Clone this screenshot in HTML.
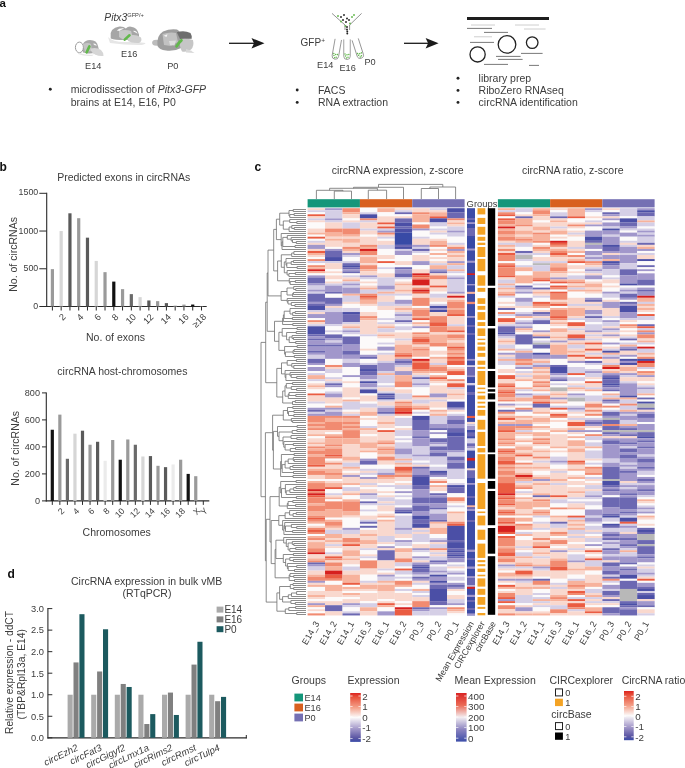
<!DOCTYPE html>
<html><head><meta charset="utf-8"><style>
html,body{margin:0;padding:0;background:#fff;}
svg{display:block;font-family:"Liberation Sans", sans-serif;will-change:transform;}
</style></head><body>
<svg width="685" height="768" viewBox="0 0 685 768">
<rect x="0" y="0" width="685" height="768" fill="#fff"/>
<text x="-0.5" y="6.5" font-size="11.5" text-anchor="start" fill="#111" style="font-weight:bold;">a</text>
<text x="-0.6" y="171.4" font-size="12" text-anchor="start" fill="#111" style="font-weight:bold;">b</text>
<text x="254.6" y="171.2" font-size="12" text-anchor="start" fill="#111" style="font-weight:bold;">c</text>
<text x="7.5" y="577.8" font-size="12" text-anchor="start" fill="#111" style="font-weight:bold;">d</text>
<text x="104.3" y="20.8" font-size="10.3" fill="#3c3c3c"><tspan style="font-style:italic">Pitx3</tspan><tspan font-size="5.7" dy="-3.7">GFP/+</tspan></text>
<defs><filter id="bl" x="-10%" y="-10%" width="120%" height="120%"><feGaussianBlur stdDeviation="0.35"/></filter></defs>
<g filter="url(#bl)">
<path d="M83 52.5 Q80 40.5 90 40 Q97 40 98 46 L99 50 Q95 54 88 53.5 Z" fill="#a9a9a9"/>
<ellipse cx="79.4" cy="47.4" rx="4.0" ry="5.3" fill="#fff" stroke="#9a9a9a" stroke-width="1"/>
<path d="M83 44 Q88 42 91 44 L92 51 L85 52 Z" fill="#c4c4c4"/>
<path d="M93.3 43.5 Q96 43 96.8 45.8 L94 45 Z" fill="#f4f4f4"/>
<path d="M90.5 48.5 Q97 47 101 50 Q104 53 103.5 56 Q99 56.5 95 54.5 Q91 52.5 90.5 48.5 Z" fill="#d6d6d6"/>
<path d="M78 52.5 Q86 55.5 94 54.5 L92 56 Q84 56.5 78 54 Z" fill="#e6e6e6"/>
<path d="M89.4 46.4 L86.6 52.4" stroke="#62b84c" stroke-width="2.6" stroke-linecap="round"/>
</g>
<g filter="url(#bl)">
<path d="M108 37 Q112 42 125 42 Q138 41.5 145.6 43 Q144 45.5 138 45 Q124 45 110 43 Z" fill="#e6e6e6"/>
<path d="M110.7 36.5 Q109.5 28 119.4 26.4 Q124 26.2 125.8 28.5 Q128 26.2 131 26.7 Q137.5 27.5 139 34.5 L139 38 Q130 40.5 124 40 Q115 40 110.7 38.5 Z" fill="#a6a6a6"/>
<path d="M116.8 30.6 Q119 28 124.1 28.4 Q121 29.6 119.5 30.9 Z" fill="#fbfbfb"/>
<path d="M133.5 30.7 Q136.5 30.5 137.6 33.7 Q135.5 32.5 133.5 31.5 Z" fill="#fbfbfb"/>
<path d="M119 31 Q125 29 131 31 L133 38 L124 40 L119 37 Z" fill="#c8c8c8"/>
<path d="M128 36 Q135 33.5 141 37.5 Q142.5 41 139 43 Q132 43.5 128 41 Z" fill="#cfcfcf"/>
<path d="M129.5 35.3 L124.7 39.6" stroke="#62b84c" stroke-width="2.6" stroke-linecap="round"/>
</g>
<g filter="url(#bl)">
<ellipse cx="156.3" cy="42.8" rx="4.2" ry="3.0" fill="#bcbcbc"/>
<path d="M157.5 46 Q156 36 163 31.5 Q170 28.6 177 29.6 Q181 31.5 181 38 L181 48 Q175 51.5 166 50.6 Q159 49.5 157.5 46 Z" fill="#9e9e9e"/>
<path d="M162.5 34 Q170 31.5 176 33 L178 42 L171 46 L164 45 Z" fill="#c2c2c2"/>
<path d="M163.8 35.8 L167.5 34.2 L166.5 37 Z" fill="#f6f6f6"/>
<path d="M169 41 L176 40.5 L174.5 45.5 L170 45 Z" fill="#dedede"/>
<path d="M176.8 32.3 Q184 30 190.5 33 Q192.3 36 191.7 38.8 L180 39 Z" fill="#6e6e6e"/>
<path d="M180 39 Q187 38 193 40 Q194.5 46 191 49.5 Q186.5 52.5 182 51.5 Q179 46 180 39 Z" fill="#c6c6c6"/>
<path d="M186 49 Q191 50 194.5 53 L186 52.4 Z" fill="#d8d8d8"/>
<path d="M181.4 40.3 Q178.6 42.6 176.6 46.4" stroke="#62b84c" stroke-width="2.8" fill="none" stroke-linecap="round"/>
</g>
<text x="85" y="69" font-size="9.2" text-anchor="start" fill="#3c3c3c" style="">E14</text>
<text x="121" y="56.6" font-size="9.2" text-anchor="start" fill="#3c3c3c" style="">E16</text>
<text x="167.2" y="69" font-size="9.2" text-anchor="start" fill="#3c3c3c" style="">P0</text>
<circle cx="50.3" cy="89.3" r="1.45" fill="#222"/>
<text x="70.7" y="93.2" font-size="10.5" fill="#3c3c3c">microdissection of <tspan style="font-style:italic">Pitx3-GFP</tspan></text>
<text x="70.7" y="105.8" font-size="10.5" text-anchor="start" fill="#3c3c3c" style="">brains at E14, E16, P0</text>
<line x1="229" y1="43.3" x2="258.5" y2="43.3" stroke="#1a1a1a" stroke-width="1.3"/>
<path d="M251.5 38.099999999999994 L264.5 43.3 L251.5 48.5 L254.0 43.3 Z" fill="#1a1a1a"/>
<line x1="404" y1="43.3" x2="432.6" y2="43.3" stroke="#1a1a1a" stroke-width="1.3"/>
<path d="M425.6 38.099999999999994 L438.6 43.3 L425.6 48.5 L428.1 43.3 Z" fill="#1a1a1a"/>
<text x="300.6" y="46.4" font-size="10" fill="#3c3c3c">GFP<tspan font-size="6.5" dy="-3.8">+</tspan></text>
<path d="M332 13.4 L345 25 L345 30 M361.6 13.4 L349.6 25 L349.6 30" stroke="#777" stroke-width="0.8" fill="none"/>
<circle cx="341" cy="17" r="0.95" fill="#222"/>
<circle cx="344" cy="15" r="0.95" fill="#222"/>
<circle cx="347" cy="18.5" r="0.95" fill="#222"/>
<circle cx="343" cy="20" r="0.95" fill="#222"/>
<circle cx="346" cy="22" r="0.95" fill="#222"/>
<circle cx="349" cy="20" r="0.95" fill="#222"/>
<circle cx="338" cy="16" r="0.95" fill="#62b84c"/>
<circle cx="352" cy="17" r="0.95" fill="#62b84c"/>
<circle cx="354" cy="15" r="0.95" fill="#62b84c"/>
<circle cx="341" cy="21.5" r="0.95" fill="#62b84c"/>
<circle cx="350" cy="23.5" r="0.95" fill="#62b84c"/>
<circle cx="345.5" cy="26" r="0.95" fill="#62b84c"/>
<circle cx="347" cy="27" r="0.95" fill="#222"/>
<circle cx="347" cy="29.5" r="0.95" fill="#222"/>
<circle cx="347.3" cy="31.5" r="0.95" fill="#222"/>
<circle cx="347.3" cy="33.5" r="0.95" fill="#222"/>
<g transform="translate(338.3 39.4) rotate(10.02)">
<path d="M-3.25 0 L-3.25 16.856963967740136 A3.25 3.25 0 0 0 3.25 16.856963967740136 L3.25 0" stroke="#888" stroke-width="0.8" fill="none"/>
<circle cx="-1.5" cy="16.606963967740136" r="0.75" fill="#62b84c"/>
<circle cx="1" cy="17.906963967740136" r="0.75" fill="#62b84c"/>
<circle cx="0" cy="15.306963967740135" r="0.75" fill="#62b84c"/>
<circle cx="1.8" cy="15.106963967740136" r="0.75" fill="#62b84c"/>
<circle cx="-0.5" cy="18.606963967740136" r="0.75" fill="#62b84c"/>
<circle cx="-2" cy="14.606963967740136" r="0.75" fill="#62b84c"/>
</g>
<g transform="translate(347 39.4) rotate(0.00)">
<path d="M-3.25 0 L-3.25 16.85 A3.25 3.25 0 0 0 3.25 16.85 L3.25 0" stroke="#888" stroke-width="0.8" fill="none"/>
<circle cx="-1.5" cy="16.6" r="0.75" fill="#62b84c"/>
<circle cx="1" cy="17.900000000000002" r="0.75" fill="#62b84c"/>
<circle cx="0" cy="15.3" r="0.75" fill="#62b84c"/>
<circle cx="1.8" cy="15.100000000000001" r="0.75" fill="#62b84c"/>
<circle cx="-0.5" cy="18.6" r="0.75" fill="#62b84c"/>
<circle cx="-2" cy="14.600000000000001" r="0.75" fill="#62b84c"/>
</g>
<g transform="translate(355.2 39.4) rotate(-17.70)">
<path d="M-3.25 0 L-3.25 16.48423421367042 A3.25 3.25 0 0 0 3.25 16.48423421367042 L3.25 0" stroke="#888" stroke-width="0.8" fill="none"/>
<circle cx="-1.5" cy="16.23423421367042" r="0.75" fill="#62b84c"/>
<circle cx="1" cy="17.53423421367042" r="0.75" fill="#62b84c"/>
<circle cx="0" cy="14.934234213670418" r="0.75" fill="#62b84c"/>
<circle cx="1.8" cy="14.734234213670419" r="0.75" fill="#62b84c"/>
<circle cx="-0.5" cy="18.23423421367042" r="0.75" fill="#62b84c"/>
<circle cx="-2" cy="14.234234213670419" r="0.75" fill="#62b84c"/>
</g>
<text x="317" y="67.6" font-size="9.2" text-anchor="start" fill="#3c3c3c" style="">E14</text>
<text x="339.4" y="70.6" font-size="9.2" text-anchor="start" fill="#3c3c3c" style="">E16</text>
<text x="364.4" y="65" font-size="9.2" text-anchor="start" fill="#3c3c3c" style="">P0</text>
<circle cx="297.2" cy="90" r="1.45" fill="#222"/>
<circle cx="297.2" cy="102.4" r="1.45" fill="#222"/>
<text x="318" y="93.6" font-size="10.5" text-anchor="start" fill="#3c3c3c" style="">FACS</text>
<text x="318" y="106" font-size="10.5" text-anchor="start" fill="#3c3c3c" style="">RNA extraction</text>
<rect x="467.00" y="17.00" width="82.00" height="3.00" fill="#1e1e1e"/>
<line x1="471" y1="25" x2="495" y2="25" stroke="#c8c8c8" stroke-width="0.9"/>
<line x1="467" y1="28.4" x2="492" y2="28.4" stroke="#6a6a6a" stroke-width="0.9"/>
<line x1="515" y1="25" x2="539" y2="25" stroke="#c8c8c8" stroke-width="0.9"/>
<line x1="524" y1="29" x2="545.6" y2="29" stroke="#c8c8c8" stroke-width="0.9"/>
<line x1="484" y1="32.4" x2="508" y2="32.4" stroke="#6a6a6a" stroke-width="0.9"/>
<line x1="474" y1="36.8" x2="492" y2="36.8" stroke="#c8c8c8" stroke-width="0.9"/>
<line x1="470" y1="42.4" x2="494" y2="42.4" stroke="#6a6a6a" stroke-width="0.9"/>
<line x1="521" y1="53.4" x2="542.6" y2="53.4" stroke="#6a6a6a" stroke-width="0.9"/>
<line x1="496" y1="56.4" x2="520.6" y2="56.4" stroke="#6a6a6a" stroke-width="0.9"/>
<line x1="498" y1="59.4" x2="522.6" y2="59.4" stroke="#6a6a6a" stroke-width="0.9"/>
<line x1="484" y1="64.4" x2="508" y2="64.4" stroke="#6a6a6a" stroke-width="0.9"/>
<line x1="529" y1="65.4" x2="539" y2="65.4" stroke="#6a6a6a" stroke-width="0.9"/>
<circle cx="477.6" cy="54.4" r="7.6" fill="none" stroke="#222" stroke-width="1.3"/>
<circle cx="507" cy="44.4" r="8.8" fill="none" stroke="#222" stroke-width="1.3"/>
<circle cx="532.2" cy="42.6" r="5.8" fill="none" stroke="#222" stroke-width="1.3"/>
<circle cx="458" cy="78.2" r="1.45" fill="#222"/>
<circle cx="458" cy="90.4" r="1.45" fill="#222"/>
<circle cx="458" cy="102.4" r="1.45" fill="#222"/>
<text x="478.6" y="81.5" font-size="10.5" text-anchor="start" fill="#3c3c3c" style="">library prep</text>
<text x="478.6" y="93.6" font-size="10.5" text-anchor="start" fill="#3c3c3c" style="">RiboZero RNAseq</text>
<text x="478.6" y="105.6" font-size="10.5" text-anchor="start" fill="#3c3c3c" style="">circRNA identification</text>
<text x="57.2" y="180.8" font-size="10.5" text-anchor="start" fill="#3c3c3c" style="">Predicted exons in circRNAs</text>
<line x1="46.7" y1="192.8" x2="46.7" y2="307.1" stroke="#2a2a2a" stroke-width="1.1"/>
<line x1="46.2" y1="306.5" x2="206.7" y2="306.5" stroke="#2a2a2a" stroke-width="1.1"/>
<line x1="39.3" y1="193.3" x2="46.7" y2="193.3" stroke="#2a2a2a" stroke-width="1.0"/>
<text x="38.2" y="194.5" font-size="8.8" text-anchor="end" fill="#3c3c3c" style="">1500</text>
<line x1="39.3" y1="231.03333333333336" x2="46.7" y2="231.03333333333336" stroke="#2a2a2a" stroke-width="1.0"/>
<text x="38.2" y="233.73333333333335" font-size="8.8" text-anchor="end" fill="#3c3c3c" style="">1000</text>
<line x1="39.3" y1="268.76666666666665" x2="46.7" y2="268.76666666666665" stroke="#2a2a2a" stroke-width="1.0"/>
<text x="38.2" y="271.46666666666664" font-size="8.8" text-anchor="end" fill="#3c3c3c" style="">500</text>
<line x1="39.3" y1="306.5" x2="46.7" y2="306.5" stroke="#2a2a2a" stroke-width="1.0"/>
<text x="38.2" y="309.2" font-size="8.8" text-anchor="end" fill="#3c3c3c" style="">0</text>
<rect x="50.80" y="269.14" width="3.20" height="37.36" fill="#9a9a9a"/>
<line x1="52.4" y1="306.5" x2="52.4" y2="310.5" stroke="#2a2a2a" stroke-width="1.0"/>
<rect x="59.57" y="231.03" width="3.20" height="75.47" fill="#d6d6d6"/>
<line x1="61.17" y1="306.5" x2="61.17" y2="310.5" stroke="#2a2a2a" stroke-width="1.0"/>
<text x="66.47" y="317.5" font-size="9.2" text-anchor="end" fill="#3c3c3c" style="" transform="rotate(-45 66.47 317.5)">2</text>
<rect x="68.34" y="213.30" width="3.20" height="93.20" fill="#5a5a5a"/>
<line x1="69.94" y1="306.5" x2="69.94" y2="310.5" stroke="#2a2a2a" stroke-width="1.0"/>
<rect x="77.11" y="218.20" width="3.20" height="88.30" fill="#9a9a9a"/>
<line x1="78.71" y1="306.5" x2="78.71" y2="310.5" stroke="#2a2a2a" stroke-width="1.0"/>
<text x="84.00999999999999" y="317.5" font-size="9.2" text-anchor="end" fill="#3c3c3c" style="" transform="rotate(-45 84.00999999999999 317.5)">4</text>
<rect x="85.88" y="237.67" width="3.20" height="68.83" fill="#5a5a5a"/>
<line x1="87.47999999999999" y1="306.5" x2="87.47999999999999" y2="310.5" stroke="#2a2a2a" stroke-width="1.0"/>
<rect x="94.65" y="260.92" width="3.20" height="45.58" fill="#d6d6d6"/>
<line x1="96.25" y1="306.5" x2="96.25" y2="310.5" stroke="#2a2a2a" stroke-width="1.0"/>
<text x="101.55" y="317.5" font-size="9.2" text-anchor="end" fill="#3c3c3c" style="" transform="rotate(-45 101.55 317.5)">6</text>
<rect x="103.42" y="272.16" width="3.20" height="34.34" fill="#9a9a9a"/>
<line x1="105.02" y1="306.5" x2="105.02" y2="310.5" stroke="#2a2a2a" stroke-width="1.0"/>
<rect x="112.19" y="281.60" width="3.20" height="24.90" fill="#111111"/>
<line x1="113.78999999999999" y1="306.5" x2="113.78999999999999" y2="310.5" stroke="#2a2a2a" stroke-width="1.0"/>
<text x="119.08999999999999" y="317.5" font-size="9.2" text-anchor="end" fill="#3c3c3c" style="" transform="rotate(-45 119.08999999999999 317.5)">8</text>
<rect x="120.96" y="289.14" width="3.20" height="17.36" fill="#9a9a9a"/>
<line x1="122.56" y1="306.5" x2="122.56" y2="310.5" stroke="#2a2a2a" stroke-width="1.0"/>
<rect x="129.73" y="294.12" width="3.20" height="12.38" fill="#6a6a6a"/>
<line x1="131.32999999999998" y1="306.5" x2="131.32999999999998" y2="310.5" stroke="#2a2a2a" stroke-width="1.0"/>
<text x="136.63" y="317.5" font-size="9.2" text-anchor="end" fill="#3c3c3c" style="" transform="rotate(-45 136.63 317.5)">10</text>
<rect x="138.50" y="297.14" width="3.20" height="9.36" fill="#d6d6d6"/>
<line x1="140.1" y1="306.5" x2="140.1" y2="310.5" stroke="#2a2a2a" stroke-width="1.0"/>
<rect x="147.27" y="300.46" width="3.20" height="6.04" fill="#5a5a5a"/>
<line x1="148.87" y1="306.5" x2="148.87" y2="310.5" stroke="#2a2a2a" stroke-width="1.0"/>
<text x="154.17000000000002" y="317.5" font-size="9.2" text-anchor="end" fill="#3c3c3c" style="" transform="rotate(-45 154.17000000000002 317.5)">12</text>
<rect x="156.04" y="301.14" width="3.20" height="5.36" fill="#9a9a9a"/>
<line x1="157.64" y1="306.5" x2="157.64" y2="310.5" stroke="#2a2a2a" stroke-width="1.0"/>
<rect x="164.81" y="303.10" width="3.20" height="3.40" fill="#5a5a5a"/>
<line x1="166.41" y1="306.5" x2="166.41" y2="310.5" stroke="#2a2a2a" stroke-width="1.0"/>
<text x="171.71" y="317.5" font-size="9.2" text-anchor="end" fill="#3c3c3c" style="" transform="rotate(-45 171.71 317.5)">14</text>
<rect x="173.58" y="305.14" width="3.20" height="1.36" fill="#d6d6d6"/>
<line x1="175.18" y1="306.5" x2="175.18" y2="310.5" stroke="#2a2a2a" stroke-width="1.0"/>
<rect x="182.35" y="304.61" width="3.20" height="1.89" fill="#9a9a9a"/>
<line x1="183.95" y1="306.5" x2="183.95" y2="310.5" stroke="#2a2a2a" stroke-width="1.0"/>
<text x="189.25" y="317.5" font-size="9.2" text-anchor="end" fill="#3c3c3c" style="" transform="rotate(-45 189.25 317.5)">16</text>
<rect x="191.12" y="304.54" width="3.20" height="1.96" fill="#111111"/>
<line x1="192.72" y1="306.5" x2="192.72" y2="310.5" stroke="#2a2a2a" stroke-width="1.0"/>
<rect x="199.89" y="306.05" width="3.20" height="0.45" fill="#9a9a9a"/>
<line x1="201.49" y1="306.5" x2="201.49" y2="310.5" stroke="#2a2a2a" stroke-width="1.0"/>
<text x="206.79000000000002" y="317.5" font-size="9.2" text-anchor="end" fill="#3c3c3c" style="" transform="rotate(-45 206.79000000000002 317.5)">&#8805;18</text>
<text x="115.5" y="341" font-size="10.5" text-anchor="middle" fill="#3c3c3c" style="">No. of exons</text>
<text x="16.6" y="254.4" font-size="10.5" text-anchor="middle" fill="#3c3c3c" style="" transform="rotate(-90 16.6 254.4)">No. of circRNAs</text>
<text x="57.3" y="375" font-size="10.5" text-anchor="start" fill="#3c3c3c" style="">circRNA host-chromosomes</text>
<line x1="46.3" y1="392.4" x2="46.3" y2="501.5" stroke="#2a2a2a" stroke-width="1.1"/>
<line x1="45.8" y1="500.9" x2="209.3" y2="500.9" stroke="#2a2a2a" stroke-width="1.1"/>
<line x1="42.0" y1="392.9" x2="46.3" y2="392.9" stroke="#2a2a2a" stroke-width="1.0"/>
<text x="40.0" y="395.7" font-size="9.1" text-anchor="end" fill="#3c3c3c" style="">800</text>
<line x1="42.0" y1="419.9" x2="46.3" y2="419.9" stroke="#2a2a2a" stroke-width="1.0"/>
<text x="40.0" y="422.7" font-size="9.1" text-anchor="end" fill="#3c3c3c" style="">600</text>
<line x1="42.0" y1="446.9" x2="46.3" y2="446.9" stroke="#2a2a2a" stroke-width="1.0"/>
<text x="40.0" y="449.7" font-size="9.1" text-anchor="end" fill="#3c3c3c" style="">400</text>
<line x1="42.0" y1="473.9" x2="46.3" y2="473.9" stroke="#2a2a2a" stroke-width="1.0"/>
<text x="40.0" y="476.7" font-size="9.1" text-anchor="end" fill="#3c3c3c" style="">200</text>
<line x1="42.0" y1="500.9" x2="46.3" y2="500.9" stroke="#2a2a2a" stroke-width="1.0"/>
<text x="40.0" y="503.7" font-size="9.1" text-anchor="end" fill="#3c3c3c" style="">0</text>
<rect x="50.70" y="429.75" width="3.20" height="71.15" fill="#111111"/>
<line x1="52.3" y1="500.9" x2="52.3" y2="504.9" stroke="#2a2a2a" stroke-width="1.0"/>
<rect x="58.25" y="414.63" width="3.20" height="86.27" fill="#9a9a9a"/>
<line x1="59.849999999999994" y1="500.9" x2="59.849999999999994" y2="504.9" stroke="#2a2a2a" stroke-width="1.0"/>
<text x="64.85" y="511.5" font-size="8.7" text-anchor="end" fill="#3c3c3c" style="" transform="rotate(-45 64.85 511.5)">2</text>
<rect x="65.80" y="458.78" width="3.20" height="42.12" fill="#6a6a6a"/>
<line x1="67.39999999999999" y1="500.9" x2="67.39999999999999" y2="504.9" stroke="#2a2a2a" stroke-width="1.0"/>
<rect x="73.35" y="433.67" width="3.20" height="67.23" fill="#d6d6d6"/>
<line x1="74.94999999999999" y1="500.9" x2="74.94999999999999" y2="504.9" stroke="#2a2a2a" stroke-width="1.0"/>
<text x="79.94999999999999" y="511.5" font-size="8.7" text-anchor="end" fill="#3c3c3c" style="" transform="rotate(-45 79.94999999999999 511.5)">4</text>
<rect x="80.90" y="430.70" width="3.20" height="70.20" fill="#5a5a5a"/>
<line x1="82.5" y1="500.9" x2="82.5" y2="504.9" stroke="#2a2a2a" stroke-width="1.0"/>
<rect x="88.45" y="444.74" width="3.20" height="56.16" fill="#9a9a9a"/>
<line x1="90.05" y1="500.9" x2="90.05" y2="504.9" stroke="#2a2a2a" stroke-width="1.0"/>
<text x="95.05" y="511.5" font-size="8.7" text-anchor="end" fill="#3c3c3c" style="" transform="rotate(-45 95.05 511.5)">6</text>
<rect x="96.00" y="441.77" width="3.20" height="59.13" fill="#5a5a5a"/>
<line x1="97.6" y1="500.9" x2="97.6" y2="504.9" stroke="#2a2a2a" stroke-width="1.0"/>
<rect x="103.55" y="460.80" width="3.20" height="40.10" fill="#ebebeb"/>
<line x1="105.15" y1="500.9" x2="105.15" y2="504.9" stroke="#2a2a2a" stroke-width="1.0"/>
<text x="110.15" y="511.5" font-size="8.7" text-anchor="end" fill="#3c3c3c" style="" transform="rotate(-45 110.15 511.5)">8</text>
<rect x="111.10" y="440.01" width="3.20" height="60.89" fill="#9a9a9a"/>
<line x1="112.69999999999999" y1="500.9" x2="112.69999999999999" y2="504.9" stroke="#2a2a2a" stroke-width="1.0"/>
<rect x="118.65" y="459.72" width="3.20" height="41.18" fill="#111111"/>
<line x1="120.25" y1="500.9" x2="120.25" y2="504.9" stroke="#2a2a2a" stroke-width="1.0"/>
<text x="125.25" y="511.5" font-size="8.7" text-anchor="end" fill="#3c3c3c" style="" transform="rotate(-45 125.25 511.5)">10</text>
<rect x="126.20" y="439.47" width="3.20" height="61.43" fill="#9a9a9a"/>
<line x1="127.8" y1="500.9" x2="127.8" y2="504.9" stroke="#2a2a2a" stroke-width="1.0"/>
<rect x="133.75" y="444.74" width="3.20" height="56.16" fill="#6a6a6a"/>
<line x1="135.35" y1="500.9" x2="135.35" y2="504.9" stroke="#2a2a2a" stroke-width="1.0"/>
<text x="140.35" y="511.5" font-size="8.7" text-anchor="end" fill="#3c3c3c" style="" transform="rotate(-45 140.35 511.5)">12</text>
<rect x="141.30" y="456.48" width="3.20" height="44.42" fill="#d6d6d6"/>
<line x1="142.89999999999998" y1="500.9" x2="142.89999999999998" y2="504.9" stroke="#2a2a2a" stroke-width="1.0"/>
<rect x="148.85" y="456.08" width="3.20" height="44.82" fill="#5a5a5a"/>
<line x1="150.45" y1="500.9" x2="150.45" y2="504.9" stroke="#2a2a2a" stroke-width="1.0"/>
<text x="155.45" y="511.5" font-size="8.7" text-anchor="end" fill="#3c3c3c" style="" transform="rotate(-45 155.45 511.5)">14</text>
<rect x="156.40" y="465.80" width="3.20" height="35.10" fill="#9a9a9a"/>
<line x1="158.0" y1="500.9" x2="158.0" y2="504.9" stroke="#2a2a2a" stroke-width="1.0"/>
<rect x="163.95" y="467.15" width="3.20" height="33.75" fill="#5a5a5a"/>
<line x1="165.55" y1="500.9" x2="165.55" y2="504.9" stroke="#2a2a2a" stroke-width="1.0"/>
<text x="170.55" y="511.5" font-size="8.7" text-anchor="end" fill="#3c3c3c" style="" transform="rotate(-45 170.55 511.5)">16</text>
<rect x="171.50" y="464.45" width="3.20" height="36.45" fill="#ebebeb"/>
<line x1="173.1" y1="500.9" x2="173.1" y2="504.9" stroke="#2a2a2a" stroke-width="1.0"/>
<rect x="179.05" y="459.72" width="3.20" height="41.18" fill="#9a9a9a"/>
<line x1="180.64999999999998" y1="500.9" x2="180.64999999999998" y2="504.9" stroke="#2a2a2a" stroke-width="1.0"/>
<text x="185.64999999999998" y="511.5" font-size="8.7" text-anchor="end" fill="#3c3c3c" style="" transform="rotate(-45 185.64999999999998 511.5)">18</text>
<rect x="186.60" y="473.90" width="3.20" height="27.00" fill="#111111"/>
<line x1="188.2" y1="500.9" x2="188.2" y2="504.9" stroke="#2a2a2a" stroke-width="1.0"/>
<rect x="194.15" y="476.19" width="3.20" height="24.71" fill="#9a9a9a"/>
<line x1="195.75" y1="500.9" x2="195.75" y2="504.9" stroke="#2a2a2a" stroke-width="1.0"/>
<text x="200.75" y="511.5" font-size="8.7" text-anchor="end" fill="#3c3c3c" style="" transform="rotate(-45 200.75 511.5)">X</text>
<rect x="201.70" y="500.36" width="3.20" height="0.54" fill="#5a5a5a"/>
<line x1="203.3" y1="500.9" x2="203.3" y2="504.9" stroke="#2a2a2a" stroke-width="1.0"/>
<text x="208.3" y="511.5" font-size="8.7" text-anchor="end" fill="#3c3c3c" style="" transform="rotate(-45 208.3 511.5)">Y</text>
<text x="116.7" y="535.6" font-size="10.5" text-anchor="middle" fill="#3c3c3c" style="">Chromosomes</text>
<text x="18.9" y="448.3" font-size="10.5" text-anchor="middle" fill="#3c3c3c" style="" transform="rotate(-90 18.9 448.3)">No. of circRNAs</text>
<text x="146.6" y="585" font-size="10.5" text-anchor="middle" fill="#3c3c3c" style="">CircRNA expression in bulk vMB</text>
<text x="147" y="596.7" font-size="10.5" text-anchor="middle" fill="#3c3c3c" style="">(RTqPCR)</text>
<line x1="47.9" y1="608.1" x2="47.9" y2="738.4" stroke="#2a2a2a" stroke-width="1.1"/>
<line x1="47.4" y1="737.8" x2="246.8" y2="737.8" stroke="#2a2a2a" stroke-width="1.2"/>
<line x1="246.3" y1="738.3" x2="246.3" y2="735.0" stroke="#2a2a2a" stroke-width="1.0"/>
<line x1="47.9" y1="608.6" x2="52.3" y2="608.6" stroke="#2a2a2a" stroke-width="1.0"/>
<text x="44.0" y="611.9" font-size="9.3" text-anchor="end" fill="#3c3c3c" style="">3.0</text>
<line x1="47.9" y1="630.1333333333333" x2="52.3" y2="630.1333333333333" stroke="#2a2a2a" stroke-width="1.0"/>
<text x="44.0" y="633.4333333333333" font-size="9.3" text-anchor="end" fill="#3c3c3c" style="">2.5</text>
<line x1="47.9" y1="651.6666666666666" x2="52.3" y2="651.6666666666666" stroke="#2a2a2a" stroke-width="1.0"/>
<text x="44.0" y="654.9666666666666" font-size="9.3" text-anchor="end" fill="#3c3c3c" style="">2.0</text>
<line x1="47.9" y1="673.2" x2="52.3" y2="673.2" stroke="#2a2a2a" stroke-width="1.0"/>
<text x="44.0" y="676.5" font-size="9.3" text-anchor="end" fill="#3c3c3c" style="">1.5</text>
<line x1="47.9" y1="694.7333333333333" x2="52.3" y2="694.7333333333333" stroke="#2a2a2a" stroke-width="1.0"/>
<text x="44.0" y="698.0333333333333" font-size="9.3" text-anchor="end" fill="#3c3c3c" style="">1.0</text>
<line x1="47.9" y1="716.2666666666667" x2="52.3" y2="716.2666666666667" stroke="#2a2a2a" stroke-width="1.0"/>
<text x="44.0" y="719.5666666666666" font-size="9.3" text-anchor="end" fill="#3c3c3c" style="">0.5</text>
<line x1="47.9" y1="737.8" x2="52.3" y2="737.8" stroke="#2a2a2a" stroke-width="1.0"/>
<text x="44.0" y="741.0999999999999" font-size="9.3" text-anchor="end" fill="#3c3c3c" style="">0.0</text>
<rect x="67.60" y="694.73" width="5.10" height="43.07" fill="#aaaaaa"/>
<rect x="73.50" y="662.43" width="5.10" height="75.37" fill="#808080"/>
<rect x="79.40" y="614.20" width="5.10" height="123.60" fill="#1c5a5f"/>
<text x="78.9" y="749.8" font-size="9.6" text-anchor="end" fill="#3c3c3c" style="font-style:italic" transform="rotate(-26 78.9 749.8)">circEzh2</text>
<rect x="91.20" y="694.73" width="5.10" height="43.07" fill="#aaaaaa"/>
<rect x="97.10" y="671.48" width="5.10" height="66.32" fill="#808080"/>
<rect x="103.00" y="629.27" width="5.10" height="108.53" fill="#1c5a5f"/>
<text x="102.5" y="749.8" font-size="9.6" text-anchor="end" fill="#3c3c3c" style="font-style:italic" transform="rotate(-26 102.5 749.8)">circFat3</text>
<rect x="114.80" y="694.73" width="5.10" height="43.07" fill="#aaaaaa"/>
<rect x="120.70" y="683.97" width="5.10" height="53.83" fill="#808080"/>
<rect x="126.60" y="686.98" width="5.10" height="50.82" fill="#1c5a5f"/>
<text x="126.1" y="749.8" font-size="9.6" text-anchor="end" fill="#3c3c3c" style="font-style:italic" transform="rotate(-26 126.1 749.8)">circGigyf2</text>
<rect x="138.40" y="694.73" width="5.10" height="43.07" fill="#aaaaaa"/>
<rect x="144.30" y="724.02" width="5.10" height="13.78" fill="#808080"/>
<rect x="150.20" y="714.11" width="5.10" height="23.69" fill="#1c5a5f"/>
<text x="149.7" y="749.8" font-size="9.6" text-anchor="end" fill="#3c3c3c" style="font-style:italic" transform="rotate(-26 149.7 749.8)">circLmx1a</text>
<rect x="162.00" y="694.73" width="5.10" height="43.07" fill="#aaaaaa"/>
<rect x="167.90" y="692.58" width="5.10" height="45.22" fill="#808080"/>
<rect x="173.80" y="714.97" width="5.10" height="22.83" fill="#1c5a5f"/>
<text x="173.3" y="749.8" font-size="9.6" text-anchor="end" fill="#3c3c3c" style="font-style:italic" transform="rotate(-26 173.3 749.8)">circRims2</text>
<rect x="185.60" y="694.73" width="5.10" height="43.07" fill="#aaaaaa"/>
<rect x="191.50" y="664.59" width="5.10" height="73.21" fill="#808080"/>
<rect x="197.40" y="641.76" width="5.10" height="96.04" fill="#1c5a5f"/>
<text x="196.9" y="749.8" font-size="9.6" text-anchor="end" fill="#3c3c3c" style="font-style:italic" transform="rotate(-26 196.9 749.8)">circRmst</text>
<rect x="209.20" y="694.73" width="5.10" height="43.07" fill="#aaaaaa"/>
<rect x="215.10" y="701.19" width="5.10" height="36.61" fill="#808080"/>
<rect x="221.00" y="696.89" width="5.10" height="40.91" fill="#1c5a5f"/>
<text x="220.5" y="749.8" font-size="9.6" text-anchor="end" fill="#3c3c3c" style="font-style:italic" transform="rotate(-26 220.5 749.8)">circTulp4</text>
<rect x="216.60" y="606.60" width="6.80" height="6.00" fill="#aaaaaa"/>
<text x="224.4" y="613.2" font-size="10" text-anchor="start" fill="#3c3c3c" style="">E14</text>
<rect x="216.60" y="616.40" width="6.80" height="6.00" fill="#808080"/>
<text x="224.4" y="623.0" font-size="10" text-anchor="start" fill="#3c3c3c" style="">E16</text>
<rect x="216.60" y="626.20" width="6.80" height="6.00" fill="#1c5a5f"/>
<text x="224.4" y="632.8000000000001" font-size="10" text-anchor="start" fill="#3c3c3c" style="">P0</text>
<text x="12.9" y="672.5" font-size="10.2" text-anchor="middle" fill="#3c3c3c" style="" transform="rotate(-90 12.9 672.5)">Relative expression - ddCT</text>
<text x="25.0" y="674.2" font-size="10.3" text-anchor="middle" fill="#3c3c3c" style="" transform="rotate(-90 25.0 674.2)">(TBP&amp;Rpl13a, E14)</text>
<rect x="307.60" y="199.20" width="52.33" height="8.20" fill="#14967a"/>
<rect x="359.93" y="199.20" width="52.33" height="8.20" fill="#d8601f"/>
<rect x="412.27" y="199.20" width="52.33" height="8.20" fill="#7570b3"/>
<rect x="497.90" y="199.20" width="52.23" height="8.20" fill="#14967a"/>
<rect x="550.13" y="199.20" width="52.23" height="8.20" fill="#d8601f"/>
<rect x="602.37" y="199.20" width="52.23" height="8.20" fill="#7570b3"/>
<text x="466.6" y="207.0" font-size="9.4" text-anchor="start" fill="#3c3c3c" style="">Groups</text>
<rect x="307.60" y="208.20" width="17.49" height="2.09" fill="#f9d8ce"/>
<rect x="307.60" y="210.24" width="17.49" height="2.09" fill="#d5cfe6"/>
<rect x="307.60" y="212.27" width="17.49" height="2.09" fill="#fcfafa"/>
<rect x="307.60" y="214.31" width="17.49" height="2.09" fill="#ea5c42"/>
<rect x="307.60" y="216.34" width="17.49" height="2.09" fill="#f9d8ce"/>
<rect x="307.60" y="218.38" width="17.49" height="2.09" fill="#d5cfe6"/>
<rect x="307.60" y="220.42" width="17.49" height="2.09" fill="#f9d8ce"/>
<rect x="307.60" y="222.45" width="17.49" height="6.16" fill="#fcfafa"/>
<rect x="307.60" y="228.56" width="17.49" height="4.12" fill="#f9d8ce"/>
<rect x="307.60" y="232.63" width="17.49" height="2.09" fill="#f7b29c"/>
<rect x="307.60" y="234.67" width="17.49" height="2.09" fill="#fcfafa"/>
<rect x="307.60" y="236.70" width="17.49" height="2.09" fill="#ea5c42"/>
<rect x="307.60" y="238.74" width="17.49" height="2.09" fill="#fcfafa"/>
<rect x="307.60" y="240.78" width="17.49" height="2.09" fill="#d5cfe6"/>
<rect x="307.60" y="242.81" width="17.49" height="2.09" fill="#f9d8ce"/>
<rect x="307.60" y="244.85" width="17.49" height="4.12" fill="#a197cb"/>
<rect x="307.60" y="248.92" width="17.49" height="2.09" fill="#f9d8ce"/>
<rect x="307.60" y="250.96" width="17.49" height="2.09" fill="#ea5c42"/>
<rect x="307.60" y="252.99" width="17.49" height="2.09" fill="#f7b29c"/>
<rect x="307.60" y="255.03" width="17.49" height="2.09" fill="#f9d8ce"/>
<rect x="307.60" y="257.06" width="17.49" height="2.09" fill="#fcfafa"/>
<rect x="307.60" y="259.10" width="17.49" height="2.09" fill="#f18b71"/>
<rect x="307.60" y="261.14" width="17.49" height="2.09" fill="#d5cfe6"/>
<rect x="307.60" y="263.17" width="17.49" height="2.09" fill="#fcfafa"/>
<rect x="307.60" y="265.21" width="17.49" height="2.09" fill="#f18b71"/>
<rect x="307.60" y="267.24" width="17.49" height="2.09" fill="#f7b29c"/>
<rect x="307.60" y="269.28" width="17.49" height="2.09" fill="#d6201e"/>
<rect x="307.60" y="271.32" width="17.49" height="2.09" fill="#f7b29c"/>
<rect x="307.60" y="273.35" width="17.49" height="2.09" fill="#fcfafa"/>
<rect x="307.60" y="275.39" width="17.49" height="2.09" fill="#a197cb"/>
<rect x="307.60" y="277.42" width="17.49" height="6.16" fill="#6c68b2"/>
<rect x="307.60" y="283.53" width="17.49" height="2.09" fill="#a197cb"/>
<rect x="307.60" y="285.57" width="17.49" height="4.12" fill="#d5cfe6"/>
<rect x="307.60" y="289.64" width="17.49" height="2.09" fill="#a197cb"/>
<rect x="307.60" y="291.68" width="17.49" height="2.09" fill="#d5cfe6"/>
<rect x="307.60" y="293.71" width="17.49" height="8.19" fill="#6c68b2"/>
<rect x="307.60" y="301.86" width="17.49" height="2.09" fill="#a197cb"/>
<rect x="307.60" y="303.89" width="17.49" height="2.09" fill="#6c68b2"/>
<rect x="307.60" y="305.93" width="17.49" height="4.12" fill="#4b4fa6"/>
<rect x="307.60" y="310.00" width="17.49" height="2.09" fill="#d5cfe6"/>
<rect x="307.60" y="312.04" width="17.49" height="2.09" fill="#f9d8ce"/>
<rect x="307.60" y="314.07" width="17.49" height="4.12" fill="#a197cb"/>
<rect x="307.60" y="318.14" width="17.49" height="2.09" fill="#fcfafa"/>
<rect x="307.60" y="320.18" width="17.49" height="2.09" fill="#f18b71"/>
<rect x="307.60" y="322.22" width="17.49" height="2.09" fill="#f9d8ce"/>
<rect x="307.60" y="324.25" width="17.49" height="2.09" fill="#d5cfe6"/>
<rect x="307.60" y="326.29" width="17.49" height="8.19" fill="#4b4fa6"/>
<rect x="307.60" y="334.43" width="17.49" height="2.09" fill="#6c68b2"/>
<rect x="307.60" y="336.47" width="17.49" height="2.09" fill="#a197cb"/>
<rect x="307.60" y="338.50" width="17.49" height="2.09" fill="#6c68b2"/>
<rect x="307.60" y="340.54" width="17.49" height="4.12" fill="#a197cb"/>
<rect x="307.60" y="344.61" width="17.49" height="2.09" fill="#6c68b2"/>
<rect x="307.60" y="346.65" width="17.49" height="4.12" fill="#a197cb"/>
<rect x="307.60" y="350.72" width="17.49" height="2.09" fill="#6c68b2"/>
<rect x="307.60" y="352.76" width="17.49" height="2.09" fill="#a197cb"/>
<rect x="307.60" y="354.79" width="17.49" height="4.12" fill="#d5cfe6"/>
<rect x="307.60" y="358.86" width="17.49" height="4.12" fill="#6c68b2"/>
<rect x="307.60" y="362.94" width="17.49" height="2.09" fill="#a197cb"/>
<rect x="307.60" y="364.97" width="17.49" height="2.09" fill="#fcfafa"/>
<rect x="307.60" y="367.01" width="17.49" height="4.12" fill="#a197cb"/>
<rect x="307.60" y="371.08" width="17.49" height="2.09" fill="#fcfafa"/>
<rect x="307.60" y="373.12" width="17.49" height="2.09" fill="#d5cfe6"/>
<rect x="307.60" y="375.15" width="17.49" height="4.12" fill="#f7b29c"/>
<rect x="307.60" y="379.22" width="17.49" height="2.09" fill="#d5cfe6"/>
<rect x="307.60" y="381.26" width="17.49" height="2.09" fill="#fcfafa"/>
<rect x="307.60" y="383.30" width="17.49" height="2.09" fill="#f9d8ce"/>
<rect x="307.60" y="385.33" width="17.49" height="2.09" fill="#f7b29c"/>
<rect x="307.60" y="387.37" width="17.49" height="2.09" fill="#f9d8ce"/>
<rect x="307.60" y="389.40" width="17.49" height="4.12" fill="#fcfafa"/>
<rect x="307.60" y="393.48" width="17.49" height="2.09" fill="#ea5c42"/>
<rect x="307.60" y="395.51" width="17.49" height="6.16" fill="#f9d8ce"/>
<rect x="307.60" y="401.62" width="17.49" height="2.09" fill="#d5cfe6"/>
<rect x="307.60" y="403.66" width="17.49" height="4.12" fill="#fcfafa"/>
<rect x="307.60" y="407.73" width="17.49" height="2.09" fill="#a197cb"/>
<rect x="307.60" y="409.76" width="17.49" height="2.09" fill="#6c68b2"/>
<rect x="307.60" y="411.80" width="17.49" height="2.09" fill="#d5cfe6"/>
<rect x="307.60" y="413.84" width="17.49" height="2.09" fill="#a197cb"/>
<rect x="307.60" y="415.87" width="17.49" height="6.16" fill="#f18b71"/>
<rect x="307.60" y="421.98" width="17.49" height="2.09" fill="#f7b29c"/>
<rect x="307.60" y="424.02" width="17.49" height="2.09" fill="#f18b71"/>
<rect x="307.60" y="426.05" width="17.49" height="2.09" fill="#f7b29c"/>
<rect x="307.60" y="428.09" width="17.49" height="2.09" fill="#f18b71"/>
<rect x="307.60" y="430.12" width="17.49" height="4.12" fill="#f9d8ce"/>
<rect x="307.60" y="434.20" width="17.49" height="2.09" fill="#f7b29c"/>
<rect x="307.60" y="436.23" width="17.49" height="2.09" fill="#fcfafa"/>
<rect x="307.60" y="438.27" width="17.49" height="4.12" fill="#f9d8ce"/>
<rect x="307.60" y="442.34" width="17.49" height="2.09" fill="#f7b29c"/>
<rect x="307.60" y="444.38" width="17.49" height="2.09" fill="#f9d8ce"/>
<rect x="307.60" y="446.41" width="17.49" height="2.09" fill="#f18b71"/>
<rect x="307.60" y="448.45" width="17.49" height="2.09" fill="#f7b29c"/>
<rect x="307.60" y="450.48" width="17.49" height="4.12" fill="#f18b71"/>
<rect x="307.60" y="454.56" width="17.49" height="2.09" fill="#f7b29c"/>
<rect x="307.60" y="456.59" width="17.49" height="8.19" fill="#f18b71"/>
<rect x="307.60" y="464.74" width="17.49" height="2.09" fill="#ea5c42"/>
<rect x="307.60" y="466.77" width="17.49" height="2.09" fill="#f9d8ce"/>
<rect x="307.60" y="468.81" width="17.49" height="2.09" fill="#f7b29c"/>
<rect x="307.60" y="470.84" width="17.49" height="4.12" fill="#f18b71"/>
<rect x="307.60" y="474.92" width="17.49" height="4.12" fill="#f9d8ce"/>
<rect x="307.60" y="478.99" width="17.49" height="2.09" fill="#fcfafa"/>
<rect x="307.60" y="481.02" width="17.49" height="2.09" fill="#f7b29c"/>
<rect x="307.60" y="483.06" width="17.49" height="6.16" fill="#f18b71"/>
<rect x="307.60" y="489.17" width="17.49" height="2.09" fill="#d6201e"/>
<rect x="307.60" y="491.20" width="17.49" height="2.09" fill="#f18b71"/>
<rect x="307.60" y="493.24" width="17.49" height="2.09" fill="#d6201e"/>
<rect x="307.60" y="495.28" width="17.49" height="2.09" fill="#ea5c42"/>
<rect x="307.60" y="497.31" width="17.49" height="6.16" fill="#f18b71"/>
<rect x="307.60" y="503.42" width="17.49" height="2.09" fill="#f7b29c"/>
<rect x="307.60" y="505.46" width="17.49" height="6.16" fill="#f18b71"/>
<rect x="307.60" y="511.56" width="17.49" height="4.12" fill="#f7b29c"/>
<rect x="307.60" y="515.64" width="17.49" height="2.09" fill="#f18b71"/>
<rect x="307.60" y="517.67" width="17.49" height="2.09" fill="#ea5c42"/>
<rect x="307.60" y="519.71" width="17.49" height="2.09" fill="#f18b71"/>
<rect x="307.60" y="521.74" width="17.49" height="2.09" fill="#f7b29c"/>
<rect x="307.60" y="523.78" width="17.49" height="2.09" fill="#fcfafa"/>
<rect x="307.60" y="525.82" width="17.49" height="2.09" fill="#f9d8ce"/>
<rect x="307.60" y="527.85" width="17.49" height="2.09" fill="#f18b71"/>
<rect x="307.60" y="529.89" width="17.49" height="2.09" fill="#ea5c42"/>
<rect x="307.60" y="531.92" width="17.49" height="2.09" fill="#f18b71"/>
<rect x="307.60" y="533.96" width="17.49" height="2.09" fill="#fcfafa"/>
<rect x="307.60" y="536.00" width="17.49" height="2.09" fill="#f7b29c"/>
<rect x="307.60" y="538.03" width="17.49" height="2.09" fill="#f18b71"/>
<rect x="307.60" y="540.07" width="17.49" height="2.09" fill="#f9d8ce"/>
<rect x="307.60" y="542.10" width="17.49" height="6.16" fill="#f7b29c"/>
<rect x="307.60" y="548.21" width="17.49" height="4.12" fill="#f18b71"/>
<rect x="307.60" y="552.28" width="17.49" height="2.09" fill="#d6201e"/>
<rect x="307.60" y="554.32" width="17.49" height="4.12" fill="#f9d8ce"/>
<rect x="307.60" y="558.39" width="17.49" height="2.09" fill="#f7b29c"/>
<rect x="307.60" y="560.43" width="17.49" height="2.09" fill="#f18b71"/>
<rect x="307.60" y="562.46" width="17.49" height="2.09" fill="#6c68b2"/>
<rect x="307.60" y="564.50" width="17.49" height="2.09" fill="#a197cb"/>
<rect x="307.60" y="566.54" width="17.49" height="4.12" fill="#d5cfe6"/>
<rect x="307.60" y="570.61" width="17.49" height="4.12" fill="#f9d8ce"/>
<rect x="307.60" y="574.68" width="17.49" height="2.09" fill="#f7b29c"/>
<rect x="307.60" y="576.72" width="17.49" height="4.12" fill="#f18b71"/>
<rect x="307.60" y="580.79" width="17.49" height="2.09" fill="#a197cb"/>
<rect x="307.60" y="582.82" width="17.49" height="2.09" fill="#f9d8ce"/>
<rect x="307.60" y="584.86" width="17.49" height="2.09" fill="#f7b29c"/>
<rect x="307.60" y="586.90" width="17.49" height="4.12" fill="#fcfafa"/>
<rect x="307.60" y="590.97" width="17.49" height="4.12" fill="#f9d8ce"/>
<rect x="307.60" y="595.04" width="17.49" height="2.09" fill="#f7b29c"/>
<rect x="307.60" y="597.08" width="17.49" height="2.09" fill="#f9d8ce"/>
<rect x="307.60" y="599.11" width="17.49" height="2.09" fill="#fcfafa"/>
<rect x="307.60" y="601.15" width="17.49" height="2.09" fill="#f9d8ce"/>
<rect x="307.60" y="603.18" width="17.49" height="2.09" fill="#a197cb"/>
<rect x="307.60" y="605.22" width="17.49" height="2.09" fill="#f7b29c"/>
<rect x="307.60" y="607.26" width="17.49" height="2.09" fill="#fcfafa"/>
<rect x="307.60" y="609.29" width="17.49" height="2.09" fill="#f9d8ce"/>
<rect x="307.60" y="611.33" width="17.49" height="2.09" fill="#fcfafa"/>
<rect x="307.60" y="613.36" width="17.49" height="2.09" fill="#f18b71"/>
<rect x="325.04" y="208.20" width="17.49" height="2.09" fill="#a197cb"/>
<rect x="325.04" y="210.24" width="17.49" height="8.19" fill="#d5cfe6"/>
<rect x="325.04" y="218.38" width="17.49" height="2.09" fill="#a197cb"/>
<rect x="325.04" y="220.42" width="17.49" height="2.09" fill="#d5cfe6"/>
<rect x="325.04" y="222.45" width="17.49" height="6.16" fill="#f9d8ce"/>
<rect x="325.04" y="228.56" width="17.49" height="4.12" fill="#f18b71"/>
<rect x="325.04" y="232.63" width="17.49" height="4.12" fill="#f7b29c"/>
<rect x="325.04" y="236.70" width="17.49" height="2.09" fill="#f9d8ce"/>
<rect x="325.04" y="238.74" width="17.49" height="2.09" fill="#f7b29c"/>
<rect x="325.04" y="240.78" width="17.49" height="6.16" fill="#f9d8ce"/>
<rect x="325.04" y="246.88" width="17.49" height="2.09" fill="#fcfafa"/>
<rect x="325.04" y="248.92" width="17.49" height="2.09" fill="#a197cb"/>
<rect x="325.04" y="250.96" width="17.49" height="6.16" fill="#6c68b2"/>
<rect x="325.04" y="257.06" width="17.49" height="4.12" fill="#4b4fa6"/>
<rect x="325.04" y="261.14" width="17.49" height="2.09" fill="#d5cfe6"/>
<rect x="325.04" y="263.17" width="17.49" height="6.16" fill="#f9d8ce"/>
<rect x="325.04" y="269.28" width="17.49" height="2.09" fill="#fcfafa"/>
<rect x="325.04" y="271.32" width="17.49" height="2.09" fill="#f9d8ce"/>
<rect x="325.04" y="273.35" width="17.49" height="2.09" fill="#fcfafa"/>
<rect x="325.04" y="275.39" width="17.49" height="4.12" fill="#f9d8ce"/>
<rect x="325.04" y="279.46" width="17.49" height="2.09" fill="#fcfafa"/>
<rect x="325.04" y="281.50" width="17.49" height="2.09" fill="#f9d8ce"/>
<rect x="325.04" y="283.53" width="17.49" height="2.09" fill="#d5cfe6"/>
<rect x="325.04" y="285.57" width="17.49" height="6.16" fill="#a197cb"/>
<rect x="325.04" y="291.68" width="17.49" height="2.09" fill="#6c68b2"/>
<rect x="325.04" y="293.71" width="17.49" height="4.12" fill="#fcfafa"/>
<rect x="325.04" y="297.78" width="17.49" height="6.16" fill="#6c68b2"/>
<rect x="325.04" y="303.89" width="17.49" height="2.09" fill="#a197cb"/>
<rect x="325.04" y="305.93" width="17.49" height="2.09" fill="#f9d8ce"/>
<rect x="325.04" y="307.96" width="17.49" height="4.12" fill="#d5cfe6"/>
<rect x="325.04" y="312.04" width="17.49" height="12.27" fill="#a197cb"/>
<rect x="325.04" y="324.25" width="17.49" height="2.09" fill="#d5cfe6"/>
<rect x="325.04" y="326.29" width="17.49" height="4.12" fill="#fcfafa"/>
<rect x="325.04" y="330.36" width="17.49" height="2.09" fill="#d5cfe6"/>
<rect x="325.04" y="332.40" width="17.49" height="2.09" fill="#fcfafa"/>
<rect x="325.04" y="334.43" width="17.49" height="4.12" fill="#6c68b2"/>
<rect x="325.04" y="338.50" width="17.49" height="2.09" fill="#a197cb"/>
<rect x="325.04" y="340.54" width="17.49" height="2.09" fill="#d5cfe6"/>
<rect x="325.04" y="342.58" width="17.49" height="2.09" fill="#a197cb"/>
<rect x="325.04" y="344.61" width="17.49" height="2.09" fill="#6c68b2"/>
<rect x="325.04" y="346.65" width="17.49" height="12.27" fill="#a197cb"/>
<rect x="325.04" y="358.86" width="17.49" height="6.16" fill="#fcfafa"/>
<rect x="325.04" y="364.97" width="17.49" height="2.09" fill="#f18b71"/>
<rect x="325.04" y="367.01" width="17.49" height="2.09" fill="#f9d8ce"/>
<rect x="325.04" y="369.04" width="17.49" height="4.12" fill="#d5cfe6"/>
<rect x="325.04" y="373.12" width="17.49" height="4.12" fill="#fcfafa"/>
<rect x="325.04" y="377.19" width="17.49" height="2.09" fill="#d5cfe6"/>
<rect x="325.04" y="379.22" width="17.49" height="2.09" fill="#f9d8ce"/>
<rect x="325.04" y="381.26" width="17.49" height="2.09" fill="#d5cfe6"/>
<rect x="325.04" y="383.30" width="17.49" height="2.09" fill="#6c68b2"/>
<rect x="325.04" y="385.33" width="17.49" height="2.09" fill="#a197cb"/>
<rect x="325.04" y="387.37" width="17.49" height="4.12" fill="#fcfafa"/>
<rect x="325.04" y="391.44" width="17.49" height="2.09" fill="#d5cfe6"/>
<rect x="325.04" y="393.48" width="17.49" height="4.12" fill="#a197cb"/>
<rect x="325.04" y="397.55" width="17.49" height="6.16" fill="#f9d8ce"/>
<rect x="325.04" y="403.66" width="17.49" height="2.09" fill="#fcfafa"/>
<rect x="325.04" y="405.69" width="17.49" height="2.09" fill="#f7b29c"/>
<rect x="325.04" y="407.73" width="17.49" height="2.09" fill="#a197cb"/>
<rect x="325.04" y="409.76" width="17.49" height="2.09" fill="#d5cfe6"/>
<rect x="325.04" y="411.80" width="17.49" height="4.12" fill="#a197cb"/>
<rect x="325.04" y="415.87" width="17.49" height="2.09" fill="#f18b71"/>
<rect x="325.04" y="417.91" width="17.49" height="4.12" fill="#f7b29c"/>
<rect x="325.04" y="421.98" width="17.49" height="8.19" fill="#f18b71"/>
<rect x="325.04" y="430.12" width="17.49" height="2.09" fill="#f9d8ce"/>
<rect x="325.04" y="432.16" width="17.49" height="2.09" fill="#fcfafa"/>
<rect x="325.04" y="434.20" width="17.49" height="2.09" fill="#f7b29c"/>
<rect x="325.04" y="436.23" width="17.49" height="2.09" fill="#f18b71"/>
<rect x="325.04" y="438.27" width="17.49" height="6.16" fill="#f7b29c"/>
<rect x="325.04" y="444.38" width="17.49" height="2.09" fill="#f18b71"/>
<rect x="325.04" y="446.41" width="17.49" height="2.09" fill="#f7b29c"/>
<rect x="325.04" y="448.45" width="17.49" height="6.16" fill="#f18b71"/>
<rect x="325.04" y="454.56" width="17.49" height="2.09" fill="#ea5c42"/>
<rect x="325.04" y="456.59" width="17.49" height="2.09" fill="#f18b71"/>
<rect x="325.04" y="458.63" width="17.49" height="2.09" fill="#fcfafa"/>
<rect x="325.04" y="460.66" width="17.49" height="2.09" fill="#f9d8ce"/>
<rect x="325.04" y="462.70" width="17.49" height="2.09" fill="#f18b71"/>
<rect x="325.04" y="464.74" width="17.49" height="4.12" fill="#f9d8ce"/>
<rect x="325.04" y="468.81" width="17.49" height="4.12" fill="#f7b29c"/>
<rect x="325.04" y="472.88" width="17.49" height="2.09" fill="#f18b71"/>
<rect x="325.04" y="474.92" width="17.49" height="4.12" fill="#f7b29c"/>
<rect x="325.04" y="478.99" width="17.49" height="2.09" fill="#fcfafa"/>
<rect x="325.04" y="481.02" width="17.49" height="2.09" fill="#f9d8ce"/>
<rect x="325.04" y="483.06" width="17.49" height="4.12" fill="#f7b29c"/>
<rect x="325.04" y="487.13" width="17.49" height="2.09" fill="#ea5c42"/>
<rect x="325.04" y="489.17" width="17.49" height="4.12" fill="#fcfafa"/>
<rect x="325.04" y="493.24" width="17.49" height="2.09" fill="#d5cfe6"/>
<rect x="325.04" y="495.28" width="17.49" height="2.09" fill="#f9d8ce"/>
<rect x="325.04" y="497.31" width="17.49" height="2.09" fill="#f7b29c"/>
<rect x="325.04" y="499.35" width="17.49" height="2.09" fill="#fcfafa"/>
<rect x="325.04" y="501.38" width="17.49" height="8.19" fill="#f18b71"/>
<rect x="325.04" y="509.53" width="17.49" height="8.19" fill="#f7b29c"/>
<rect x="325.04" y="517.67" width="17.49" height="2.09" fill="#fcfafa"/>
<rect x="325.04" y="519.71" width="17.49" height="2.09" fill="#f7b29c"/>
<rect x="325.04" y="521.74" width="17.49" height="4.12" fill="#f18b71"/>
<rect x="325.04" y="525.82" width="17.49" height="2.09" fill="#f7b29c"/>
<rect x="325.04" y="527.85" width="17.49" height="2.09" fill="#f9d8ce"/>
<rect x="325.04" y="529.89" width="17.49" height="4.12" fill="#d5cfe6"/>
<rect x="325.04" y="533.96" width="17.49" height="4.12" fill="#f7b29c"/>
<rect x="325.04" y="538.03" width="17.49" height="2.09" fill="#f9d8ce"/>
<rect x="325.04" y="540.07" width="17.49" height="2.09" fill="#f7b29c"/>
<rect x="325.04" y="542.10" width="17.49" height="2.09" fill="#f9d8ce"/>
<rect x="325.04" y="544.14" width="17.49" height="2.09" fill="#d5cfe6"/>
<rect x="325.04" y="546.18" width="17.49" height="2.09" fill="#f9d8ce"/>
<rect x="325.04" y="548.21" width="17.49" height="4.12" fill="#fcfafa"/>
<rect x="325.04" y="552.28" width="17.49" height="2.09" fill="#d5cfe6"/>
<rect x="325.04" y="554.32" width="17.49" height="2.09" fill="#f9d8ce"/>
<rect x="325.04" y="556.36" width="17.49" height="2.09" fill="#ea5c42"/>
<rect x="325.04" y="558.39" width="17.49" height="2.09" fill="#f18b71"/>
<rect x="325.04" y="560.43" width="17.49" height="2.09" fill="#f9d8ce"/>
<rect x="325.04" y="562.46" width="17.49" height="4.12" fill="#f18b71"/>
<rect x="325.04" y="566.54" width="17.49" height="4.12" fill="#f7b29c"/>
<rect x="325.04" y="570.61" width="17.49" height="4.12" fill="#d6201e"/>
<rect x="325.04" y="574.68" width="17.49" height="4.12" fill="#ea5c42"/>
<rect x="325.04" y="578.75" width="17.49" height="2.09" fill="#f18b71"/>
<rect x="325.04" y="580.79" width="17.49" height="4.12" fill="#fcfafa"/>
<rect x="325.04" y="584.86" width="17.49" height="6.16" fill="#f7b29c"/>
<rect x="325.04" y="590.97" width="17.49" height="6.16" fill="#f9d8ce"/>
<rect x="325.04" y="597.08" width="17.49" height="4.12" fill="#fcfafa"/>
<rect x="325.04" y="601.15" width="17.49" height="4.12" fill="#f9d8ce"/>
<rect x="325.04" y="605.22" width="17.49" height="6.16" fill="#6c68b2"/>
<rect x="325.04" y="611.33" width="17.49" height="4.12" fill="#f9d8ce"/>
<rect x="342.49" y="208.20" width="17.49" height="4.12" fill="#f18b71"/>
<rect x="342.49" y="212.27" width="17.49" height="2.09" fill="#f7b29c"/>
<rect x="342.49" y="214.31" width="17.49" height="4.12" fill="#f9d8ce"/>
<rect x="342.49" y="218.38" width="17.49" height="2.09" fill="#fcfafa"/>
<rect x="342.49" y="220.42" width="17.49" height="2.09" fill="#f9d8ce"/>
<rect x="342.49" y="222.45" width="17.49" height="6.16" fill="#d5cfe6"/>
<rect x="342.49" y="228.56" width="17.49" height="6.16" fill="#f18b71"/>
<rect x="342.49" y="234.67" width="17.49" height="2.09" fill="#f7b29c"/>
<rect x="342.49" y="236.70" width="17.49" height="2.09" fill="#f9d8ce"/>
<rect x="342.49" y="238.74" width="17.49" height="4.12" fill="#f7b29c"/>
<rect x="342.49" y="242.81" width="17.49" height="4.12" fill="#f9d8ce"/>
<rect x="342.49" y="246.88" width="17.49" height="2.09" fill="#f18b71"/>
<rect x="342.49" y="248.92" width="17.49" height="2.09" fill="#f7b29c"/>
<rect x="342.49" y="250.96" width="17.49" height="2.09" fill="#f9d8ce"/>
<rect x="342.49" y="252.99" width="17.49" height="2.09" fill="#a197cb"/>
<rect x="342.49" y="255.03" width="17.49" height="2.09" fill="#d5cfe6"/>
<rect x="342.49" y="257.06" width="17.49" height="4.12" fill="#fcfafa"/>
<rect x="342.49" y="261.14" width="17.49" height="2.09" fill="#d5cfe6"/>
<rect x="342.49" y="263.17" width="17.49" height="2.09" fill="#6c68b2"/>
<rect x="342.49" y="265.21" width="17.49" height="2.09" fill="#4b4fa6"/>
<rect x="342.49" y="267.24" width="17.49" height="2.09" fill="#6c68b2"/>
<rect x="342.49" y="269.28" width="17.49" height="2.09" fill="#a197cb"/>
<rect x="342.49" y="271.32" width="17.49" height="2.09" fill="#6c68b2"/>
<rect x="342.49" y="273.35" width="17.49" height="2.09" fill="#fcfafa"/>
<rect x="342.49" y="275.39" width="17.49" height="2.09" fill="#d5cfe6"/>
<rect x="342.49" y="277.42" width="17.49" height="2.09" fill="#f9d8ce"/>
<rect x="342.49" y="279.46" width="17.49" height="2.09" fill="#f7b29c"/>
<rect x="342.49" y="281.50" width="17.49" height="2.09" fill="#d5cfe6"/>
<rect x="342.49" y="283.53" width="17.49" height="2.09" fill="#a197cb"/>
<rect x="342.49" y="285.57" width="17.49" height="2.09" fill="#d5cfe6"/>
<rect x="342.49" y="287.60" width="17.49" height="6.16" fill="#a197cb"/>
<rect x="342.49" y="293.71" width="17.49" height="2.09" fill="#f7b29c"/>
<rect x="342.49" y="295.75" width="17.49" height="6.16" fill="#d5cfe6"/>
<rect x="342.49" y="301.86" width="17.49" height="2.09" fill="#f9d8ce"/>
<rect x="342.49" y="303.89" width="17.49" height="4.12" fill="#fcfafa"/>
<rect x="342.49" y="307.96" width="17.49" height="4.12" fill="#d5cfe6"/>
<rect x="342.49" y="312.04" width="17.49" height="2.09" fill="#4b4fa6"/>
<rect x="342.49" y="314.07" width="17.49" height="8.19" fill="#6c68b2"/>
<rect x="342.49" y="322.22" width="17.49" height="2.09" fill="#d5cfe6"/>
<rect x="342.49" y="324.25" width="17.49" height="2.09" fill="#f9d8ce"/>
<rect x="342.49" y="326.29" width="17.49" height="2.09" fill="#f7b29c"/>
<rect x="342.49" y="328.32" width="17.49" height="2.09" fill="#d5cfe6"/>
<rect x="342.49" y="330.36" width="17.49" height="2.09" fill="#a197cb"/>
<rect x="342.49" y="332.40" width="17.49" height="2.09" fill="#d5cfe6"/>
<rect x="342.49" y="334.43" width="17.49" height="2.09" fill="#fcfafa"/>
<rect x="342.49" y="336.47" width="17.49" height="8.19" fill="#6c68b2"/>
<rect x="342.49" y="344.61" width="17.49" height="6.16" fill="#a197cb"/>
<rect x="342.49" y="350.72" width="17.49" height="4.12" fill="#6c68b2"/>
<rect x="342.49" y="354.79" width="17.49" height="4.12" fill="#a197cb"/>
<rect x="342.49" y="358.86" width="17.49" height="4.12" fill="#d5cfe6"/>
<rect x="342.49" y="362.94" width="17.49" height="4.12" fill="#a197cb"/>
<rect x="342.49" y="367.01" width="17.49" height="8.19" fill="#fcfafa"/>
<rect x="342.49" y="375.15" width="17.49" height="2.09" fill="#a197cb"/>
<rect x="342.49" y="377.19" width="17.49" height="4.12" fill="#fcfafa"/>
<rect x="342.49" y="381.26" width="17.49" height="2.09" fill="#f9d8ce"/>
<rect x="342.49" y="383.30" width="17.49" height="4.12" fill="#fcfafa"/>
<rect x="342.49" y="387.37" width="17.49" height="10.23" fill="#f9d8ce"/>
<rect x="342.49" y="397.55" width="17.49" height="2.09" fill="#fcfafa"/>
<rect x="342.49" y="399.58" width="17.49" height="2.09" fill="#f7b29c"/>
<rect x="342.49" y="401.62" width="17.49" height="8.19" fill="#d5cfe6"/>
<rect x="342.49" y="409.76" width="17.49" height="2.09" fill="#fcfafa"/>
<rect x="342.49" y="411.80" width="17.49" height="2.09" fill="#f9d8ce"/>
<rect x="342.49" y="413.84" width="17.49" height="2.09" fill="#d5cfe6"/>
<rect x="342.49" y="415.87" width="17.49" height="2.09" fill="#f18b71"/>
<rect x="342.49" y="417.91" width="17.49" height="4.12" fill="#f7b29c"/>
<rect x="342.49" y="421.98" width="17.49" height="2.09" fill="#f18b71"/>
<rect x="342.49" y="424.02" width="17.49" height="2.09" fill="#f7b29c"/>
<rect x="342.49" y="426.05" width="17.49" height="2.09" fill="#f18b71"/>
<rect x="342.49" y="428.09" width="17.49" height="2.09" fill="#f7b29c"/>
<rect x="342.49" y="430.12" width="17.49" height="8.19" fill="#f18b71"/>
<rect x="342.49" y="438.27" width="17.49" height="6.16" fill="#f7b29c"/>
<rect x="342.49" y="444.38" width="17.49" height="12.27" fill="#f9d8ce"/>
<rect x="342.49" y="456.59" width="17.49" height="4.12" fill="#f7b29c"/>
<rect x="342.49" y="460.66" width="17.49" height="2.09" fill="#f9d8ce"/>
<rect x="342.49" y="462.70" width="17.49" height="4.12" fill="#d5cfe6"/>
<rect x="342.49" y="466.77" width="17.49" height="2.09" fill="#f7b29c"/>
<rect x="342.49" y="468.81" width="17.49" height="2.09" fill="#f9d8ce"/>
<rect x="342.49" y="470.84" width="17.49" height="2.09" fill="#fcfafa"/>
<rect x="342.49" y="472.88" width="17.49" height="2.09" fill="#f9d8ce"/>
<rect x="342.49" y="474.92" width="17.49" height="2.09" fill="#a197cb"/>
<rect x="342.49" y="476.95" width="17.49" height="6.16" fill="#f9d8ce"/>
<rect x="342.49" y="483.06" width="17.49" height="2.09" fill="#f7b29c"/>
<rect x="342.49" y="485.10" width="17.49" height="2.09" fill="#fcfafa"/>
<rect x="342.49" y="487.13" width="17.49" height="4.12" fill="#d5cfe6"/>
<rect x="342.49" y="491.20" width="17.49" height="2.09" fill="#f9d8ce"/>
<rect x="342.49" y="493.24" width="17.49" height="2.09" fill="#f7b29c"/>
<rect x="342.49" y="495.28" width="17.49" height="4.12" fill="#fcfafa"/>
<rect x="342.49" y="499.35" width="17.49" height="2.09" fill="#f7b29c"/>
<rect x="342.49" y="501.38" width="17.49" height="10.23" fill="#f18b71"/>
<rect x="342.49" y="511.56" width="17.49" height="4.12" fill="#f7b29c"/>
<rect x="342.49" y="515.64" width="17.49" height="2.09" fill="#f9d8ce"/>
<rect x="342.49" y="517.67" width="17.49" height="10.23" fill="#fcfafa"/>
<rect x="342.49" y="527.85" width="17.49" height="2.09" fill="#a197cb"/>
<rect x="342.49" y="529.89" width="17.49" height="4.12" fill="#d5cfe6"/>
<rect x="342.49" y="533.96" width="17.49" height="4.12" fill="#f9d8ce"/>
<rect x="342.49" y="538.03" width="17.49" height="4.12" fill="#f18b71"/>
<rect x="342.49" y="542.10" width="17.49" height="2.09" fill="#f7b29c"/>
<rect x="342.49" y="544.14" width="17.49" height="2.09" fill="#ea5c42"/>
<rect x="342.49" y="546.18" width="17.49" height="4.12" fill="#f9d8ce"/>
<rect x="342.49" y="550.25" width="17.49" height="6.16" fill="#f7b29c"/>
<rect x="342.49" y="556.36" width="17.49" height="2.09" fill="#f9d8ce"/>
<rect x="342.49" y="558.39" width="17.49" height="2.09" fill="#f7b29c"/>
<rect x="342.49" y="560.43" width="17.49" height="4.12" fill="#f9d8ce"/>
<rect x="342.49" y="564.50" width="17.49" height="2.09" fill="#fcfafa"/>
<rect x="342.49" y="566.54" width="17.49" height="4.12" fill="#d5cfe6"/>
<rect x="342.49" y="570.61" width="17.49" height="4.12" fill="#f9d8ce"/>
<rect x="342.49" y="574.68" width="17.49" height="8.19" fill="#f7b29c"/>
<rect x="342.49" y="582.82" width="17.49" height="2.09" fill="#ea5c42"/>
<rect x="342.49" y="584.86" width="17.49" height="2.09" fill="#fcfafa"/>
<rect x="342.49" y="586.90" width="17.49" height="2.09" fill="#f7b29c"/>
<rect x="342.49" y="588.93" width="17.49" height="2.09" fill="#f9d8ce"/>
<rect x="342.49" y="590.97" width="17.49" height="2.09" fill="#fcfafa"/>
<rect x="342.49" y="593.00" width="17.49" height="2.09" fill="#f7b29c"/>
<rect x="342.49" y="595.04" width="17.49" height="2.09" fill="#f9d8ce"/>
<rect x="342.49" y="597.08" width="17.49" height="2.09" fill="#fcfafa"/>
<rect x="342.49" y="599.11" width="17.49" height="4.12" fill="#f9d8ce"/>
<rect x="342.49" y="603.18" width="17.49" height="2.09" fill="#a197cb"/>
<rect x="342.49" y="605.22" width="17.49" height="2.09" fill="#d5cfe6"/>
<rect x="342.49" y="607.26" width="17.49" height="4.12" fill="#fcfafa"/>
<rect x="342.49" y="611.33" width="17.49" height="2.09" fill="#d5cfe6"/>
<rect x="342.49" y="613.36" width="17.49" height="2.09" fill="#6c68b2"/>
<rect x="359.93" y="208.20" width="17.49" height="4.12" fill="#fcfafa"/>
<rect x="359.93" y="212.27" width="17.49" height="2.09" fill="#d5cfe6"/>
<rect x="359.93" y="214.31" width="17.49" height="4.12" fill="#4b4fa6"/>
<rect x="359.93" y="218.38" width="17.49" height="2.09" fill="#f18b71"/>
<rect x="359.93" y="220.42" width="17.49" height="2.09" fill="#d5cfe6"/>
<rect x="359.93" y="222.45" width="17.49" height="6.16" fill="#f9d8ce"/>
<rect x="359.93" y="228.56" width="17.49" height="2.09" fill="#d5cfe6"/>
<rect x="359.93" y="230.60" width="17.49" height="4.12" fill="#f9d8ce"/>
<rect x="359.93" y="234.67" width="17.49" height="2.09" fill="#fcfafa"/>
<rect x="359.93" y="236.70" width="17.49" height="8.19" fill="#f9d8ce"/>
<rect x="359.93" y="244.85" width="17.49" height="2.09" fill="#f18b71"/>
<rect x="359.93" y="246.88" width="17.49" height="2.09" fill="#f7b29c"/>
<rect x="359.93" y="248.92" width="17.49" height="2.09" fill="#d6201e"/>
<rect x="359.93" y="250.96" width="17.49" height="4.12" fill="#f18b71"/>
<rect x="359.93" y="255.03" width="17.49" height="2.09" fill="#f9d8ce"/>
<rect x="359.93" y="257.06" width="17.49" height="6.16" fill="#f7b29c"/>
<rect x="359.93" y="263.17" width="17.49" height="2.09" fill="#f9d8ce"/>
<rect x="359.93" y="265.21" width="17.49" height="4.12" fill="#f18b71"/>
<rect x="359.93" y="269.28" width="17.49" height="2.09" fill="#f7b29c"/>
<rect x="359.93" y="271.32" width="17.49" height="4.12" fill="#f9d8ce"/>
<rect x="359.93" y="275.39" width="17.49" height="2.09" fill="#a197cb"/>
<rect x="359.93" y="277.42" width="17.49" height="2.09" fill="#d5cfe6"/>
<rect x="359.93" y="279.46" width="17.49" height="2.09" fill="#fcfafa"/>
<rect x="359.93" y="281.50" width="17.49" height="2.09" fill="#f9d8ce"/>
<rect x="359.93" y="283.53" width="17.49" height="2.09" fill="#fcfafa"/>
<rect x="359.93" y="285.57" width="17.49" height="2.09" fill="#f9d8ce"/>
<rect x="359.93" y="287.60" width="17.49" height="2.09" fill="#f7b29c"/>
<rect x="359.93" y="289.64" width="17.49" height="4.12" fill="#d5cfe6"/>
<rect x="359.93" y="293.71" width="17.49" height="2.09" fill="#f18b71"/>
<rect x="359.93" y="295.75" width="17.49" height="2.09" fill="#ea5c42"/>
<rect x="359.93" y="297.78" width="17.49" height="2.09" fill="#f18b71"/>
<rect x="359.93" y="299.82" width="17.49" height="4.12" fill="#f7b29c"/>
<rect x="359.93" y="303.89" width="17.49" height="2.09" fill="#f9d8ce"/>
<rect x="359.93" y="305.93" width="17.49" height="6.16" fill="#fcfafa"/>
<rect x="359.93" y="312.04" width="17.49" height="4.12" fill="#f9d8ce"/>
<rect x="359.93" y="316.11" width="17.49" height="2.09" fill="#f18b71"/>
<rect x="359.93" y="318.14" width="17.49" height="2.09" fill="#f7b29c"/>
<rect x="359.93" y="320.18" width="17.49" height="14.30" fill="#f9d8ce"/>
<rect x="359.93" y="334.43" width="17.49" height="2.09" fill="#d5cfe6"/>
<rect x="359.93" y="336.47" width="17.49" height="12.27" fill="#fcfafa"/>
<rect x="359.93" y="348.68" width="17.49" height="2.09" fill="#f9d8ce"/>
<rect x="359.93" y="350.72" width="17.49" height="4.12" fill="#fcfafa"/>
<rect x="359.93" y="354.79" width="17.49" height="2.09" fill="#a197cb"/>
<rect x="359.93" y="356.83" width="17.49" height="2.09" fill="#6c68b2"/>
<rect x="359.93" y="358.86" width="17.49" height="4.12" fill="#fcfafa"/>
<rect x="359.93" y="362.94" width="17.49" height="2.09" fill="#d5cfe6"/>
<rect x="359.93" y="364.97" width="17.49" height="4.12" fill="#6c68b2"/>
<rect x="359.93" y="369.04" width="17.49" height="2.09" fill="#4b4fa6"/>
<rect x="359.93" y="371.08" width="17.49" height="4.12" fill="#6c68b2"/>
<rect x="359.93" y="375.15" width="17.49" height="4.12" fill="#a197cb"/>
<rect x="359.93" y="379.22" width="17.49" height="2.09" fill="#d5cfe6"/>
<rect x="359.93" y="381.26" width="17.49" height="2.09" fill="#4b4fa6"/>
<rect x="359.93" y="383.30" width="17.49" height="4.12" fill="#a197cb"/>
<rect x="359.93" y="387.37" width="17.49" height="2.09" fill="#d5cfe6"/>
<rect x="359.93" y="389.40" width="17.49" height="4.12" fill="#4b4fa6"/>
<rect x="359.93" y="393.48" width="17.49" height="2.09" fill="#fcfafa"/>
<rect x="359.93" y="395.51" width="17.49" height="6.16" fill="#f9d8ce"/>
<rect x="359.93" y="401.62" width="17.49" height="2.09" fill="#fcfafa"/>
<rect x="359.93" y="403.66" width="17.49" height="4.12" fill="#d5cfe6"/>
<rect x="359.93" y="407.73" width="17.49" height="4.12" fill="#f9d8ce"/>
<rect x="359.93" y="411.80" width="17.49" height="4.12" fill="#f7b29c"/>
<rect x="359.93" y="415.87" width="17.49" height="2.09" fill="#fcfafa"/>
<rect x="359.93" y="417.91" width="17.49" height="2.09" fill="#f9d8ce"/>
<rect x="359.93" y="419.94" width="17.49" height="6.16" fill="#fcfafa"/>
<rect x="359.93" y="426.05" width="17.49" height="2.09" fill="#d5cfe6"/>
<rect x="359.93" y="428.09" width="17.49" height="2.09" fill="#f7b29c"/>
<rect x="359.93" y="430.12" width="17.49" height="4.12" fill="#f9d8ce"/>
<rect x="359.93" y="434.20" width="17.49" height="2.09" fill="#fcfafa"/>
<rect x="359.93" y="436.23" width="17.49" height="6.16" fill="#f9d8ce"/>
<rect x="359.93" y="442.34" width="17.49" height="6.16" fill="#f7b29c"/>
<rect x="359.93" y="448.45" width="17.49" height="2.09" fill="#f9d8ce"/>
<rect x="359.93" y="450.48" width="17.49" height="2.09" fill="#f7b29c"/>
<rect x="359.93" y="452.52" width="17.49" height="6.16" fill="#fcfafa"/>
<rect x="359.93" y="458.63" width="17.49" height="2.09" fill="#a197cb"/>
<rect x="359.93" y="460.66" width="17.49" height="4.12" fill="#6c68b2"/>
<rect x="359.93" y="464.74" width="17.49" height="4.12" fill="#fcfafa"/>
<rect x="359.93" y="468.81" width="17.49" height="2.09" fill="#d5cfe6"/>
<rect x="359.93" y="470.84" width="17.49" height="2.09" fill="#f9d8ce"/>
<rect x="359.93" y="472.88" width="17.49" height="2.09" fill="#d5cfe6"/>
<rect x="359.93" y="474.92" width="17.49" height="2.09" fill="#fcfafa"/>
<rect x="359.93" y="476.95" width="17.49" height="2.09" fill="#a197cb"/>
<rect x="359.93" y="478.99" width="17.49" height="4.12" fill="#f9d8ce"/>
<rect x="359.93" y="483.06" width="17.49" height="2.09" fill="#d5cfe6"/>
<rect x="359.93" y="485.10" width="17.49" height="2.09" fill="#f9d8ce"/>
<rect x="359.93" y="487.13" width="17.49" height="2.09" fill="#fcfafa"/>
<rect x="359.93" y="489.17" width="17.49" height="4.12" fill="#f9d8ce"/>
<rect x="359.93" y="493.24" width="17.49" height="2.09" fill="#a197cb"/>
<rect x="359.93" y="495.28" width="17.49" height="4.12" fill="#d5cfe6"/>
<rect x="359.93" y="499.35" width="17.49" height="2.09" fill="#fcfafa"/>
<rect x="359.93" y="501.38" width="17.49" height="2.09" fill="#6c68b2"/>
<rect x="359.93" y="503.42" width="17.49" height="2.09" fill="#d5cfe6"/>
<rect x="359.93" y="505.46" width="17.49" height="4.12" fill="#fcfafa"/>
<rect x="359.93" y="509.53" width="17.49" height="2.09" fill="#d5cfe6"/>
<rect x="359.93" y="511.56" width="17.49" height="4.12" fill="#fcfafa"/>
<rect x="359.93" y="515.64" width="17.49" height="4.12" fill="#f9d8ce"/>
<rect x="359.93" y="519.71" width="17.49" height="2.09" fill="#d5cfe6"/>
<rect x="359.93" y="521.74" width="17.49" height="2.09" fill="#6c68b2"/>
<rect x="359.93" y="523.78" width="17.49" height="2.09" fill="#fcfafa"/>
<rect x="359.93" y="525.82" width="17.49" height="2.09" fill="#6c68b2"/>
<rect x="359.93" y="527.85" width="17.49" height="2.09" fill="#fcfafa"/>
<rect x="359.93" y="529.89" width="17.49" height="4.12" fill="#f9d8ce"/>
<rect x="359.93" y="533.96" width="17.49" height="2.09" fill="#f7b29c"/>
<rect x="359.93" y="536.00" width="17.49" height="4.12" fill="#f9d8ce"/>
<rect x="359.93" y="540.07" width="17.49" height="4.12" fill="#f7b29c"/>
<rect x="359.93" y="544.14" width="17.49" height="4.12" fill="#f9d8ce"/>
<rect x="359.93" y="548.21" width="17.49" height="2.09" fill="#d5cfe6"/>
<rect x="359.93" y="550.25" width="17.49" height="4.12" fill="#fcfafa"/>
<rect x="359.93" y="554.32" width="17.49" height="2.09" fill="#f9d8ce"/>
<rect x="359.93" y="556.36" width="17.49" height="2.09" fill="#d5cfe6"/>
<rect x="359.93" y="558.39" width="17.49" height="2.09" fill="#fcfafa"/>
<rect x="359.93" y="560.43" width="17.49" height="8.19" fill="#f18b71"/>
<rect x="359.93" y="568.57" width="17.49" height="6.16" fill="#f9d8ce"/>
<rect x="359.93" y="574.68" width="17.49" height="6.16" fill="#fcfafa"/>
<rect x="359.93" y="580.79" width="17.49" height="2.09" fill="#d5cfe6"/>
<rect x="359.93" y="582.82" width="17.49" height="2.09" fill="#f9d8ce"/>
<rect x="359.93" y="584.86" width="17.49" height="4.12" fill="#f7b29c"/>
<rect x="359.93" y="588.93" width="17.49" height="2.09" fill="#f9d8ce"/>
<rect x="359.93" y="590.97" width="17.49" height="2.09" fill="#fcfafa"/>
<rect x="359.93" y="593.00" width="17.49" height="8.19" fill="#f9d8ce"/>
<rect x="359.93" y="601.15" width="17.49" height="2.09" fill="#fcfafa"/>
<rect x="359.93" y="603.18" width="17.49" height="4.12" fill="#d5cfe6"/>
<rect x="359.93" y="607.26" width="17.49" height="4.12" fill="#f7b29c"/>
<rect x="359.93" y="611.33" width="17.49" height="4.12" fill="#f9d8ce"/>
<rect x="377.38" y="208.20" width="17.49" height="4.12" fill="#f7b29c"/>
<rect x="377.38" y="212.27" width="17.49" height="4.12" fill="#fcfafa"/>
<rect x="377.38" y="216.34" width="17.49" height="6.16" fill="#f9d8ce"/>
<rect x="377.38" y="222.45" width="17.49" height="2.09" fill="#ea5c42"/>
<rect x="377.38" y="224.49" width="17.49" height="2.09" fill="#f9d8ce"/>
<rect x="377.38" y="226.52" width="17.49" height="2.09" fill="#ea5c42"/>
<rect x="377.38" y="228.56" width="17.49" height="2.09" fill="#d5cfe6"/>
<rect x="377.38" y="230.60" width="17.49" height="2.09" fill="#a197cb"/>
<rect x="377.38" y="232.63" width="17.49" height="2.09" fill="#f18b71"/>
<rect x="377.38" y="234.67" width="17.49" height="2.09" fill="#f9d8ce"/>
<rect x="377.38" y="236.70" width="17.49" height="2.09" fill="#d5cfe6"/>
<rect x="377.38" y="238.74" width="17.49" height="2.09" fill="#fcfafa"/>
<rect x="377.38" y="240.78" width="17.49" height="4.12" fill="#f9d8ce"/>
<rect x="377.38" y="244.85" width="17.49" height="4.12" fill="#d5cfe6"/>
<rect x="377.38" y="248.92" width="17.49" height="6.16" fill="#fcfafa"/>
<rect x="377.38" y="255.03" width="17.49" height="4.12" fill="#f9d8ce"/>
<rect x="377.38" y="259.10" width="17.49" height="2.09" fill="#fcfafa"/>
<rect x="377.38" y="261.14" width="17.49" height="2.09" fill="#ea5c42"/>
<rect x="377.38" y="263.17" width="17.49" height="4.12" fill="#fcfafa"/>
<rect x="377.38" y="267.24" width="17.49" height="2.09" fill="#d5cfe6"/>
<rect x="377.38" y="269.28" width="17.49" height="4.12" fill="#fcfafa"/>
<rect x="377.38" y="273.35" width="17.49" height="4.12" fill="#f9d8ce"/>
<rect x="377.38" y="277.42" width="17.49" height="8.19" fill="#d5cfe6"/>
<rect x="377.38" y="285.57" width="17.49" height="4.12" fill="#a197cb"/>
<rect x="377.38" y="289.64" width="17.49" height="2.09" fill="#d5cfe6"/>
<rect x="377.38" y="291.68" width="17.49" height="2.09" fill="#f7b29c"/>
<rect x="377.38" y="293.71" width="17.49" height="2.09" fill="#d5cfe6"/>
<rect x="377.38" y="295.75" width="17.49" height="6.16" fill="#f9d8ce"/>
<rect x="377.38" y="301.86" width="17.49" height="4.12" fill="#d5cfe6"/>
<rect x="377.38" y="305.93" width="17.49" height="4.12" fill="#f9d8ce"/>
<rect x="377.38" y="310.00" width="17.49" height="8.19" fill="#fcfafa"/>
<rect x="377.38" y="318.14" width="17.49" height="2.09" fill="#d5cfe6"/>
<rect x="377.38" y="320.18" width="17.49" height="2.09" fill="#fcfafa"/>
<rect x="377.38" y="322.22" width="17.49" height="2.09" fill="#d5cfe6"/>
<rect x="377.38" y="324.25" width="17.49" height="2.09" fill="#f9d8ce"/>
<rect x="377.38" y="326.29" width="17.49" height="2.09" fill="#f7b29c"/>
<rect x="377.38" y="328.32" width="17.49" height="4.12" fill="#d5cfe6"/>
<rect x="377.38" y="332.40" width="17.49" height="2.09" fill="#f9d8ce"/>
<rect x="377.38" y="334.43" width="17.49" height="2.09" fill="#f7b29c"/>
<rect x="377.38" y="336.47" width="17.49" height="2.09" fill="#f9d8ce"/>
<rect x="377.38" y="338.50" width="17.49" height="4.12" fill="#fcfafa"/>
<rect x="377.38" y="342.58" width="17.49" height="2.09" fill="#d5cfe6"/>
<rect x="377.38" y="344.61" width="17.49" height="2.09" fill="#fcfafa"/>
<rect x="377.38" y="346.65" width="17.49" height="4.12" fill="#a197cb"/>
<rect x="377.38" y="350.72" width="17.49" height="2.09" fill="#fcfafa"/>
<rect x="377.38" y="352.76" width="17.49" height="2.09" fill="#d5cfe6"/>
<rect x="377.38" y="354.79" width="17.49" height="6.16" fill="#f9d8ce"/>
<rect x="377.38" y="360.90" width="17.49" height="2.09" fill="#d5cfe6"/>
<rect x="377.38" y="362.94" width="17.49" height="8.19" fill="#a197cb"/>
<rect x="377.38" y="371.08" width="17.49" height="2.09" fill="#d5cfe6"/>
<rect x="377.38" y="373.12" width="17.49" height="2.09" fill="#f7b29c"/>
<rect x="377.38" y="375.15" width="17.49" height="8.19" fill="#d5cfe6"/>
<rect x="377.38" y="383.30" width="17.49" height="2.09" fill="#fcfafa"/>
<rect x="377.38" y="385.33" width="17.49" height="2.09" fill="#d5cfe6"/>
<rect x="377.38" y="387.37" width="17.49" height="4.12" fill="#f9d8ce"/>
<rect x="377.38" y="391.44" width="17.49" height="2.09" fill="#d5cfe6"/>
<rect x="377.38" y="393.48" width="17.49" height="2.09" fill="#4b4fa6"/>
<rect x="377.38" y="395.51" width="17.49" height="2.09" fill="#6c68b2"/>
<rect x="377.38" y="397.55" width="17.49" height="2.09" fill="#4b4fa6"/>
<rect x="377.38" y="399.58" width="17.49" height="2.09" fill="#d5cfe6"/>
<rect x="377.38" y="401.62" width="17.49" height="4.12" fill="#f9d8ce"/>
<rect x="377.38" y="405.69" width="17.49" height="2.09" fill="#d5cfe6"/>
<rect x="377.38" y="407.73" width="17.49" height="4.12" fill="#a197cb"/>
<rect x="377.38" y="411.80" width="17.49" height="2.09" fill="#6c68b2"/>
<rect x="377.38" y="413.84" width="17.49" height="2.09" fill="#d5cfe6"/>
<rect x="377.38" y="415.87" width="17.49" height="6.16" fill="#f9d8ce"/>
<rect x="377.38" y="421.98" width="17.49" height="2.09" fill="#f7b29c"/>
<rect x="377.38" y="424.02" width="17.49" height="4.12" fill="#f9d8ce"/>
<rect x="377.38" y="428.09" width="17.49" height="2.09" fill="#fcfafa"/>
<rect x="377.38" y="430.12" width="17.49" height="2.09" fill="#ea5c42"/>
<rect x="377.38" y="432.16" width="17.49" height="8.19" fill="#f9d8ce"/>
<rect x="377.38" y="440.30" width="17.49" height="2.09" fill="#f7b29c"/>
<rect x="377.38" y="442.34" width="17.49" height="2.09" fill="#f18b71"/>
<rect x="377.38" y="444.38" width="17.49" height="2.09" fill="#f9d8ce"/>
<rect x="377.38" y="446.41" width="17.49" height="2.09" fill="#f7b29c"/>
<rect x="377.38" y="448.45" width="17.49" height="2.09" fill="#f18b71"/>
<rect x="377.38" y="450.48" width="17.49" height="4.12" fill="#f7b29c"/>
<rect x="377.38" y="454.56" width="17.49" height="2.09" fill="#f9d8ce"/>
<rect x="377.38" y="456.59" width="17.49" height="4.12" fill="#f18b71"/>
<rect x="377.38" y="460.66" width="17.49" height="4.12" fill="#f9d8ce"/>
<rect x="377.38" y="464.74" width="17.49" height="4.12" fill="#fcfafa"/>
<rect x="377.38" y="468.81" width="17.49" height="4.12" fill="#d5cfe6"/>
<rect x="377.38" y="472.88" width="17.49" height="2.09" fill="#a197cb"/>
<rect x="377.38" y="474.92" width="17.49" height="2.09" fill="#f18b71"/>
<rect x="377.38" y="476.95" width="17.49" height="2.09" fill="#f7b29c"/>
<rect x="377.38" y="478.99" width="17.49" height="4.12" fill="#f9d8ce"/>
<rect x="377.38" y="483.06" width="17.49" height="2.09" fill="#fcfafa"/>
<rect x="377.38" y="485.10" width="17.49" height="2.09" fill="#d5cfe6"/>
<rect x="377.38" y="487.13" width="17.49" height="4.12" fill="#fcfafa"/>
<rect x="377.38" y="491.20" width="17.49" height="2.09" fill="#f9d8ce"/>
<rect x="377.38" y="493.24" width="17.49" height="2.09" fill="#fcfafa"/>
<rect x="377.38" y="495.28" width="17.49" height="2.09" fill="#f9d8ce"/>
<rect x="377.38" y="497.31" width="17.49" height="4.12" fill="#d5cfe6"/>
<rect x="377.38" y="501.38" width="17.49" height="2.09" fill="#f9d8ce"/>
<rect x="377.38" y="503.42" width="17.49" height="2.09" fill="#d5cfe6"/>
<rect x="377.38" y="505.46" width="17.49" height="6.16" fill="#f9d8ce"/>
<rect x="377.38" y="511.56" width="17.49" height="2.09" fill="#fcfafa"/>
<rect x="377.38" y="513.60" width="17.49" height="2.09" fill="#f9d8ce"/>
<rect x="377.38" y="515.64" width="17.49" height="2.09" fill="#f7b29c"/>
<rect x="377.38" y="517.67" width="17.49" height="2.09" fill="#fcfafa"/>
<rect x="377.38" y="519.71" width="17.49" height="2.09" fill="#f7b29c"/>
<rect x="377.38" y="521.74" width="17.49" height="14.30" fill="#f9d8ce"/>
<rect x="377.38" y="536.00" width="17.49" height="6.16" fill="#d5cfe6"/>
<rect x="377.38" y="542.10" width="17.49" height="2.09" fill="#f9d8ce"/>
<rect x="377.38" y="544.14" width="17.49" height="2.09" fill="#fcfafa"/>
<rect x="377.38" y="546.18" width="17.49" height="2.09" fill="#a197cb"/>
<rect x="377.38" y="548.21" width="17.49" height="2.09" fill="#f9d8ce"/>
<rect x="377.38" y="550.25" width="17.49" height="10.23" fill="#6c68b2"/>
<rect x="377.38" y="560.43" width="17.49" height="8.19" fill="#f9d8ce"/>
<rect x="377.38" y="568.57" width="17.49" height="2.09" fill="#d5cfe6"/>
<rect x="377.38" y="570.61" width="17.49" height="2.09" fill="#fcfafa"/>
<rect x="377.38" y="572.64" width="17.49" height="2.09" fill="#f9d8ce"/>
<rect x="377.38" y="574.68" width="17.49" height="2.09" fill="#a197cb"/>
<rect x="377.38" y="576.72" width="17.49" height="4.12" fill="#d5cfe6"/>
<rect x="377.38" y="580.79" width="17.49" height="2.09" fill="#f7b29c"/>
<rect x="377.38" y="582.82" width="17.49" height="2.09" fill="#f9d8ce"/>
<rect x="377.38" y="584.86" width="17.49" height="6.16" fill="#f7b29c"/>
<rect x="377.38" y="590.97" width="17.49" height="8.19" fill="#f9d8ce"/>
<rect x="377.38" y="599.11" width="17.49" height="2.09" fill="#fcfafa"/>
<rect x="377.38" y="601.15" width="17.49" height="2.09" fill="#f9d8ce"/>
<rect x="377.38" y="603.18" width="17.49" height="2.09" fill="#ea5c42"/>
<rect x="377.38" y="605.22" width="17.49" height="2.09" fill="#f7b29c"/>
<rect x="377.38" y="607.26" width="17.49" height="4.12" fill="#fcfafa"/>
<rect x="377.38" y="611.33" width="17.49" height="4.12" fill="#a197cb"/>
<rect x="394.82" y="208.20" width="17.49" height="2.09" fill="#f9d8ce"/>
<rect x="394.82" y="210.24" width="17.49" height="2.09" fill="#d5cfe6"/>
<rect x="394.82" y="212.27" width="17.49" height="2.09" fill="#6c68b2"/>
<rect x="394.82" y="214.31" width="17.49" height="2.09" fill="#fcfafa"/>
<rect x="394.82" y="216.34" width="17.49" height="2.09" fill="#f9d8ce"/>
<rect x="394.82" y="218.38" width="17.49" height="4.12" fill="#6c68b2"/>
<rect x="394.82" y="222.45" width="17.49" height="4.12" fill="#4b4fa6"/>
<rect x="394.82" y="226.52" width="17.49" height="2.09" fill="#6c68b2"/>
<rect x="394.82" y="228.56" width="17.49" height="4.12" fill="#4b4fa6"/>
<rect x="394.82" y="232.63" width="17.49" height="12.27" fill="#384aa6"/>
<rect x="394.82" y="244.85" width="17.49" height="2.09" fill="#6c68b2"/>
<rect x="394.82" y="246.88" width="17.49" height="2.09" fill="#4b4fa6"/>
<rect x="394.82" y="248.92" width="17.49" height="2.09" fill="#d5cfe6"/>
<rect x="394.82" y="250.96" width="17.49" height="4.12" fill="#a197cb"/>
<rect x="394.82" y="255.03" width="17.49" height="6.16" fill="#fcfafa"/>
<rect x="394.82" y="261.14" width="17.49" height="4.12" fill="#f9d8ce"/>
<rect x="394.82" y="265.21" width="17.49" height="2.09" fill="#fcfafa"/>
<rect x="394.82" y="267.24" width="17.49" height="2.09" fill="#6c68b2"/>
<rect x="394.82" y="269.28" width="17.49" height="4.12" fill="#a197cb"/>
<rect x="394.82" y="273.35" width="17.49" height="4.12" fill="#6c68b2"/>
<rect x="394.82" y="277.42" width="17.49" height="2.09" fill="#d5cfe6"/>
<rect x="394.82" y="279.46" width="17.49" height="2.09" fill="#fcfafa"/>
<rect x="394.82" y="281.50" width="17.49" height="2.09" fill="#f9d8ce"/>
<rect x="394.82" y="283.53" width="17.49" height="2.09" fill="#f7b29c"/>
<rect x="394.82" y="285.57" width="17.49" height="4.12" fill="#f9d8ce"/>
<rect x="394.82" y="289.64" width="17.49" height="2.09" fill="#f7b29c"/>
<rect x="394.82" y="291.68" width="17.49" height="2.09" fill="#f9d8ce"/>
<rect x="394.82" y="293.71" width="17.49" height="2.09" fill="#d5cfe6"/>
<rect x="394.82" y="295.75" width="17.49" height="4.12" fill="#fcfafa"/>
<rect x="394.82" y="299.82" width="17.49" height="4.12" fill="#a197cb"/>
<rect x="394.82" y="303.89" width="17.49" height="2.09" fill="#d5cfe6"/>
<rect x="394.82" y="305.93" width="17.49" height="2.09" fill="#f9d8ce"/>
<rect x="394.82" y="307.96" width="17.49" height="2.09" fill="#f7b29c"/>
<rect x="394.82" y="310.00" width="17.49" height="2.09" fill="#f9d8ce"/>
<rect x="394.82" y="312.04" width="17.49" height="2.09" fill="#d5cfe6"/>
<rect x="394.82" y="314.07" width="17.49" height="2.09" fill="#a197cb"/>
<rect x="394.82" y="316.11" width="17.49" height="4.12" fill="#d5cfe6"/>
<rect x="394.82" y="320.18" width="17.49" height="2.09" fill="#6c68b2"/>
<rect x="394.82" y="322.22" width="17.49" height="2.09" fill="#d5cfe6"/>
<rect x="394.82" y="324.25" width="17.49" height="2.09" fill="#fcfafa"/>
<rect x="394.82" y="326.29" width="17.49" height="4.12" fill="#d5cfe6"/>
<rect x="394.82" y="330.36" width="17.49" height="2.09" fill="#fcfafa"/>
<rect x="394.82" y="332.40" width="17.49" height="6.16" fill="#f9d8ce"/>
<rect x="394.82" y="338.50" width="17.49" height="2.09" fill="#d5cfe6"/>
<rect x="394.82" y="340.54" width="17.49" height="4.12" fill="#f9d8ce"/>
<rect x="394.82" y="344.61" width="17.49" height="8.19" fill="#f7b29c"/>
<rect x="394.82" y="352.76" width="17.49" height="2.09" fill="#f18b71"/>
<rect x="394.82" y="354.79" width="17.49" height="2.09" fill="#ea5c42"/>
<rect x="394.82" y="356.83" width="17.49" height="2.09" fill="#f7b29c"/>
<rect x="394.82" y="358.86" width="17.49" height="2.09" fill="#a197cb"/>
<rect x="394.82" y="360.90" width="17.49" height="2.09" fill="#6c68b2"/>
<rect x="394.82" y="362.94" width="17.49" height="2.09" fill="#a197cb"/>
<rect x="394.82" y="364.97" width="17.49" height="2.09" fill="#d5cfe6"/>
<rect x="394.82" y="367.01" width="17.49" height="4.12" fill="#f9d8ce"/>
<rect x="394.82" y="371.08" width="17.49" height="4.12" fill="#a197cb"/>
<rect x="394.82" y="375.15" width="17.49" height="6.16" fill="#f7b29c"/>
<rect x="394.82" y="381.26" width="17.49" height="6.16" fill="#f18b71"/>
<rect x="394.82" y="387.37" width="17.49" height="2.09" fill="#fcfafa"/>
<rect x="394.82" y="389.40" width="17.49" height="4.12" fill="#f9d8ce"/>
<rect x="394.82" y="393.48" width="17.49" height="6.16" fill="#d5cfe6"/>
<rect x="394.82" y="399.58" width="17.49" height="2.09" fill="#f9d8ce"/>
<rect x="394.82" y="401.62" width="17.49" height="2.09" fill="#f18b71"/>
<rect x="394.82" y="403.66" width="17.49" height="2.09" fill="#f7b29c"/>
<rect x="394.82" y="405.69" width="17.49" height="2.09" fill="#f18b71"/>
<rect x="394.82" y="407.73" width="17.49" height="4.12" fill="#ea5c42"/>
<rect x="394.82" y="411.80" width="17.49" height="2.09" fill="#d6201e"/>
<rect x="394.82" y="413.84" width="17.49" height="2.09" fill="#f7b29c"/>
<rect x="394.82" y="415.87" width="17.49" height="2.09" fill="#fcfafa"/>
<rect x="394.82" y="417.91" width="17.49" height="8.19" fill="#d5cfe6"/>
<rect x="394.82" y="426.05" width="17.49" height="2.09" fill="#fcfafa"/>
<rect x="394.82" y="428.09" width="17.49" height="2.09" fill="#f9d8ce"/>
<rect x="394.82" y="430.12" width="17.49" height="6.16" fill="#d5cfe6"/>
<rect x="394.82" y="436.23" width="17.49" height="2.09" fill="#fcfafa"/>
<rect x="394.82" y="438.27" width="17.49" height="2.09" fill="#d5cfe6"/>
<rect x="394.82" y="440.30" width="17.49" height="2.09" fill="#fcfafa"/>
<rect x="394.82" y="442.34" width="17.49" height="6.16" fill="#d5cfe6"/>
<rect x="394.82" y="448.45" width="17.49" height="6.16" fill="#a197cb"/>
<rect x="394.82" y="454.56" width="17.49" height="4.12" fill="#d5cfe6"/>
<rect x="394.82" y="458.63" width="17.49" height="2.09" fill="#f7b29c"/>
<rect x="394.82" y="460.66" width="17.49" height="2.09" fill="#d5cfe6"/>
<rect x="394.82" y="462.70" width="17.49" height="2.09" fill="#f7b29c"/>
<rect x="394.82" y="464.74" width="17.49" height="2.09" fill="#f9d8ce"/>
<rect x="394.82" y="466.77" width="17.49" height="4.12" fill="#ea5c42"/>
<rect x="394.82" y="470.84" width="17.49" height="2.09" fill="#f18b71"/>
<rect x="394.82" y="472.88" width="17.49" height="2.09" fill="#f7b29c"/>
<rect x="394.82" y="474.92" width="17.49" height="2.09" fill="#f18b71"/>
<rect x="394.82" y="476.95" width="17.49" height="4.12" fill="#f9d8ce"/>
<rect x="394.82" y="481.02" width="17.49" height="2.09" fill="#fcfafa"/>
<rect x="394.82" y="483.06" width="17.49" height="2.09" fill="#f9d8ce"/>
<rect x="394.82" y="485.10" width="17.49" height="4.12" fill="#d5cfe6"/>
<rect x="394.82" y="489.17" width="17.49" height="2.09" fill="#fcfafa"/>
<rect x="394.82" y="491.20" width="17.49" height="2.09" fill="#a197cb"/>
<rect x="394.82" y="493.24" width="17.49" height="2.09" fill="#fcfafa"/>
<rect x="394.82" y="495.28" width="17.49" height="2.09" fill="#d5cfe6"/>
<rect x="394.82" y="497.31" width="17.49" height="2.09" fill="#fcfafa"/>
<rect x="394.82" y="499.35" width="17.49" height="6.16" fill="#d5cfe6"/>
<rect x="394.82" y="505.46" width="17.49" height="2.09" fill="#fcfafa"/>
<rect x="394.82" y="507.49" width="17.49" height="2.09" fill="#a197cb"/>
<rect x="394.82" y="509.53" width="17.49" height="2.09" fill="#6c68b2"/>
<rect x="394.82" y="511.56" width="17.49" height="2.09" fill="#4b4fa6"/>
<rect x="394.82" y="513.60" width="17.49" height="2.09" fill="#fcfafa"/>
<rect x="394.82" y="515.64" width="17.49" height="12.27" fill="#d5cfe6"/>
<rect x="394.82" y="527.85" width="17.49" height="2.09" fill="#a197cb"/>
<rect x="394.82" y="529.89" width="17.49" height="4.12" fill="#d5cfe6"/>
<rect x="394.82" y="533.96" width="17.49" height="4.12" fill="#f9d8ce"/>
<rect x="394.82" y="538.03" width="17.49" height="2.09" fill="#fcfafa"/>
<rect x="394.82" y="540.07" width="17.49" height="2.09" fill="#a197cb"/>
<rect x="394.82" y="542.10" width="17.49" height="4.12" fill="#d5cfe6"/>
<rect x="394.82" y="546.18" width="17.49" height="2.09" fill="#fcfafa"/>
<rect x="394.82" y="548.21" width="17.49" height="4.12" fill="#f7b29c"/>
<rect x="394.82" y="552.28" width="17.49" height="6.16" fill="#f9d8ce"/>
<rect x="394.82" y="558.39" width="17.49" height="4.12" fill="#f18b71"/>
<rect x="394.82" y="562.46" width="17.49" height="4.12" fill="#d5cfe6"/>
<rect x="394.82" y="566.54" width="17.49" height="2.09" fill="#fcfafa"/>
<rect x="394.82" y="568.57" width="17.49" height="2.09" fill="#ea5c42"/>
<rect x="394.82" y="570.61" width="17.49" height="4.12" fill="#d5cfe6"/>
<rect x="394.82" y="574.68" width="17.49" height="2.09" fill="#fcfafa"/>
<rect x="394.82" y="576.72" width="17.49" height="2.09" fill="#d5cfe6"/>
<rect x="394.82" y="578.75" width="17.49" height="2.09" fill="#fcfafa"/>
<rect x="394.82" y="580.79" width="17.49" height="4.12" fill="#f18b71"/>
<rect x="394.82" y="584.86" width="17.49" height="2.09" fill="#f7b29c"/>
<rect x="394.82" y="586.90" width="17.49" height="2.09" fill="#fcfafa"/>
<rect x="394.82" y="588.93" width="17.49" height="2.09" fill="#d5cfe6"/>
<rect x="394.82" y="590.97" width="17.49" height="2.09" fill="#fcfafa"/>
<rect x="394.82" y="593.00" width="17.49" height="8.19" fill="#f9d8ce"/>
<rect x="394.82" y="601.15" width="17.49" height="2.09" fill="#fcfafa"/>
<rect x="394.82" y="603.18" width="17.49" height="2.09" fill="#f9d8ce"/>
<rect x="394.82" y="605.22" width="17.49" height="2.09" fill="#fcfafa"/>
<rect x="394.82" y="607.26" width="17.49" height="2.09" fill="#d6201e"/>
<rect x="394.82" y="609.29" width="17.49" height="6.16" fill="#ea5c42"/>
<rect x="412.27" y="208.20" width="17.49" height="4.12" fill="#f9d8ce"/>
<rect x="412.27" y="212.27" width="17.49" height="2.09" fill="#f18b71"/>
<rect x="412.27" y="214.31" width="17.49" height="8.19" fill="#f7b29c"/>
<rect x="412.27" y="222.45" width="17.49" height="2.09" fill="#fcfafa"/>
<rect x="412.27" y="224.49" width="17.49" height="4.12" fill="#f18b71"/>
<rect x="412.27" y="228.56" width="17.49" height="2.09" fill="#a197cb"/>
<rect x="412.27" y="230.60" width="17.49" height="6.16" fill="#fcfafa"/>
<rect x="412.27" y="236.70" width="17.49" height="2.09" fill="#d5cfe6"/>
<rect x="412.27" y="238.74" width="17.49" height="6.16" fill="#f9d8ce"/>
<rect x="412.27" y="244.85" width="17.49" height="2.09" fill="#a197cb"/>
<rect x="412.27" y="246.88" width="17.49" height="2.09" fill="#d5cfe6"/>
<rect x="412.27" y="248.92" width="17.49" height="2.09" fill="#6c68b2"/>
<rect x="412.27" y="250.96" width="17.49" height="2.09" fill="#d5cfe6"/>
<rect x="412.27" y="252.99" width="17.49" height="2.09" fill="#fcfafa"/>
<rect x="412.27" y="255.03" width="17.49" height="6.16" fill="#f9d8ce"/>
<rect x="412.27" y="261.14" width="17.49" height="4.12" fill="#a197cb"/>
<rect x="412.27" y="265.21" width="17.49" height="4.12" fill="#fcfafa"/>
<rect x="412.27" y="269.28" width="17.49" height="4.12" fill="#f9d8ce"/>
<rect x="412.27" y="273.35" width="17.49" height="2.09" fill="#d6201e"/>
<rect x="412.27" y="275.39" width="17.49" height="2.09" fill="#ea5c42"/>
<rect x="412.27" y="277.42" width="17.49" height="2.09" fill="#f18b71"/>
<rect x="412.27" y="279.46" width="17.49" height="6.16" fill="#d6201e"/>
<rect x="412.27" y="285.57" width="17.49" height="2.09" fill="#f9d8ce"/>
<rect x="412.27" y="287.60" width="17.49" height="2.09" fill="#f18b71"/>
<rect x="412.27" y="289.64" width="17.49" height="2.09" fill="#d6201e"/>
<rect x="412.27" y="291.68" width="17.49" height="2.09" fill="#ea5c42"/>
<rect x="412.27" y="293.71" width="17.49" height="4.12" fill="#f9d8ce"/>
<rect x="412.27" y="297.78" width="17.49" height="8.19" fill="#f18b71"/>
<rect x="412.27" y="305.93" width="17.49" height="2.09" fill="#fcfafa"/>
<rect x="412.27" y="307.96" width="17.49" height="2.09" fill="#f7b29c"/>
<rect x="412.27" y="310.00" width="17.49" height="6.16" fill="#f18b71"/>
<rect x="412.27" y="316.11" width="17.49" height="2.09" fill="#f7b29c"/>
<rect x="412.27" y="318.14" width="17.49" height="2.09" fill="#ea5c42"/>
<rect x="412.27" y="320.18" width="17.49" height="2.09" fill="#fcfafa"/>
<rect x="412.27" y="322.22" width="17.49" height="2.09" fill="#f7b29c"/>
<rect x="412.27" y="324.25" width="17.49" height="2.09" fill="#f9d8ce"/>
<rect x="412.27" y="326.29" width="17.49" height="2.09" fill="#a197cb"/>
<rect x="412.27" y="328.32" width="17.49" height="4.12" fill="#fcfafa"/>
<rect x="412.27" y="332.40" width="17.49" height="2.09" fill="#f18b71"/>
<rect x="412.27" y="334.43" width="17.49" height="2.09" fill="#f7b29c"/>
<rect x="412.27" y="336.47" width="17.49" height="2.09" fill="#f18b71"/>
<rect x="412.27" y="338.50" width="17.49" height="4.12" fill="#ea5c42"/>
<rect x="412.27" y="342.58" width="17.49" height="2.09" fill="#f18b71"/>
<rect x="412.27" y="344.61" width="17.49" height="2.09" fill="#f9d8ce"/>
<rect x="412.27" y="346.65" width="17.49" height="2.09" fill="#f7b29c"/>
<rect x="412.27" y="348.68" width="17.49" height="2.09" fill="#f18b71"/>
<rect x="412.27" y="350.72" width="17.49" height="6.16" fill="#f7b29c"/>
<rect x="412.27" y="356.83" width="17.49" height="2.09" fill="#fcfafa"/>
<rect x="412.27" y="358.86" width="17.49" height="2.09" fill="#d6201e"/>
<rect x="412.27" y="360.90" width="17.49" height="2.09" fill="#f18b71"/>
<rect x="412.27" y="362.94" width="17.49" height="6.16" fill="#ea5c42"/>
<rect x="412.27" y="369.04" width="17.49" height="2.09" fill="#f18b71"/>
<rect x="412.27" y="371.08" width="17.49" height="2.09" fill="#f7b29c"/>
<rect x="412.27" y="373.12" width="17.49" height="2.09" fill="#f9d8ce"/>
<rect x="412.27" y="375.15" width="17.49" height="2.09" fill="#d5cfe6"/>
<rect x="412.27" y="377.19" width="17.49" height="2.09" fill="#6c68b2"/>
<rect x="412.27" y="379.22" width="17.49" height="4.12" fill="#d5cfe6"/>
<rect x="412.27" y="383.30" width="17.49" height="2.09" fill="#a197cb"/>
<rect x="412.27" y="385.33" width="17.49" height="2.09" fill="#d5cfe6"/>
<rect x="412.27" y="387.37" width="17.49" height="8.19" fill="#fcfafa"/>
<rect x="412.27" y="395.51" width="17.49" height="2.09" fill="#f18b71"/>
<rect x="412.27" y="397.55" width="17.49" height="2.09" fill="#f9d8ce"/>
<rect x="412.27" y="399.58" width="17.49" height="4.12" fill="#d5cfe6"/>
<rect x="412.27" y="403.66" width="17.49" height="2.09" fill="#f9d8ce"/>
<rect x="412.27" y="405.69" width="17.49" height="2.09" fill="#f7b29c"/>
<rect x="412.27" y="407.73" width="17.49" height="2.09" fill="#f18b71"/>
<rect x="412.27" y="409.76" width="17.49" height="2.09" fill="#fcfafa"/>
<rect x="412.27" y="411.80" width="17.49" height="2.09" fill="#d5cfe6"/>
<rect x="412.27" y="413.84" width="17.49" height="2.09" fill="#fcfafa"/>
<rect x="412.27" y="415.87" width="17.49" height="4.12" fill="#4b4fa6"/>
<rect x="412.27" y="419.94" width="17.49" height="10.23" fill="#6c68b2"/>
<rect x="412.27" y="430.12" width="17.49" height="6.16" fill="#a197cb"/>
<rect x="412.27" y="436.23" width="17.49" height="2.09" fill="#6c68b2"/>
<rect x="412.27" y="438.27" width="17.49" height="8.19" fill="#a197cb"/>
<rect x="412.27" y="446.41" width="17.49" height="8.19" fill="#d5cfe6"/>
<rect x="412.27" y="454.56" width="17.49" height="2.09" fill="#a197cb"/>
<rect x="412.27" y="456.59" width="17.49" height="4.12" fill="#d5cfe6"/>
<rect x="412.27" y="460.66" width="17.49" height="2.09" fill="#fcfafa"/>
<rect x="412.27" y="462.70" width="17.49" height="2.09" fill="#d5cfe6"/>
<rect x="412.27" y="464.74" width="17.49" height="2.09" fill="#f9d8ce"/>
<rect x="412.27" y="466.77" width="17.49" height="2.09" fill="#6c68b2"/>
<rect x="412.27" y="468.81" width="17.49" height="6.16" fill="#a197cb"/>
<rect x="412.27" y="474.92" width="17.49" height="2.09" fill="#6c68b2"/>
<rect x="412.27" y="476.95" width="17.49" height="8.19" fill="#4b4fa6"/>
<rect x="412.27" y="485.10" width="17.49" height="4.12" fill="#6c68b2"/>
<rect x="412.27" y="489.17" width="17.49" height="8.19" fill="#a197cb"/>
<rect x="412.27" y="497.31" width="17.49" height="6.16" fill="#6c68b2"/>
<rect x="412.27" y="503.42" width="17.49" height="2.09" fill="#a197cb"/>
<rect x="412.27" y="505.46" width="17.49" height="6.16" fill="#6c68b2"/>
<rect x="412.27" y="511.56" width="17.49" height="4.12" fill="#a197cb"/>
<rect x="412.27" y="515.64" width="17.49" height="4.12" fill="#4b4fa6"/>
<rect x="412.27" y="519.71" width="17.49" height="4.12" fill="#6c68b2"/>
<rect x="412.27" y="523.78" width="17.49" height="4.12" fill="#4b4fa6"/>
<rect x="412.27" y="527.85" width="17.49" height="2.09" fill="#f9d8ce"/>
<rect x="412.27" y="529.89" width="17.49" height="2.09" fill="#d5cfe6"/>
<rect x="412.27" y="531.92" width="17.49" height="2.09" fill="#f9d8ce"/>
<rect x="412.27" y="533.96" width="17.49" height="8.19" fill="#d5cfe6"/>
<rect x="412.27" y="542.10" width="17.49" height="2.09" fill="#fcfafa"/>
<rect x="412.27" y="544.14" width="17.49" height="4.12" fill="#f9d8ce"/>
<rect x="412.27" y="548.21" width="17.49" height="2.09" fill="#a197cb"/>
<rect x="412.27" y="550.25" width="17.49" height="2.09" fill="#d5cfe6"/>
<rect x="412.27" y="552.28" width="17.49" height="4.12" fill="#fcfafa"/>
<rect x="412.27" y="556.36" width="17.49" height="2.09" fill="#a197cb"/>
<rect x="412.27" y="558.39" width="17.49" height="2.09" fill="#d5cfe6"/>
<rect x="412.27" y="560.43" width="17.49" height="2.09" fill="#f9d8ce"/>
<rect x="412.27" y="562.46" width="17.49" height="2.09" fill="#a197cb"/>
<rect x="412.27" y="564.50" width="17.49" height="2.09" fill="#6c68b2"/>
<rect x="412.27" y="566.54" width="17.49" height="2.09" fill="#4b4fa6"/>
<rect x="412.27" y="568.57" width="17.49" height="4.12" fill="#6c68b2"/>
<rect x="412.27" y="572.64" width="17.49" height="2.09" fill="#a197cb"/>
<rect x="412.27" y="574.68" width="17.49" height="2.09" fill="#d5cfe6"/>
<rect x="412.27" y="576.72" width="17.49" height="2.09" fill="#6c68b2"/>
<rect x="412.27" y="578.75" width="17.49" height="2.09" fill="#a197cb"/>
<rect x="412.27" y="580.79" width="17.49" height="2.09" fill="#f9d8ce"/>
<rect x="412.27" y="582.82" width="17.49" height="2.09" fill="#d5cfe6"/>
<rect x="412.27" y="584.86" width="17.49" height="4.12" fill="#fcfafa"/>
<rect x="412.27" y="588.93" width="17.49" height="2.09" fill="#f7b29c"/>
<rect x="412.27" y="590.97" width="17.49" height="2.09" fill="#d5cfe6"/>
<rect x="412.27" y="593.00" width="17.49" height="2.09" fill="#fcfafa"/>
<rect x="412.27" y="595.04" width="17.49" height="2.09" fill="#d5cfe6"/>
<rect x="412.27" y="597.08" width="17.49" height="4.12" fill="#f9d8ce"/>
<rect x="412.27" y="601.15" width="17.49" height="6.16" fill="#f18b71"/>
<rect x="412.27" y="607.26" width="17.49" height="2.09" fill="#6c68b2"/>
<rect x="412.27" y="609.29" width="17.49" height="2.09" fill="#a197cb"/>
<rect x="412.27" y="611.33" width="17.49" height="4.12" fill="#d5cfe6"/>
<rect x="429.71" y="208.20" width="17.49" height="2.09" fill="#d5cfe6"/>
<rect x="429.71" y="210.24" width="17.49" height="2.09" fill="#f9d8ce"/>
<rect x="429.71" y="212.27" width="17.49" height="4.12" fill="#f7b29c"/>
<rect x="429.71" y="216.34" width="17.49" height="2.09" fill="#ea5c42"/>
<rect x="429.71" y="218.38" width="17.49" height="4.12" fill="#4b4fa6"/>
<rect x="429.71" y="222.45" width="17.49" height="4.12" fill="#d5cfe6"/>
<rect x="429.71" y="226.52" width="17.49" height="2.09" fill="#fcfafa"/>
<rect x="429.71" y="228.56" width="17.49" height="2.09" fill="#d5cfe6"/>
<rect x="429.71" y="230.60" width="17.49" height="2.09" fill="#f9d8ce"/>
<rect x="429.71" y="232.63" width="17.49" height="2.09" fill="#d5cfe6"/>
<rect x="429.71" y="234.67" width="17.49" height="4.12" fill="#fcfafa"/>
<rect x="429.71" y="238.74" width="17.49" height="2.09" fill="#f9d8ce"/>
<rect x="429.71" y="240.78" width="17.49" height="4.12" fill="#f7b29c"/>
<rect x="429.71" y="244.85" width="17.49" height="2.09" fill="#f18b71"/>
<rect x="429.71" y="246.88" width="17.49" height="2.09" fill="#fcfafa"/>
<rect x="429.71" y="248.92" width="17.49" height="2.09" fill="#f9d8ce"/>
<rect x="429.71" y="250.96" width="17.49" height="2.09" fill="#fcfafa"/>
<rect x="429.71" y="252.99" width="17.49" height="2.09" fill="#f7b29c"/>
<rect x="429.71" y="255.03" width="17.49" height="2.09" fill="#fcfafa"/>
<rect x="429.71" y="257.06" width="17.49" height="2.09" fill="#f9d8ce"/>
<rect x="429.71" y="259.10" width="17.49" height="2.09" fill="#fcfafa"/>
<rect x="429.71" y="261.14" width="17.49" height="2.09" fill="#f9d8ce"/>
<rect x="429.71" y="263.17" width="17.49" height="2.09" fill="#d5cfe6"/>
<rect x="429.71" y="265.21" width="17.49" height="4.12" fill="#f7b29c"/>
<rect x="429.71" y="269.28" width="17.49" height="2.09" fill="#a197cb"/>
<rect x="429.71" y="271.32" width="17.49" height="2.09" fill="#6c68b2"/>
<rect x="429.71" y="273.35" width="17.49" height="2.09" fill="#f9d8ce"/>
<rect x="429.71" y="275.39" width="17.49" height="4.12" fill="#f18b71"/>
<rect x="429.71" y="279.46" width="17.49" height="6.16" fill="#f9d8ce"/>
<rect x="429.71" y="285.57" width="17.49" height="2.09" fill="#ea5c42"/>
<rect x="429.71" y="287.60" width="17.49" height="4.12" fill="#f9d8ce"/>
<rect x="429.71" y="291.68" width="17.49" height="2.09" fill="#fcfafa"/>
<rect x="429.71" y="293.71" width="17.49" height="4.12" fill="#d5cfe6"/>
<rect x="429.71" y="297.78" width="17.49" height="4.12" fill="#f9d8ce"/>
<rect x="429.71" y="301.86" width="17.49" height="2.09" fill="#fcfafa"/>
<rect x="429.71" y="303.89" width="17.49" height="2.09" fill="#d5cfe6"/>
<rect x="429.71" y="305.93" width="17.49" height="2.09" fill="#4b4fa6"/>
<rect x="429.71" y="307.96" width="17.49" height="2.09" fill="#a197cb"/>
<rect x="429.71" y="310.00" width="17.49" height="2.09" fill="#4b4fa6"/>
<rect x="429.71" y="312.04" width="17.49" height="4.12" fill="#f9d8ce"/>
<rect x="429.71" y="316.11" width="17.49" height="6.16" fill="#f18b71"/>
<rect x="429.71" y="322.22" width="17.49" height="4.12" fill="#ea5c42"/>
<rect x="429.71" y="326.29" width="17.49" height="6.16" fill="#f18b71"/>
<rect x="429.71" y="332.40" width="17.49" height="2.09" fill="#f9d8ce"/>
<rect x="429.71" y="334.43" width="17.49" height="8.19" fill="#f7b29c"/>
<rect x="429.71" y="342.58" width="17.49" height="4.12" fill="#f18b71"/>
<rect x="429.71" y="346.65" width="17.49" height="4.12" fill="#fcfafa"/>
<rect x="429.71" y="350.72" width="17.49" height="4.12" fill="#f9d8ce"/>
<rect x="429.71" y="354.79" width="17.49" height="2.09" fill="#fcfafa"/>
<rect x="429.71" y="356.83" width="17.49" height="2.09" fill="#f7b29c"/>
<rect x="429.71" y="358.86" width="17.49" height="4.12" fill="#f9d8ce"/>
<rect x="429.71" y="362.94" width="17.49" height="2.09" fill="#d5cfe6"/>
<rect x="429.71" y="364.97" width="17.49" height="2.09" fill="#f7b29c"/>
<rect x="429.71" y="367.01" width="17.49" height="4.12" fill="#f18b71"/>
<rect x="429.71" y="371.08" width="17.49" height="2.09" fill="#f7b29c"/>
<rect x="429.71" y="373.12" width="17.49" height="2.09" fill="#fcfafa"/>
<rect x="429.71" y="375.15" width="17.49" height="2.09" fill="#f7b29c"/>
<rect x="429.71" y="377.19" width="17.49" height="2.09" fill="#ea5c42"/>
<rect x="429.71" y="379.22" width="17.49" height="2.09" fill="#f7b29c"/>
<rect x="429.71" y="381.26" width="17.49" height="2.09" fill="#f9d8ce"/>
<rect x="429.71" y="383.30" width="17.49" height="2.09" fill="#fcfafa"/>
<rect x="429.71" y="385.33" width="17.49" height="8.19" fill="#f9d8ce"/>
<rect x="429.71" y="393.48" width="17.49" height="4.12" fill="#a197cb"/>
<rect x="429.71" y="397.55" width="17.49" height="2.09" fill="#f9d8ce"/>
<rect x="429.71" y="399.58" width="17.49" height="2.09" fill="#d5cfe6"/>
<rect x="429.71" y="401.62" width="17.49" height="6.16" fill="#f9d8ce"/>
<rect x="429.71" y="407.73" width="17.49" height="2.09" fill="#fcfafa"/>
<rect x="429.71" y="409.76" width="17.49" height="2.09" fill="#f7b29c"/>
<rect x="429.71" y="411.80" width="17.49" height="2.09" fill="#f9d8ce"/>
<rect x="429.71" y="413.84" width="17.49" height="2.09" fill="#f7b29c"/>
<rect x="429.71" y="415.87" width="17.49" height="8.19" fill="#d5cfe6"/>
<rect x="429.71" y="424.02" width="17.49" height="4.12" fill="#a197cb"/>
<rect x="429.71" y="428.09" width="17.49" height="2.09" fill="#6c68b2"/>
<rect x="429.71" y="430.12" width="17.49" height="2.09" fill="#fcfafa"/>
<rect x="429.71" y="432.16" width="17.49" height="2.09" fill="#a197cb"/>
<rect x="429.71" y="434.20" width="17.49" height="4.12" fill="#fcfafa"/>
<rect x="429.71" y="438.27" width="17.49" height="4.12" fill="#6c68b2"/>
<rect x="429.71" y="442.34" width="17.49" height="2.09" fill="#a197cb"/>
<rect x="429.71" y="444.38" width="17.49" height="2.09" fill="#d5cfe6"/>
<rect x="429.71" y="446.41" width="17.49" height="4.12" fill="#6c68b2"/>
<rect x="429.71" y="450.48" width="17.49" height="2.09" fill="#a197cb"/>
<rect x="429.71" y="452.52" width="17.49" height="4.12" fill="#6c68b2"/>
<rect x="429.71" y="456.59" width="17.49" height="8.19" fill="#d5cfe6"/>
<rect x="429.71" y="464.74" width="17.49" height="2.09" fill="#fcfafa"/>
<rect x="429.71" y="466.77" width="17.49" height="4.12" fill="#d5cfe6"/>
<rect x="429.71" y="470.84" width="17.49" height="2.09" fill="#4b4fa6"/>
<rect x="429.71" y="472.88" width="17.49" height="2.09" fill="#6c68b2"/>
<rect x="429.71" y="474.92" width="17.49" height="2.09" fill="#a197cb"/>
<rect x="429.71" y="476.95" width="17.49" height="2.09" fill="#fcfafa"/>
<rect x="429.71" y="478.99" width="17.49" height="2.09" fill="#f9d8ce"/>
<rect x="429.71" y="481.02" width="17.49" height="2.09" fill="#f18b71"/>
<rect x="429.71" y="483.06" width="17.49" height="2.09" fill="#fcfafa"/>
<rect x="429.71" y="485.10" width="17.49" height="2.09" fill="#f7b29c"/>
<rect x="429.71" y="487.13" width="17.49" height="4.12" fill="#f9d8ce"/>
<rect x="429.71" y="491.20" width="17.49" height="2.09" fill="#fcfafa"/>
<rect x="429.71" y="493.24" width="17.49" height="2.09" fill="#6c68b2"/>
<rect x="429.71" y="495.28" width="17.49" height="2.09" fill="#a197cb"/>
<rect x="429.71" y="497.31" width="17.49" height="6.16" fill="#6c68b2"/>
<rect x="429.71" y="503.42" width="17.49" height="4.12" fill="#a197cb"/>
<rect x="429.71" y="507.49" width="17.49" height="2.09" fill="#6c68b2"/>
<rect x="429.71" y="509.53" width="17.49" height="4.12" fill="#d5cfe6"/>
<rect x="429.71" y="513.60" width="17.49" height="6.16" fill="#a197cb"/>
<rect x="429.71" y="519.71" width="17.49" height="2.09" fill="#6c68b2"/>
<rect x="429.71" y="521.74" width="17.49" height="2.09" fill="#f7b29c"/>
<rect x="429.71" y="523.78" width="17.49" height="4.12" fill="#f9d8ce"/>
<rect x="429.71" y="527.85" width="17.49" height="6.16" fill="#f7b29c"/>
<rect x="429.71" y="533.96" width="17.49" height="4.12" fill="#fcfafa"/>
<rect x="429.71" y="538.03" width="17.49" height="2.09" fill="#d5cfe6"/>
<rect x="429.71" y="540.07" width="17.49" height="2.09" fill="#a197cb"/>
<rect x="429.71" y="542.10" width="17.49" height="2.09" fill="#f9d8ce"/>
<rect x="429.71" y="544.14" width="17.49" height="4.12" fill="#d5cfe6"/>
<rect x="429.71" y="548.21" width="17.49" height="2.09" fill="#f18b71"/>
<rect x="429.71" y="550.25" width="17.49" height="2.09" fill="#f9d8ce"/>
<rect x="429.71" y="552.28" width="17.49" height="2.09" fill="#d5cfe6"/>
<rect x="429.71" y="554.32" width="17.49" height="2.09" fill="#f9d8ce"/>
<rect x="429.71" y="556.36" width="17.49" height="4.12" fill="#d5cfe6"/>
<rect x="429.71" y="560.43" width="17.49" height="2.09" fill="#6c68b2"/>
<rect x="429.71" y="562.46" width="17.49" height="2.09" fill="#a197cb"/>
<rect x="429.71" y="564.50" width="17.49" height="2.09" fill="#fcfafa"/>
<rect x="429.71" y="566.54" width="17.49" height="4.12" fill="#d5cfe6"/>
<rect x="429.71" y="570.61" width="17.49" height="2.09" fill="#a197cb"/>
<rect x="429.71" y="572.64" width="17.49" height="2.09" fill="#d5cfe6"/>
<rect x="429.71" y="574.68" width="17.49" height="2.09" fill="#4b4fa6"/>
<rect x="429.71" y="576.72" width="17.49" height="4.12" fill="#a197cb"/>
<rect x="429.71" y="580.79" width="17.49" height="2.09" fill="#4b4fa6"/>
<rect x="429.71" y="582.82" width="17.49" height="2.09" fill="#a197cb"/>
<rect x="429.71" y="584.86" width="17.49" height="4.12" fill="#6c68b2"/>
<rect x="429.71" y="588.93" width="17.49" height="12.27" fill="#4b4fa6"/>
<rect x="429.71" y="601.15" width="17.49" height="4.12" fill="#6c68b2"/>
<rect x="429.71" y="605.22" width="17.49" height="2.09" fill="#fcfafa"/>
<rect x="429.71" y="607.26" width="17.49" height="2.09" fill="#a197cb"/>
<rect x="429.71" y="609.29" width="17.49" height="6.16" fill="#d5cfe6"/>
<rect x="447.16" y="208.20" width="17.49" height="4.12" fill="#4b4fa6"/>
<rect x="447.16" y="212.27" width="17.49" height="6.16" fill="#6c68b2"/>
<rect x="447.16" y="218.38" width="17.49" height="2.09" fill="#f18b71"/>
<rect x="447.16" y="220.42" width="17.49" height="2.09" fill="#f9d8ce"/>
<rect x="447.16" y="222.45" width="17.49" height="2.09" fill="#f7b29c"/>
<rect x="447.16" y="224.49" width="17.49" height="2.09" fill="#f9d8ce"/>
<rect x="447.16" y="226.52" width="17.49" height="4.12" fill="#d5cfe6"/>
<rect x="447.16" y="230.60" width="17.49" height="2.09" fill="#a197cb"/>
<rect x="447.16" y="232.63" width="17.49" height="4.12" fill="#d5cfe6"/>
<rect x="447.16" y="236.70" width="17.49" height="6.16" fill="#fcfafa"/>
<rect x="447.16" y="242.81" width="17.49" height="2.09" fill="#d5cfe6"/>
<rect x="447.16" y="244.85" width="17.49" height="2.09" fill="#f9d8ce"/>
<rect x="447.16" y="246.88" width="17.49" height="2.09" fill="#f18b71"/>
<rect x="447.16" y="248.92" width="17.49" height="2.09" fill="#a197cb"/>
<rect x="447.16" y="250.96" width="17.49" height="2.09" fill="#f7b29c"/>
<rect x="447.16" y="252.99" width="17.49" height="2.09" fill="#f9d8ce"/>
<rect x="447.16" y="255.03" width="17.49" height="2.09" fill="#f7b29c"/>
<rect x="447.16" y="257.06" width="17.49" height="4.12" fill="#f9d8ce"/>
<rect x="447.16" y="261.14" width="17.49" height="2.09" fill="#a197cb"/>
<rect x="447.16" y="263.17" width="17.49" height="2.09" fill="#f7b29c"/>
<rect x="447.16" y="265.21" width="17.49" height="4.12" fill="#d5cfe6"/>
<rect x="447.16" y="269.28" width="17.49" height="2.09" fill="#f7b29c"/>
<rect x="447.16" y="271.32" width="17.49" height="2.09" fill="#d5cfe6"/>
<rect x="447.16" y="273.35" width="17.49" height="2.09" fill="#fcfafa"/>
<rect x="447.16" y="275.39" width="17.49" height="2.09" fill="#d5cfe6"/>
<rect x="447.16" y="277.42" width="17.49" height="2.09" fill="#a197cb"/>
<rect x="447.16" y="279.46" width="17.49" height="12.27" fill="#d5cfe6"/>
<rect x="447.16" y="291.68" width="17.49" height="2.09" fill="#a197cb"/>
<rect x="447.16" y="293.71" width="17.49" height="2.09" fill="#f9d8ce"/>
<rect x="447.16" y="295.75" width="17.49" height="2.09" fill="#d6201e"/>
<rect x="447.16" y="297.78" width="17.49" height="2.09" fill="#f9d8ce"/>
<rect x="447.16" y="299.82" width="17.49" height="2.09" fill="#f7b29c"/>
<rect x="447.16" y="301.86" width="17.49" height="6.16" fill="#f18b71"/>
<rect x="447.16" y="307.96" width="17.49" height="2.09" fill="#f7b29c"/>
<rect x="447.16" y="310.00" width="17.49" height="4.12" fill="#f18b71"/>
<rect x="447.16" y="314.07" width="17.49" height="2.09" fill="#ea5c42"/>
<rect x="447.16" y="316.11" width="17.49" height="8.19" fill="#f9d8ce"/>
<rect x="447.16" y="324.25" width="17.49" height="2.09" fill="#d5cfe6"/>
<rect x="447.16" y="326.29" width="17.49" height="4.12" fill="#f7b29c"/>
<rect x="447.16" y="330.36" width="17.49" height="2.09" fill="#ea5c42"/>
<rect x="447.16" y="332.40" width="17.49" height="2.09" fill="#f9d8ce"/>
<rect x="447.16" y="334.43" width="17.49" height="4.12" fill="#f18b71"/>
<rect x="447.16" y="338.50" width="17.49" height="2.09" fill="#f7b29c"/>
<rect x="447.16" y="340.54" width="17.49" height="2.09" fill="#f9d8ce"/>
<rect x="447.16" y="342.58" width="17.49" height="4.12" fill="#f7b29c"/>
<rect x="447.16" y="346.65" width="17.49" height="2.09" fill="#ea5c42"/>
<rect x="447.16" y="348.68" width="17.49" height="2.09" fill="#f18b71"/>
<rect x="447.16" y="350.72" width="17.49" height="2.09" fill="#f7b29c"/>
<rect x="447.16" y="352.76" width="17.49" height="2.09" fill="#f18b71"/>
<rect x="447.16" y="354.79" width="17.49" height="2.09" fill="#f7b29c"/>
<rect x="447.16" y="356.83" width="17.49" height="2.09" fill="#ea5c42"/>
<rect x="447.16" y="358.86" width="17.49" height="2.09" fill="#f18b71"/>
<rect x="447.16" y="360.90" width="17.49" height="4.12" fill="#ea5c42"/>
<rect x="447.16" y="364.97" width="17.49" height="2.09" fill="#fcfafa"/>
<rect x="447.16" y="367.01" width="17.49" height="2.09" fill="#f9d8ce"/>
<rect x="447.16" y="369.04" width="17.49" height="2.09" fill="#f7b29c"/>
<rect x="447.16" y="371.08" width="17.49" height="4.12" fill="#ea5c42"/>
<rect x="447.16" y="375.15" width="17.49" height="4.12" fill="#fcfafa"/>
<rect x="447.16" y="379.22" width="17.49" height="2.09" fill="#f18b71"/>
<rect x="447.16" y="381.26" width="17.49" height="2.09" fill="#f9d8ce"/>
<rect x="447.16" y="383.30" width="17.49" height="4.12" fill="#ea5c42"/>
<rect x="447.16" y="387.37" width="17.49" height="2.09" fill="#d5cfe6"/>
<rect x="447.16" y="389.40" width="17.49" height="4.12" fill="#f9d8ce"/>
<rect x="447.16" y="393.48" width="17.49" height="2.09" fill="#f7b29c"/>
<rect x="447.16" y="395.51" width="17.49" height="4.12" fill="#f9d8ce"/>
<rect x="447.16" y="399.58" width="17.49" height="2.09" fill="#fcfafa"/>
<rect x="447.16" y="401.62" width="17.49" height="6.16" fill="#4b4fa6"/>
<rect x="447.16" y="407.73" width="17.49" height="2.09" fill="#a197cb"/>
<rect x="447.16" y="409.76" width="17.49" height="2.09" fill="#f9d8ce"/>
<rect x="447.16" y="411.80" width="17.49" height="2.09" fill="#fcfafa"/>
<rect x="447.16" y="413.84" width="17.49" height="2.09" fill="#d5cfe6"/>
<rect x="447.16" y="415.87" width="17.49" height="4.12" fill="#a197cb"/>
<rect x="447.16" y="419.94" width="17.49" height="4.12" fill="#6c68b2"/>
<rect x="447.16" y="424.02" width="17.49" height="4.12" fill="#a197cb"/>
<rect x="447.16" y="428.09" width="17.49" height="4.12" fill="#6c68b2"/>
<rect x="447.16" y="432.16" width="17.49" height="4.12" fill="#4b4fa6"/>
<rect x="447.16" y="436.23" width="17.49" height="14.30" fill="#6c68b2"/>
<rect x="447.16" y="450.48" width="17.49" height="2.09" fill="#a197cb"/>
<rect x="447.16" y="452.52" width="17.49" height="4.12" fill="#d5cfe6"/>
<rect x="447.16" y="456.59" width="17.49" height="4.12" fill="#6c68b2"/>
<rect x="447.16" y="460.66" width="17.49" height="2.09" fill="#a197cb"/>
<rect x="447.16" y="462.70" width="17.49" height="6.16" fill="#6c68b2"/>
<rect x="447.16" y="468.81" width="17.49" height="10.23" fill="#d5cfe6"/>
<rect x="447.16" y="478.99" width="17.49" height="4.12" fill="#fcfafa"/>
<rect x="447.16" y="483.06" width="17.49" height="2.09" fill="#d5cfe6"/>
<rect x="447.16" y="485.10" width="17.49" height="2.09" fill="#4b4fa6"/>
<rect x="447.16" y="487.13" width="17.49" height="6.16" fill="#6c68b2"/>
<rect x="447.16" y="493.24" width="17.49" height="4.12" fill="#fcfafa"/>
<rect x="447.16" y="497.31" width="17.49" height="4.12" fill="#f18b71"/>
<rect x="447.16" y="501.38" width="17.49" height="2.09" fill="#f9d8ce"/>
<rect x="447.16" y="503.42" width="17.49" height="2.09" fill="#fcfafa"/>
<rect x="447.16" y="505.46" width="17.49" height="2.09" fill="#d5cfe6"/>
<rect x="447.16" y="507.49" width="17.49" height="4.12" fill="#fcfafa"/>
<rect x="447.16" y="511.56" width="17.49" height="2.09" fill="#f7b29c"/>
<rect x="447.16" y="513.60" width="17.49" height="8.19" fill="#f9d8ce"/>
<rect x="447.16" y="521.74" width="17.49" height="2.09" fill="#f18b71"/>
<rect x="447.16" y="523.78" width="17.49" height="2.09" fill="#ea5c42"/>
<rect x="447.16" y="525.82" width="17.49" height="14.30" fill="#4b4fa6"/>
<rect x="447.16" y="540.07" width="17.49" height="2.09" fill="#6c68b2"/>
<rect x="447.16" y="542.10" width="17.49" height="6.16" fill="#4b4fa6"/>
<rect x="447.16" y="548.21" width="17.49" height="2.09" fill="#6c68b2"/>
<rect x="447.16" y="550.25" width="17.49" height="2.09" fill="#4b4fa6"/>
<rect x="447.16" y="552.28" width="17.49" height="2.09" fill="#6c68b2"/>
<rect x="447.16" y="554.32" width="17.49" height="2.09" fill="#4b4fa6"/>
<rect x="447.16" y="556.36" width="17.49" height="2.09" fill="#6c68b2"/>
<rect x="447.16" y="558.39" width="17.49" height="4.12" fill="#a197cb"/>
<rect x="447.16" y="562.46" width="17.49" height="2.09" fill="#fcfafa"/>
<rect x="447.16" y="564.50" width="17.49" height="2.09" fill="#d5cfe6"/>
<rect x="447.16" y="566.54" width="17.49" height="2.09" fill="#f9d8ce"/>
<rect x="447.16" y="568.57" width="17.49" height="2.09" fill="#fcfafa"/>
<rect x="447.16" y="570.61" width="17.49" height="2.09" fill="#d5cfe6"/>
<rect x="447.16" y="572.64" width="17.49" height="2.09" fill="#a197cb"/>
<rect x="447.16" y="574.68" width="17.49" height="2.09" fill="#fcfafa"/>
<rect x="447.16" y="576.72" width="17.49" height="4.12" fill="#d5cfe6"/>
<rect x="447.16" y="580.79" width="17.49" height="2.09" fill="#fcfafa"/>
<rect x="447.16" y="582.82" width="17.49" height="2.09" fill="#a197cb"/>
<rect x="447.16" y="584.86" width="17.49" height="2.09" fill="#6c68b2"/>
<rect x="447.16" y="586.90" width="17.49" height="2.09" fill="#a197cb"/>
<rect x="447.16" y="588.93" width="17.49" height="2.09" fill="#f9d8ce"/>
<rect x="447.16" y="590.97" width="17.49" height="4.12" fill="#fcfafa"/>
<rect x="447.16" y="595.04" width="17.49" height="4.12" fill="#f9d8ce"/>
<rect x="447.16" y="599.11" width="17.49" height="4.12" fill="#d5cfe6"/>
<rect x="447.16" y="603.18" width="17.49" height="2.09" fill="#a197cb"/>
<rect x="447.16" y="605.22" width="17.49" height="2.09" fill="#fcfafa"/>
<rect x="447.16" y="607.26" width="17.49" height="2.09" fill="#f18b71"/>
<rect x="447.16" y="609.29" width="17.49" height="2.09" fill="#f7b29c"/>
<rect x="447.16" y="611.33" width="17.49" height="2.09" fill="#f9d8ce"/>
<rect x="447.16" y="613.36" width="17.49" height="2.09" fill="#fcfafa"/>
<rect x="497.90" y="208.20" width="17.46" height="2.09" fill="#f7b29c"/>
<rect x="497.90" y="210.24" width="17.46" height="2.09" fill="#d5cfe6"/>
<rect x="497.90" y="212.27" width="17.46" height="2.09" fill="#f18b71"/>
<rect x="497.90" y="214.31" width="17.46" height="2.09" fill="#ea5c42"/>
<rect x="497.90" y="216.34" width="17.46" height="2.09" fill="#fcfafa"/>
<rect x="497.90" y="218.38" width="17.46" height="2.09" fill="#ea5c42"/>
<rect x="497.90" y="220.42" width="17.46" height="4.12" fill="#f18b71"/>
<rect x="497.90" y="224.49" width="17.46" height="2.09" fill="#f7b29c"/>
<rect x="497.90" y="226.52" width="17.46" height="2.09" fill="#d6201e"/>
<rect x="497.90" y="228.56" width="17.46" height="2.09" fill="#f7b29c"/>
<rect x="497.90" y="230.60" width="17.46" height="4.12" fill="#f18b71"/>
<rect x="497.90" y="234.67" width="17.46" height="2.09" fill="#f7b29c"/>
<rect x="497.90" y="236.70" width="17.46" height="4.12" fill="#f18b71"/>
<rect x="497.90" y="240.78" width="17.46" height="2.09" fill="#f9d8ce"/>
<rect x="497.90" y="242.81" width="17.46" height="2.09" fill="#d5cfe6"/>
<rect x="497.90" y="244.85" width="17.46" height="2.09" fill="#f7b29c"/>
<rect x="497.90" y="246.88" width="17.46" height="2.09" fill="#f9d8ce"/>
<rect x="497.90" y="248.92" width="17.46" height="2.09" fill="#f18b71"/>
<rect x="497.90" y="250.96" width="17.46" height="2.09" fill="#f9d8ce"/>
<rect x="497.90" y="252.99" width="17.46" height="2.09" fill="#ea5c42"/>
<rect x="497.90" y="255.03" width="17.46" height="6.16" fill="#f18b71"/>
<rect x="497.90" y="261.14" width="17.46" height="2.09" fill="#fcfafa"/>
<rect x="497.90" y="263.17" width="17.46" height="2.09" fill="#f18b71"/>
<rect x="497.90" y="265.21" width="17.46" height="2.09" fill="#ea5c42"/>
<rect x="497.90" y="267.24" width="17.46" height="8.19" fill="#f18b71"/>
<rect x="497.90" y="275.39" width="17.46" height="2.09" fill="#ea5c42"/>
<rect x="497.90" y="277.42" width="17.46" height="2.09" fill="#f9d8ce"/>
<rect x="497.90" y="279.46" width="17.46" height="4.12" fill="#d5cfe6"/>
<rect x="497.90" y="283.53" width="17.46" height="2.09" fill="#f7b29c"/>
<rect x="497.90" y="285.57" width="17.46" height="2.09" fill="#d5cfe6"/>
<rect x="497.90" y="287.60" width="17.46" height="2.09" fill="#f7b29c"/>
<rect x="497.90" y="289.64" width="17.46" height="2.09" fill="#f9d8ce"/>
<rect x="497.90" y="291.68" width="17.46" height="2.09" fill="#f7b29c"/>
<rect x="497.90" y="293.71" width="17.46" height="2.09" fill="#f18b71"/>
<rect x="497.90" y="295.75" width="17.46" height="2.09" fill="#d5cfe6"/>
<rect x="497.90" y="297.78" width="17.46" height="4.12" fill="#fcfafa"/>
<rect x="497.90" y="301.86" width="17.46" height="2.09" fill="#f9d8ce"/>
<rect x="497.90" y="303.89" width="17.46" height="2.09" fill="#fcfafa"/>
<rect x="497.90" y="305.93" width="17.46" height="2.09" fill="#f9d8ce"/>
<rect x="497.90" y="307.96" width="17.46" height="2.09" fill="#6c68b2"/>
<rect x="497.90" y="310.00" width="17.46" height="2.09" fill="#fcfafa"/>
<rect x="497.90" y="312.04" width="17.46" height="2.09" fill="#f18b71"/>
<rect x="497.90" y="314.07" width="17.46" height="2.09" fill="#d5cfe6"/>
<rect x="497.90" y="316.11" width="17.46" height="2.09" fill="#fcfafa"/>
<rect x="497.90" y="318.14" width="17.46" height="4.12" fill="#ea5c42"/>
<rect x="497.90" y="322.22" width="17.46" height="2.09" fill="#f9d8ce"/>
<rect x="497.90" y="324.25" width="17.46" height="2.09" fill="#d5cfe6"/>
<rect x="497.90" y="326.29" width="17.46" height="6.16" fill="#6c68b2"/>
<rect x="497.90" y="332.40" width="17.46" height="2.09" fill="#4b4fa6"/>
<rect x="497.90" y="334.43" width="17.46" height="2.09" fill="#a197cb"/>
<rect x="497.90" y="336.47" width="17.46" height="2.09" fill="#d5cfe6"/>
<rect x="497.90" y="338.50" width="17.46" height="2.09" fill="#f9d8ce"/>
<rect x="497.90" y="340.54" width="17.46" height="2.09" fill="#f7b29c"/>
<rect x="497.90" y="342.58" width="17.46" height="2.09" fill="#f9d8ce"/>
<rect x="497.90" y="344.61" width="17.46" height="4.12" fill="#d5cfe6"/>
<rect x="497.90" y="348.68" width="17.46" height="2.09" fill="#f7b29c"/>
<rect x="497.90" y="350.72" width="17.46" height="2.09" fill="#fcfafa"/>
<rect x="497.90" y="352.76" width="17.46" height="2.09" fill="#a197cb"/>
<rect x="497.90" y="354.79" width="17.46" height="2.09" fill="#f9d8ce"/>
<rect x="497.90" y="356.83" width="17.46" height="2.09" fill="#d5cfe6"/>
<rect x="497.90" y="358.86" width="17.46" height="2.09" fill="#f7b29c"/>
<rect x="497.90" y="360.90" width="17.46" height="4.12" fill="#d5cfe6"/>
<rect x="497.90" y="364.97" width="17.46" height="4.12" fill="#fcfafa"/>
<rect x="497.90" y="369.04" width="17.46" height="4.12" fill="#f9d8ce"/>
<rect x="497.90" y="373.12" width="17.46" height="2.09" fill="#fcfafa"/>
<rect x="497.90" y="375.15" width="17.46" height="4.12" fill="#ea5c42"/>
<rect x="497.90" y="379.22" width="17.46" height="4.12" fill="#f9d8ce"/>
<rect x="497.90" y="383.30" width="17.46" height="2.09" fill="#f18b71"/>
<rect x="497.90" y="385.33" width="17.46" height="2.09" fill="#ea5c42"/>
<rect x="497.90" y="387.37" width="17.46" height="2.09" fill="#f7b29c"/>
<rect x="497.90" y="389.40" width="17.46" height="2.09" fill="#f18b71"/>
<rect x="497.90" y="391.44" width="17.46" height="2.09" fill="#ea5c42"/>
<rect x="497.90" y="393.48" width="17.46" height="4.12" fill="#f18b71"/>
<rect x="497.90" y="397.55" width="17.46" height="2.09" fill="#f7b29c"/>
<rect x="497.90" y="399.58" width="17.46" height="2.09" fill="#f18b71"/>
<rect x="497.90" y="401.62" width="17.46" height="2.09" fill="#fcfafa"/>
<rect x="497.90" y="403.66" width="17.46" height="2.09" fill="#a197cb"/>
<rect x="497.90" y="405.69" width="17.46" height="2.09" fill="#f9d8ce"/>
<rect x="497.90" y="407.73" width="17.46" height="2.09" fill="#fcfafa"/>
<rect x="497.90" y="409.76" width="17.46" height="2.09" fill="#6c68b2"/>
<rect x="497.90" y="411.80" width="17.46" height="2.09" fill="#f18b71"/>
<rect x="497.90" y="413.84" width="17.46" height="2.09" fill="#f9d8ce"/>
<rect x="497.90" y="415.87" width="17.46" height="2.09" fill="#f7b29c"/>
<rect x="497.90" y="417.91" width="17.46" height="2.09" fill="#ea5c42"/>
<rect x="497.90" y="419.94" width="17.46" height="2.09" fill="#f9d8ce"/>
<rect x="497.90" y="421.98" width="17.46" height="2.09" fill="#f7b29c"/>
<rect x="497.90" y="424.02" width="17.46" height="2.09" fill="#a197cb"/>
<rect x="497.90" y="426.05" width="17.46" height="4.12" fill="#f18b71"/>
<rect x="497.90" y="430.12" width="17.46" height="2.09" fill="#ea5c42"/>
<rect x="497.90" y="432.16" width="17.46" height="6.16" fill="#f7b29c"/>
<rect x="497.90" y="438.27" width="17.46" height="2.09" fill="#f18b71"/>
<rect x="497.90" y="440.30" width="17.46" height="2.09" fill="#f7b29c"/>
<rect x="497.90" y="442.34" width="17.46" height="2.09" fill="#f18b71"/>
<rect x="497.90" y="444.38" width="17.46" height="2.09" fill="#f7b29c"/>
<rect x="497.90" y="446.41" width="17.46" height="2.09" fill="#fcfafa"/>
<rect x="497.90" y="448.45" width="17.46" height="2.09" fill="#f18b71"/>
<rect x="497.90" y="450.48" width="17.46" height="2.09" fill="#ea5c42"/>
<rect x="497.90" y="452.52" width="17.46" height="2.09" fill="#f18b71"/>
<rect x="497.90" y="454.56" width="17.46" height="2.09" fill="#f7b29c"/>
<rect x="497.90" y="456.59" width="17.46" height="4.12" fill="#f18b71"/>
<rect x="497.90" y="460.66" width="17.46" height="4.12" fill="#ea5c42"/>
<rect x="497.90" y="464.74" width="17.46" height="2.09" fill="#f7b29c"/>
<rect x="497.90" y="466.77" width="17.46" height="2.09" fill="#f18b71"/>
<rect x="497.90" y="468.81" width="17.46" height="2.09" fill="#f7b29c"/>
<rect x="497.90" y="470.84" width="17.46" height="4.12" fill="#f18b71"/>
<rect x="497.90" y="474.92" width="17.46" height="2.09" fill="#f7b29c"/>
<rect x="497.90" y="476.95" width="17.46" height="6.16" fill="#f18b71"/>
<rect x="497.90" y="483.06" width="17.46" height="10.23" fill="#ea5c42"/>
<rect x="497.90" y="493.24" width="17.46" height="2.09" fill="#d6201e"/>
<rect x="497.90" y="495.28" width="17.46" height="2.09" fill="#f18b71"/>
<rect x="497.90" y="497.31" width="17.46" height="2.09" fill="#ea5c42"/>
<rect x="497.90" y="499.35" width="17.46" height="4.12" fill="#f18b71"/>
<rect x="497.90" y="503.42" width="17.46" height="2.09" fill="#ea5c42"/>
<rect x="497.90" y="505.46" width="17.46" height="2.09" fill="#f7b29c"/>
<rect x="497.90" y="507.49" width="17.46" height="2.09" fill="#f9d8ce"/>
<rect x="497.90" y="509.53" width="17.46" height="2.09" fill="#f18b71"/>
<rect x="497.90" y="511.56" width="17.46" height="2.09" fill="#ea5c42"/>
<rect x="497.90" y="513.60" width="17.46" height="2.09" fill="#f18b71"/>
<rect x="497.90" y="515.64" width="17.46" height="2.09" fill="#fcfafa"/>
<rect x="497.90" y="517.67" width="17.46" height="4.12" fill="#f18b71"/>
<rect x="497.90" y="521.74" width="17.46" height="2.09" fill="#ea5c42"/>
<rect x="497.90" y="523.78" width="17.46" height="2.09" fill="#f7b29c"/>
<rect x="497.90" y="525.82" width="17.46" height="6.16" fill="#d6201e"/>
<rect x="497.90" y="531.92" width="17.46" height="2.09" fill="#ea5c42"/>
<rect x="497.90" y="533.96" width="17.46" height="2.09" fill="#fcfafa"/>
<rect x="497.90" y="536.00" width="17.46" height="2.09" fill="#ea5c42"/>
<rect x="497.90" y="538.03" width="17.46" height="8.19" fill="#f18b71"/>
<rect x="497.90" y="546.18" width="17.46" height="2.09" fill="#f7b29c"/>
<rect x="497.90" y="548.21" width="17.46" height="4.12" fill="#f18b71"/>
<rect x="497.90" y="552.28" width="17.46" height="4.12" fill="#ea5c42"/>
<rect x="497.90" y="556.36" width="17.46" height="2.09" fill="#f7b29c"/>
<rect x="497.90" y="558.39" width="17.46" height="4.12" fill="#f18b71"/>
<rect x="497.90" y="562.46" width="17.46" height="2.09" fill="#f9d8ce"/>
<rect x="497.90" y="564.50" width="17.46" height="2.09" fill="#a197cb"/>
<rect x="497.90" y="566.54" width="17.46" height="2.09" fill="#d5cfe6"/>
<rect x="497.90" y="568.57" width="17.46" height="2.09" fill="#f9d8ce"/>
<rect x="497.90" y="570.61" width="17.46" height="2.09" fill="#fcfafa"/>
<rect x="497.90" y="572.64" width="17.46" height="4.12" fill="#f7b29c"/>
<rect x="497.90" y="576.72" width="17.46" height="2.09" fill="#f9d8ce"/>
<rect x="497.90" y="578.75" width="17.46" height="2.09" fill="#a197cb"/>
<rect x="497.90" y="580.79" width="17.46" height="2.09" fill="#f9d8ce"/>
<rect x="497.90" y="582.82" width="17.46" height="2.09" fill="#fcfafa"/>
<rect x="497.90" y="584.86" width="17.46" height="2.09" fill="#ea5c42"/>
<rect x="497.90" y="586.90" width="17.46" height="2.09" fill="#f7b29c"/>
<rect x="497.90" y="588.93" width="17.46" height="2.09" fill="#fcfafa"/>
<rect x="497.90" y="590.97" width="17.46" height="2.09" fill="#f9d8ce"/>
<rect x="497.90" y="593.00" width="17.46" height="4.12" fill="#f18b71"/>
<rect x="497.90" y="597.08" width="17.46" height="2.09" fill="#ea5c42"/>
<rect x="497.90" y="599.11" width="17.46" height="2.09" fill="#a197cb"/>
<rect x="497.90" y="601.15" width="17.46" height="2.09" fill="#ea5c42"/>
<rect x="497.90" y="603.18" width="17.46" height="2.09" fill="#fcfafa"/>
<rect x="497.90" y="605.22" width="17.46" height="4.12" fill="#f18b71"/>
<rect x="497.90" y="609.29" width="17.46" height="4.12" fill="#f9d8ce"/>
<rect x="497.90" y="613.36" width="17.46" height="2.09" fill="#f18b71"/>
<rect x="515.31" y="208.20" width="17.46" height="4.12" fill="#d5cfe6"/>
<rect x="515.31" y="212.27" width="17.46" height="2.09" fill="#fcfafa"/>
<rect x="515.31" y="214.31" width="17.46" height="2.09" fill="#f9d8ce"/>
<rect x="515.31" y="216.34" width="17.46" height="2.09" fill="#6c68b2"/>
<rect x="515.31" y="218.38" width="17.46" height="6.16" fill="#f7b29c"/>
<rect x="515.31" y="224.49" width="17.46" height="2.09" fill="#f18b71"/>
<rect x="515.31" y="226.52" width="17.46" height="4.12" fill="#f9d8ce"/>
<rect x="515.31" y="230.60" width="17.46" height="4.12" fill="#f7b29c"/>
<rect x="515.31" y="234.67" width="17.46" height="2.09" fill="#f9d8ce"/>
<rect x="515.31" y="236.70" width="17.46" height="2.09" fill="#f7b29c"/>
<rect x="515.31" y="238.74" width="17.46" height="2.09" fill="#f18b71"/>
<rect x="515.31" y="240.78" width="17.46" height="2.09" fill="#f7b29c"/>
<rect x="515.31" y="242.81" width="17.46" height="4.12" fill="#d5cfe6"/>
<rect x="515.31" y="246.88" width="17.46" height="4.12" fill="#fcfafa"/>
<rect x="515.31" y="250.96" width="17.46" height="2.09" fill="#6c68b2"/>
<rect x="515.31" y="252.99" width="17.46" height="2.09" fill="#d5cfe6"/>
<rect x="515.31" y="255.03" width="17.46" height="4.12" fill="#b8b8b8"/>
<rect x="515.31" y="259.10" width="17.46" height="2.09" fill="#d5cfe6"/>
<rect x="515.31" y="261.14" width="17.46" height="4.12" fill="#fcfafa"/>
<rect x="515.31" y="265.21" width="17.46" height="2.09" fill="#d5cfe6"/>
<rect x="515.31" y="267.24" width="17.46" height="4.12" fill="#f7b29c"/>
<rect x="515.31" y="271.32" width="17.46" height="4.12" fill="#fcfafa"/>
<rect x="515.31" y="275.39" width="17.46" height="8.19" fill="#f7b29c"/>
<rect x="515.31" y="283.53" width="17.46" height="2.09" fill="#fcfafa"/>
<rect x="515.31" y="285.57" width="17.46" height="2.09" fill="#6c68b2"/>
<rect x="515.31" y="287.60" width="17.46" height="2.09" fill="#a197cb"/>
<rect x="515.31" y="289.64" width="17.46" height="2.09" fill="#d5cfe6"/>
<rect x="515.31" y="291.68" width="17.46" height="2.09" fill="#a197cb"/>
<rect x="515.31" y="293.71" width="17.46" height="4.12" fill="#fcfafa"/>
<rect x="515.31" y="297.78" width="17.46" height="4.12" fill="#a197cb"/>
<rect x="515.31" y="301.86" width="17.46" height="4.12" fill="#d5cfe6"/>
<rect x="515.31" y="305.93" width="17.46" height="2.09" fill="#f9d8ce"/>
<rect x="515.31" y="307.96" width="17.46" height="4.12" fill="#fcfafa"/>
<rect x="515.31" y="312.04" width="17.46" height="2.09" fill="#d5cfe6"/>
<rect x="515.31" y="314.07" width="17.46" height="2.09" fill="#a197cb"/>
<rect x="515.31" y="316.11" width="17.46" height="2.09" fill="#f7b29c"/>
<rect x="515.31" y="318.14" width="17.46" height="2.09" fill="#fcfafa"/>
<rect x="515.31" y="320.18" width="17.46" height="2.09" fill="#d5cfe6"/>
<rect x="515.31" y="322.22" width="17.46" height="2.09" fill="#a197cb"/>
<rect x="515.31" y="324.25" width="17.46" height="2.09" fill="#d5cfe6"/>
<rect x="515.31" y="326.29" width="17.46" height="2.09" fill="#a197cb"/>
<rect x="515.31" y="328.32" width="17.46" height="2.09" fill="#f7b29c"/>
<rect x="515.31" y="330.36" width="17.46" height="2.09" fill="#f9d8ce"/>
<rect x="515.31" y="332.40" width="17.46" height="2.09" fill="#fcfafa"/>
<rect x="515.31" y="334.43" width="17.46" height="10.23" fill="#6c68b2"/>
<rect x="515.31" y="344.61" width="17.46" height="4.12" fill="#fcfafa"/>
<rect x="515.31" y="348.68" width="17.46" height="2.09" fill="#d5cfe6"/>
<rect x="515.31" y="350.72" width="17.46" height="2.09" fill="#f7b29c"/>
<rect x="515.31" y="352.76" width="17.46" height="6.16" fill="#a197cb"/>
<rect x="515.31" y="358.86" width="17.46" height="2.09" fill="#f18b71"/>
<rect x="515.31" y="360.90" width="17.46" height="2.09" fill="#f7b29c"/>
<rect x="515.31" y="362.94" width="17.46" height="2.09" fill="#f18b71"/>
<rect x="515.31" y="364.97" width="17.46" height="2.09" fill="#d5cfe6"/>
<rect x="515.31" y="367.01" width="17.46" height="2.09" fill="#a197cb"/>
<rect x="515.31" y="369.04" width="17.46" height="2.09" fill="#fcfafa"/>
<rect x="515.31" y="371.08" width="17.46" height="2.09" fill="#d5cfe6"/>
<rect x="515.31" y="373.12" width="17.46" height="2.09" fill="#f9d8ce"/>
<rect x="515.31" y="375.15" width="17.46" height="2.09" fill="#d5cfe6"/>
<rect x="515.31" y="377.19" width="17.46" height="2.09" fill="#f9d8ce"/>
<rect x="515.31" y="379.22" width="17.46" height="2.09" fill="#f7b29c"/>
<rect x="515.31" y="381.26" width="17.46" height="6.16" fill="#fcfafa"/>
<rect x="515.31" y="387.37" width="17.46" height="2.09" fill="#f7b29c"/>
<rect x="515.31" y="389.40" width="17.46" height="2.09" fill="#d5cfe6"/>
<rect x="515.31" y="391.44" width="17.46" height="2.09" fill="#fcfafa"/>
<rect x="515.31" y="393.48" width="17.46" height="2.09" fill="#a197cb"/>
<rect x="515.31" y="395.51" width="17.46" height="2.09" fill="#d5cfe6"/>
<rect x="515.31" y="397.55" width="17.46" height="4.12" fill="#f7b29c"/>
<rect x="515.31" y="401.62" width="17.46" height="2.09" fill="#fcfafa"/>
<rect x="515.31" y="403.66" width="17.46" height="2.09" fill="#d5cfe6"/>
<rect x="515.31" y="405.69" width="17.46" height="2.09" fill="#fcfafa"/>
<rect x="515.31" y="407.73" width="17.46" height="2.09" fill="#f18b71"/>
<rect x="515.31" y="409.76" width="17.46" height="2.09" fill="#a197cb"/>
<rect x="515.31" y="411.80" width="17.46" height="4.12" fill="#fcfafa"/>
<rect x="515.31" y="415.87" width="17.46" height="2.09" fill="#f7b29c"/>
<rect x="515.31" y="417.91" width="17.46" height="2.09" fill="#f9d8ce"/>
<rect x="515.31" y="419.94" width="17.46" height="4.12" fill="#f7b29c"/>
<rect x="515.31" y="424.02" width="17.46" height="2.09" fill="#a197cb"/>
<rect x="515.31" y="426.05" width="17.46" height="2.09" fill="#f18b71"/>
<rect x="515.31" y="428.09" width="17.46" height="2.09" fill="#f7b29c"/>
<rect x="515.31" y="430.12" width="17.46" height="2.09" fill="#d5cfe6"/>
<rect x="515.31" y="432.16" width="17.46" height="2.09" fill="#f7b29c"/>
<rect x="515.31" y="434.20" width="17.46" height="2.09" fill="#f9d8ce"/>
<rect x="515.31" y="436.23" width="17.46" height="2.09" fill="#fcfafa"/>
<rect x="515.31" y="438.27" width="17.46" height="2.09" fill="#f9d8ce"/>
<rect x="515.31" y="440.30" width="17.46" height="2.09" fill="#f7b29c"/>
<rect x="515.31" y="442.34" width="17.46" height="2.09" fill="#fcfafa"/>
<rect x="515.31" y="444.38" width="17.46" height="2.09" fill="#f9d8ce"/>
<rect x="515.31" y="446.41" width="17.46" height="4.12" fill="#f7b29c"/>
<rect x="515.31" y="450.48" width="17.46" height="2.09" fill="#f9d8ce"/>
<rect x="515.31" y="452.52" width="17.46" height="2.09" fill="#f7b29c"/>
<rect x="515.31" y="454.56" width="17.46" height="2.09" fill="#ea5c42"/>
<rect x="515.31" y="456.59" width="17.46" height="4.12" fill="#f9d8ce"/>
<rect x="515.31" y="460.66" width="17.46" height="2.09" fill="#fcfafa"/>
<rect x="515.31" y="462.70" width="17.46" height="2.09" fill="#f18b71"/>
<rect x="515.31" y="464.74" width="17.46" height="2.09" fill="#f9d8ce"/>
<rect x="515.31" y="466.77" width="17.46" height="2.09" fill="#f7b29c"/>
<rect x="515.31" y="468.81" width="17.46" height="4.12" fill="#f9d8ce"/>
<rect x="515.31" y="472.88" width="17.46" height="2.09" fill="#f7b29c"/>
<rect x="515.31" y="474.92" width="17.46" height="2.09" fill="#d6201e"/>
<rect x="515.31" y="476.95" width="17.46" height="2.09" fill="#f18b71"/>
<rect x="515.31" y="478.99" width="17.46" height="2.09" fill="#f7b29c"/>
<rect x="515.31" y="481.02" width="17.46" height="2.09" fill="#d5cfe6"/>
<rect x="515.31" y="483.06" width="17.46" height="2.09" fill="#f9d8ce"/>
<rect x="515.31" y="485.10" width="17.46" height="2.09" fill="#f7b29c"/>
<rect x="515.31" y="487.13" width="17.46" height="2.09" fill="#f18b71"/>
<rect x="515.31" y="489.17" width="17.46" height="2.09" fill="#fcfafa"/>
<rect x="515.31" y="491.20" width="17.46" height="2.09" fill="#d5cfe6"/>
<rect x="515.31" y="493.24" width="17.46" height="2.09" fill="#f9d8ce"/>
<rect x="515.31" y="495.28" width="17.46" height="2.09" fill="#fcfafa"/>
<rect x="515.31" y="497.31" width="17.46" height="2.09" fill="#f7b29c"/>
<rect x="515.31" y="499.35" width="17.46" height="2.09" fill="#f9d8ce"/>
<rect x="515.31" y="501.38" width="17.46" height="8.19" fill="#f7b29c"/>
<rect x="515.31" y="509.53" width="17.46" height="4.12" fill="#f9d8ce"/>
<rect x="515.31" y="513.60" width="17.46" height="2.09" fill="#f7b29c"/>
<rect x="515.31" y="515.64" width="17.46" height="2.09" fill="#fcfafa"/>
<rect x="515.31" y="517.67" width="17.46" height="4.12" fill="#f7b29c"/>
<rect x="515.31" y="521.74" width="17.46" height="2.09" fill="#fcfafa"/>
<rect x="515.31" y="523.78" width="17.46" height="2.09" fill="#f18b71"/>
<rect x="515.31" y="525.82" width="17.46" height="4.12" fill="#f7b29c"/>
<rect x="515.31" y="529.89" width="17.46" height="2.09" fill="#fcfafa"/>
<rect x="515.31" y="531.92" width="17.46" height="2.09" fill="#d5cfe6"/>
<rect x="515.31" y="533.96" width="17.46" height="2.09" fill="#f7b29c"/>
<rect x="515.31" y="536.00" width="17.46" height="4.12" fill="#fcfafa"/>
<rect x="515.31" y="540.07" width="17.46" height="6.16" fill="#f9d8ce"/>
<rect x="515.31" y="546.18" width="17.46" height="2.09" fill="#d5cfe6"/>
<rect x="515.31" y="548.21" width="17.46" height="2.09" fill="#f9d8ce"/>
<rect x="515.31" y="550.25" width="17.46" height="2.09" fill="#fcfafa"/>
<rect x="515.31" y="552.28" width="17.46" height="4.12" fill="#d5cfe6"/>
<rect x="515.31" y="556.36" width="17.46" height="2.09" fill="#f7b29c"/>
<rect x="515.31" y="558.39" width="17.46" height="4.12" fill="#f9d8ce"/>
<rect x="515.31" y="562.46" width="17.46" height="2.09" fill="#f7b29c"/>
<rect x="515.31" y="564.50" width="17.46" height="2.09" fill="#f18b71"/>
<rect x="515.31" y="566.54" width="17.46" height="2.09" fill="#d5cfe6"/>
<rect x="515.31" y="568.57" width="17.46" height="2.09" fill="#f9d8ce"/>
<rect x="515.31" y="570.61" width="17.46" height="4.12" fill="#ea5c42"/>
<rect x="515.31" y="574.68" width="17.46" height="2.09" fill="#f7b29c"/>
<rect x="515.31" y="576.72" width="17.46" height="2.09" fill="#f9d8ce"/>
<rect x="515.31" y="578.75" width="17.46" height="2.09" fill="#a197cb"/>
<rect x="515.31" y="580.79" width="17.46" height="2.09" fill="#d5cfe6"/>
<rect x="515.31" y="582.82" width="17.46" height="4.12" fill="#f9d8ce"/>
<rect x="515.31" y="586.90" width="17.46" height="2.09" fill="#f7b29c"/>
<rect x="515.31" y="588.93" width="17.46" height="6.16" fill="#f9d8ce"/>
<rect x="515.31" y="595.04" width="17.46" height="8.19" fill="#d5cfe6"/>
<rect x="515.31" y="603.18" width="17.46" height="2.09" fill="#fcfafa"/>
<rect x="515.31" y="605.22" width="17.46" height="2.09" fill="#f9d8ce"/>
<rect x="515.31" y="607.26" width="17.46" height="4.12" fill="#a197cb"/>
<rect x="515.31" y="611.33" width="17.46" height="2.09" fill="#f9d8ce"/>
<rect x="515.31" y="613.36" width="17.46" height="2.09" fill="#f7b29c"/>
<rect x="532.72" y="208.20" width="17.46" height="2.09" fill="#f7b29c"/>
<rect x="532.72" y="210.24" width="17.46" height="4.12" fill="#f18b71"/>
<rect x="532.72" y="214.31" width="17.46" height="2.09" fill="#f7b29c"/>
<rect x="532.72" y="216.34" width="17.46" height="4.12" fill="#f9d8ce"/>
<rect x="532.72" y="220.42" width="17.46" height="2.09" fill="#fcfafa"/>
<rect x="532.72" y="222.45" width="17.46" height="4.12" fill="#f9d8ce"/>
<rect x="532.72" y="226.52" width="17.46" height="4.12" fill="#f7b29c"/>
<rect x="532.72" y="230.60" width="17.46" height="2.09" fill="#f9d8ce"/>
<rect x="532.72" y="232.63" width="17.46" height="2.09" fill="#f18b71"/>
<rect x="532.72" y="234.67" width="17.46" height="6.16" fill="#f7b29c"/>
<rect x="532.72" y="240.78" width="17.46" height="2.09" fill="#f18b71"/>
<rect x="532.72" y="242.81" width="17.46" height="2.09" fill="#fcfafa"/>
<rect x="532.72" y="244.85" width="17.46" height="2.09" fill="#f9d8ce"/>
<rect x="532.72" y="246.88" width="17.46" height="2.09" fill="#f18b71"/>
<rect x="532.72" y="248.92" width="17.46" height="2.09" fill="#f7b29c"/>
<rect x="532.72" y="250.96" width="17.46" height="2.09" fill="#f9d8ce"/>
<rect x="532.72" y="252.99" width="17.46" height="2.09" fill="#d5cfe6"/>
<rect x="532.72" y="255.03" width="17.46" height="2.09" fill="#fcfafa"/>
<rect x="532.72" y="257.06" width="17.46" height="4.12" fill="#f9d8ce"/>
<rect x="532.72" y="261.14" width="17.46" height="2.09" fill="#d5cfe6"/>
<rect x="532.72" y="263.17" width="17.46" height="2.09" fill="#b8b8b8"/>
<rect x="532.72" y="265.21" width="17.46" height="6.16" fill="#d5cfe6"/>
<rect x="532.72" y="271.32" width="17.46" height="6.16" fill="#f7b29c"/>
<rect x="532.72" y="277.42" width="17.46" height="2.09" fill="#f18b71"/>
<rect x="532.72" y="279.46" width="17.46" height="2.09" fill="#ea5c42"/>
<rect x="532.72" y="281.50" width="17.46" height="2.09" fill="#fcfafa"/>
<rect x="532.72" y="283.53" width="17.46" height="2.09" fill="#d5cfe6"/>
<rect x="532.72" y="285.57" width="17.46" height="2.09" fill="#fcfafa"/>
<rect x="532.72" y="287.60" width="17.46" height="2.09" fill="#6c68b2"/>
<rect x="532.72" y="289.64" width="17.46" height="2.09" fill="#f9d8ce"/>
<rect x="532.72" y="291.68" width="17.46" height="2.09" fill="#f7b29c"/>
<rect x="532.72" y="293.71" width="17.46" height="2.09" fill="#f9d8ce"/>
<rect x="532.72" y="295.75" width="17.46" height="2.09" fill="#d5cfe6"/>
<rect x="532.72" y="297.78" width="17.46" height="4.12" fill="#fcfafa"/>
<rect x="532.72" y="301.86" width="17.46" height="2.09" fill="#ea5c42"/>
<rect x="532.72" y="303.89" width="17.46" height="2.09" fill="#f18b71"/>
<rect x="532.72" y="305.93" width="17.46" height="2.09" fill="#f7b29c"/>
<rect x="532.72" y="307.96" width="17.46" height="2.09" fill="#fcfafa"/>
<rect x="532.72" y="310.00" width="17.46" height="2.09" fill="#f9d8ce"/>
<rect x="532.72" y="312.04" width="17.46" height="2.09" fill="#6c68b2"/>
<rect x="532.72" y="314.07" width="17.46" height="2.09" fill="#a197cb"/>
<rect x="532.72" y="316.11" width="17.46" height="2.09" fill="#f9d8ce"/>
<rect x="532.72" y="318.14" width="17.46" height="2.09" fill="#d5cfe6"/>
<rect x="532.72" y="320.18" width="17.46" height="4.12" fill="#6c68b2"/>
<rect x="532.72" y="324.25" width="17.46" height="6.16" fill="#fcfafa"/>
<rect x="532.72" y="330.36" width="17.46" height="2.09" fill="#a197cb"/>
<rect x="532.72" y="332.40" width="17.46" height="2.09" fill="#f9d8ce"/>
<rect x="532.72" y="334.43" width="17.46" height="2.09" fill="#f7b29c"/>
<rect x="532.72" y="336.47" width="17.46" height="2.09" fill="#6c68b2"/>
<rect x="532.72" y="338.50" width="17.46" height="2.09" fill="#fcfafa"/>
<rect x="532.72" y="340.54" width="17.46" height="2.09" fill="#d5cfe6"/>
<rect x="532.72" y="342.58" width="17.46" height="2.09" fill="#b8b8b8"/>
<rect x="532.72" y="344.61" width="17.46" height="4.12" fill="#6c68b2"/>
<rect x="532.72" y="348.68" width="17.46" height="4.12" fill="#fcfafa"/>
<rect x="532.72" y="352.76" width="17.46" height="2.09" fill="#4b4fa6"/>
<rect x="532.72" y="354.79" width="17.46" height="4.12" fill="#a197cb"/>
<rect x="532.72" y="358.86" width="17.46" height="2.09" fill="#f9d8ce"/>
<rect x="532.72" y="360.90" width="17.46" height="2.09" fill="#f7b29c"/>
<rect x="532.72" y="362.94" width="17.46" height="2.09" fill="#d5cfe6"/>
<rect x="532.72" y="364.97" width="17.46" height="2.09" fill="#a197cb"/>
<rect x="532.72" y="367.01" width="17.46" height="2.09" fill="#f7b29c"/>
<rect x="532.72" y="369.04" width="17.46" height="2.09" fill="#f9d8ce"/>
<rect x="532.72" y="371.08" width="17.46" height="2.09" fill="#f7b29c"/>
<rect x="532.72" y="373.12" width="17.46" height="2.09" fill="#f9d8ce"/>
<rect x="532.72" y="375.15" width="17.46" height="4.12" fill="#f7b29c"/>
<rect x="532.72" y="379.22" width="17.46" height="2.09" fill="#f9d8ce"/>
<rect x="532.72" y="381.26" width="17.46" height="2.09" fill="#f18b71"/>
<rect x="532.72" y="383.30" width="17.46" height="2.09" fill="#f7b29c"/>
<rect x="532.72" y="385.33" width="17.46" height="2.09" fill="#f18b71"/>
<rect x="532.72" y="387.37" width="17.46" height="2.09" fill="#f9d8ce"/>
<rect x="532.72" y="389.40" width="17.46" height="2.09" fill="#f7b29c"/>
<rect x="532.72" y="391.44" width="17.46" height="2.09" fill="#fcfafa"/>
<rect x="532.72" y="393.48" width="17.46" height="2.09" fill="#d5cfe6"/>
<rect x="532.72" y="395.51" width="17.46" height="4.12" fill="#f18b71"/>
<rect x="532.72" y="399.58" width="17.46" height="2.09" fill="#f7b29c"/>
<rect x="532.72" y="401.62" width="17.46" height="2.09" fill="#ea5c42"/>
<rect x="532.72" y="403.66" width="17.46" height="4.12" fill="#6c68b2"/>
<rect x="532.72" y="407.73" width="17.46" height="4.12" fill="#f9d8ce"/>
<rect x="532.72" y="411.80" width="17.46" height="2.09" fill="#f7b29c"/>
<rect x="532.72" y="413.84" width="17.46" height="2.09" fill="#fcfafa"/>
<rect x="532.72" y="415.87" width="17.46" height="2.09" fill="#f9d8ce"/>
<rect x="532.72" y="417.91" width="17.46" height="4.12" fill="#f7b29c"/>
<rect x="532.72" y="421.98" width="17.46" height="2.09" fill="#f9d8ce"/>
<rect x="532.72" y="424.02" width="17.46" height="2.09" fill="#fcfafa"/>
<rect x="532.72" y="426.05" width="17.46" height="2.09" fill="#f7b29c"/>
<rect x="532.72" y="428.09" width="17.46" height="2.09" fill="#f9d8ce"/>
<rect x="532.72" y="430.12" width="17.46" height="2.09" fill="#fcfafa"/>
<rect x="532.72" y="432.16" width="17.46" height="4.12" fill="#f7b29c"/>
<rect x="532.72" y="436.23" width="17.46" height="2.09" fill="#f9d8ce"/>
<rect x="532.72" y="438.27" width="17.46" height="2.09" fill="#f18b71"/>
<rect x="532.72" y="440.30" width="17.46" height="2.09" fill="#f7b29c"/>
<rect x="532.72" y="442.34" width="17.46" height="2.09" fill="#f18b71"/>
<rect x="532.72" y="444.38" width="17.46" height="2.09" fill="#f9d8ce"/>
<rect x="532.72" y="446.41" width="17.46" height="2.09" fill="#fcfafa"/>
<rect x="532.72" y="448.45" width="17.46" height="2.09" fill="#f9d8ce"/>
<rect x="532.72" y="450.48" width="17.46" height="2.09" fill="#f7b29c"/>
<rect x="532.72" y="452.52" width="17.46" height="4.12" fill="#f9d8ce"/>
<rect x="532.72" y="456.59" width="17.46" height="2.09" fill="#f18b71"/>
<rect x="532.72" y="458.63" width="17.46" height="2.09" fill="#f9d8ce"/>
<rect x="532.72" y="460.66" width="17.46" height="2.09" fill="#d5cfe6"/>
<rect x="532.72" y="462.70" width="17.46" height="4.12" fill="#f9d8ce"/>
<rect x="532.72" y="466.77" width="17.46" height="2.09" fill="#f7b29c"/>
<rect x="532.72" y="468.81" width="17.46" height="2.09" fill="#f9d8ce"/>
<rect x="532.72" y="470.84" width="17.46" height="4.12" fill="#fcfafa"/>
<rect x="532.72" y="474.92" width="17.46" height="2.09" fill="#f9d8ce"/>
<rect x="532.72" y="476.95" width="17.46" height="2.09" fill="#f7b29c"/>
<rect x="532.72" y="478.99" width="17.46" height="2.09" fill="#a197cb"/>
<rect x="532.72" y="481.02" width="17.46" height="2.09" fill="#f9d8ce"/>
<rect x="532.72" y="483.06" width="17.46" height="2.09" fill="#f7b29c"/>
<rect x="532.72" y="485.10" width="17.46" height="8.19" fill="#f9d8ce"/>
<rect x="532.72" y="493.24" width="17.46" height="2.09" fill="#f7b29c"/>
<rect x="532.72" y="495.28" width="17.46" height="2.09" fill="#6c68b2"/>
<rect x="532.72" y="497.31" width="17.46" height="2.09" fill="#f9d8ce"/>
<rect x="532.72" y="499.35" width="17.46" height="2.09" fill="#f18b71"/>
<rect x="532.72" y="501.38" width="17.46" height="6.16" fill="#f7b29c"/>
<rect x="532.72" y="507.49" width="17.46" height="2.09" fill="#fcfafa"/>
<rect x="532.72" y="509.53" width="17.46" height="2.09" fill="#f7b29c"/>
<rect x="532.72" y="511.56" width="17.46" height="2.09" fill="#f18b71"/>
<rect x="532.72" y="513.60" width="17.46" height="2.09" fill="#f7b29c"/>
<rect x="532.72" y="515.64" width="17.46" height="2.09" fill="#d5cfe6"/>
<rect x="532.72" y="517.67" width="17.46" height="4.12" fill="#fcfafa"/>
<rect x="532.72" y="521.74" width="17.46" height="2.09" fill="#d5cfe6"/>
<rect x="532.72" y="523.78" width="17.46" height="4.12" fill="#f9d8ce"/>
<rect x="532.72" y="527.85" width="17.46" height="2.09" fill="#d5cfe6"/>
<rect x="532.72" y="529.89" width="17.46" height="2.09" fill="#fcfafa"/>
<rect x="532.72" y="531.92" width="17.46" height="6.16" fill="#f9d8ce"/>
<rect x="532.72" y="538.03" width="17.46" height="2.09" fill="#f18b71"/>
<rect x="532.72" y="540.07" width="17.46" height="2.09" fill="#f9d8ce"/>
<rect x="532.72" y="542.10" width="17.46" height="4.12" fill="#f7b29c"/>
<rect x="532.72" y="546.18" width="17.46" height="2.09" fill="#ea5c42"/>
<rect x="532.72" y="548.21" width="17.46" height="4.12" fill="#f9d8ce"/>
<rect x="532.72" y="552.28" width="17.46" height="2.09" fill="#f7b29c"/>
<rect x="532.72" y="554.32" width="17.46" height="2.09" fill="#f9d8ce"/>
<rect x="532.72" y="556.36" width="17.46" height="2.09" fill="#d5cfe6"/>
<rect x="532.72" y="558.39" width="17.46" height="6.16" fill="#f9d8ce"/>
<rect x="532.72" y="564.50" width="17.46" height="2.09" fill="#f7b29c"/>
<rect x="532.72" y="566.54" width="17.46" height="2.09" fill="#a197cb"/>
<rect x="532.72" y="568.57" width="17.46" height="2.09" fill="#d5cfe6"/>
<rect x="532.72" y="570.61" width="17.46" height="6.16" fill="#f9d8ce"/>
<rect x="532.72" y="576.72" width="17.46" height="2.09" fill="#fcfafa"/>
<rect x="532.72" y="578.75" width="17.46" height="2.09" fill="#6c68b2"/>
<rect x="532.72" y="580.79" width="17.46" height="4.12" fill="#f18b71"/>
<rect x="532.72" y="584.86" width="17.46" height="2.09" fill="#f9d8ce"/>
<rect x="532.72" y="586.90" width="17.46" height="2.09" fill="#f7b29c"/>
<rect x="532.72" y="588.93" width="17.46" height="4.12" fill="#fcfafa"/>
<rect x="532.72" y="593.00" width="17.46" height="2.09" fill="#d5cfe6"/>
<rect x="532.72" y="595.04" width="17.46" height="2.09" fill="#fcfafa"/>
<rect x="532.72" y="597.08" width="17.46" height="2.09" fill="#d5cfe6"/>
<rect x="532.72" y="599.11" width="17.46" height="2.09" fill="#f7b29c"/>
<rect x="532.72" y="601.15" width="17.46" height="2.09" fill="#d5cfe6"/>
<rect x="532.72" y="603.18" width="17.46" height="2.09" fill="#f9d8ce"/>
<rect x="532.72" y="605.22" width="17.46" height="2.09" fill="#d5cfe6"/>
<rect x="532.72" y="607.26" width="17.46" height="4.12" fill="#fcfafa"/>
<rect x="532.72" y="611.33" width="17.46" height="2.09" fill="#f9d8ce"/>
<rect x="532.72" y="613.36" width="17.46" height="2.09" fill="#f7b29c"/>
<rect x="550.13" y="208.20" width="17.46" height="2.09" fill="#f9d8ce"/>
<rect x="550.13" y="210.24" width="17.46" height="2.09" fill="#fcfafa"/>
<rect x="550.13" y="212.27" width="17.46" height="4.12" fill="#d5cfe6"/>
<rect x="550.13" y="216.34" width="17.46" height="2.09" fill="#6c68b2"/>
<rect x="550.13" y="218.38" width="17.46" height="2.09" fill="#f9d8ce"/>
<rect x="550.13" y="220.42" width="17.46" height="2.09" fill="#f7b29c"/>
<rect x="550.13" y="222.45" width="17.46" height="4.12" fill="#f9d8ce"/>
<rect x="550.13" y="226.52" width="17.46" height="2.09" fill="#d5cfe6"/>
<rect x="550.13" y="228.56" width="17.46" height="2.09" fill="#f9d8ce"/>
<rect x="550.13" y="230.60" width="17.46" height="4.12" fill="#f7b29c"/>
<rect x="550.13" y="234.67" width="17.46" height="2.09" fill="#fcfafa"/>
<rect x="550.13" y="236.70" width="17.46" height="2.09" fill="#f9d8ce"/>
<rect x="550.13" y="238.74" width="17.46" height="2.09" fill="#fcfafa"/>
<rect x="550.13" y="240.78" width="17.46" height="2.09" fill="#d6201e"/>
<rect x="550.13" y="242.81" width="17.46" height="2.09" fill="#ea5c42"/>
<rect x="550.13" y="244.85" width="17.46" height="2.09" fill="#f18b71"/>
<rect x="550.13" y="246.88" width="17.46" height="2.09" fill="#f9d8ce"/>
<rect x="550.13" y="248.92" width="17.46" height="2.09" fill="#f7b29c"/>
<rect x="550.13" y="250.96" width="17.46" height="2.09" fill="#f18b71"/>
<rect x="550.13" y="252.99" width="17.46" height="2.09" fill="#ea5c42"/>
<rect x="550.13" y="255.03" width="17.46" height="2.09" fill="#f7b29c"/>
<rect x="550.13" y="257.06" width="17.46" height="4.12" fill="#f9d8ce"/>
<rect x="550.13" y="261.14" width="17.46" height="2.09" fill="#d5cfe6"/>
<rect x="550.13" y="263.17" width="17.46" height="4.12" fill="#f7b29c"/>
<rect x="550.13" y="267.24" width="17.46" height="4.12" fill="#f18b71"/>
<rect x="550.13" y="271.32" width="17.46" height="2.09" fill="#f7b29c"/>
<rect x="550.13" y="273.35" width="17.46" height="4.12" fill="#f9d8ce"/>
<rect x="550.13" y="277.42" width="17.46" height="2.09" fill="#a197cb"/>
<rect x="550.13" y="279.46" width="17.46" height="2.09" fill="#f7b29c"/>
<rect x="550.13" y="281.50" width="17.46" height="2.09" fill="#ea5c42"/>
<rect x="550.13" y="283.53" width="17.46" height="2.09" fill="#fcfafa"/>
<rect x="550.13" y="285.57" width="17.46" height="2.09" fill="#ea5c42"/>
<rect x="550.13" y="287.60" width="17.46" height="2.09" fill="#f18b71"/>
<rect x="550.13" y="289.64" width="17.46" height="2.09" fill="#fcfafa"/>
<rect x="550.13" y="291.68" width="17.46" height="2.09" fill="#ea5c42"/>
<rect x="550.13" y="293.71" width="17.46" height="6.16" fill="#f18b71"/>
<rect x="550.13" y="299.82" width="17.46" height="2.09" fill="#f9d8ce"/>
<rect x="550.13" y="301.86" width="17.46" height="2.09" fill="#f7b29c"/>
<rect x="550.13" y="303.89" width="17.46" height="2.09" fill="#ea5c42"/>
<rect x="550.13" y="305.93" width="17.46" height="2.09" fill="#fcfafa"/>
<rect x="550.13" y="307.96" width="17.46" height="2.09" fill="#f7b29c"/>
<rect x="550.13" y="310.00" width="17.46" height="6.16" fill="#f18b71"/>
<rect x="550.13" y="316.11" width="17.46" height="2.09" fill="#ea5c42"/>
<rect x="550.13" y="318.14" width="17.46" height="2.09" fill="#f18b71"/>
<rect x="550.13" y="320.18" width="17.46" height="2.09" fill="#f9d8ce"/>
<rect x="550.13" y="322.22" width="17.46" height="2.09" fill="#f7b29c"/>
<rect x="550.13" y="324.25" width="17.46" height="2.09" fill="#f9d8ce"/>
<rect x="550.13" y="326.29" width="17.46" height="2.09" fill="#fcfafa"/>
<rect x="550.13" y="328.32" width="17.46" height="4.12" fill="#f7b29c"/>
<rect x="550.13" y="332.40" width="17.46" height="4.12" fill="#f9d8ce"/>
<rect x="550.13" y="336.47" width="17.46" height="2.09" fill="#f7b29c"/>
<rect x="550.13" y="338.50" width="17.46" height="2.09" fill="#f9d8ce"/>
<rect x="550.13" y="340.54" width="17.46" height="2.09" fill="#a197cb"/>
<rect x="550.13" y="342.58" width="17.46" height="2.09" fill="#f9d8ce"/>
<rect x="550.13" y="344.61" width="17.46" height="10.23" fill="#f7b29c"/>
<rect x="550.13" y="354.79" width="17.46" height="4.12" fill="#a197cb"/>
<rect x="550.13" y="358.86" width="17.46" height="6.16" fill="#fcfafa"/>
<rect x="550.13" y="364.97" width="17.46" height="2.09" fill="#6c68b2"/>
<rect x="550.13" y="367.01" width="17.46" height="6.16" fill="#4b4fa6"/>
<rect x="550.13" y="373.12" width="17.46" height="2.09" fill="#a197cb"/>
<rect x="550.13" y="375.15" width="17.46" height="2.09" fill="#d5cfe6"/>
<rect x="550.13" y="377.19" width="17.46" height="2.09" fill="#a197cb"/>
<rect x="550.13" y="379.22" width="17.46" height="2.09" fill="#6c68b2"/>
<rect x="550.13" y="381.26" width="17.46" height="2.09" fill="#fcfafa"/>
<rect x="550.13" y="383.30" width="17.46" height="2.09" fill="#d5cfe6"/>
<rect x="550.13" y="385.33" width="17.46" height="2.09" fill="#fcfafa"/>
<rect x="550.13" y="387.37" width="17.46" height="4.12" fill="#b8b8b8"/>
<rect x="550.13" y="391.44" width="17.46" height="2.09" fill="#f9d8ce"/>
<rect x="550.13" y="393.48" width="17.46" height="2.09" fill="#f7b29c"/>
<rect x="550.13" y="395.51" width="17.46" height="2.09" fill="#f9d8ce"/>
<rect x="550.13" y="397.55" width="17.46" height="2.09" fill="#a197cb"/>
<rect x="550.13" y="399.58" width="17.46" height="2.09" fill="#f9d8ce"/>
<rect x="550.13" y="401.62" width="17.46" height="2.09" fill="#f7b29c"/>
<rect x="550.13" y="403.66" width="17.46" height="2.09" fill="#fcfafa"/>
<rect x="550.13" y="405.69" width="17.46" height="2.09" fill="#d5cfe6"/>
<rect x="550.13" y="407.73" width="17.46" height="2.09" fill="#ea5c42"/>
<rect x="550.13" y="409.76" width="17.46" height="2.09" fill="#fcfafa"/>
<rect x="550.13" y="411.80" width="17.46" height="2.09" fill="#f9d8ce"/>
<rect x="550.13" y="413.84" width="17.46" height="2.09" fill="#ea5c42"/>
<rect x="550.13" y="415.87" width="17.46" height="2.09" fill="#f18b71"/>
<rect x="550.13" y="417.91" width="17.46" height="2.09" fill="#fcfafa"/>
<rect x="550.13" y="419.94" width="17.46" height="2.09" fill="#f9d8ce"/>
<rect x="550.13" y="421.98" width="17.46" height="6.16" fill="#fcfafa"/>
<rect x="550.13" y="428.09" width="17.46" height="2.09" fill="#f9d8ce"/>
<rect x="550.13" y="430.12" width="17.46" height="2.09" fill="#f7b29c"/>
<rect x="550.13" y="432.16" width="17.46" height="2.09" fill="#fcfafa"/>
<rect x="550.13" y="434.20" width="17.46" height="12.27" fill="#f9d8ce"/>
<rect x="550.13" y="446.41" width="17.46" height="2.09" fill="#f7b29c"/>
<rect x="550.13" y="448.45" width="17.46" height="2.09" fill="#fcfafa"/>
<rect x="550.13" y="450.48" width="17.46" height="2.09" fill="#f9d8ce"/>
<rect x="550.13" y="452.52" width="17.46" height="4.12" fill="#fcfafa"/>
<rect x="550.13" y="456.59" width="17.46" height="4.12" fill="#d5cfe6"/>
<rect x="550.13" y="460.66" width="17.46" height="2.09" fill="#a197cb"/>
<rect x="550.13" y="462.70" width="17.46" height="2.09" fill="#d5cfe6"/>
<rect x="550.13" y="464.74" width="17.46" height="4.12" fill="#fcfafa"/>
<rect x="550.13" y="468.81" width="17.46" height="2.09" fill="#f9d8ce"/>
<rect x="550.13" y="470.84" width="17.46" height="2.09" fill="#d5cfe6"/>
<rect x="550.13" y="472.88" width="17.46" height="6.16" fill="#f9d8ce"/>
<rect x="550.13" y="478.99" width="17.46" height="2.09" fill="#f7b29c"/>
<rect x="550.13" y="481.02" width="17.46" height="2.09" fill="#f9d8ce"/>
<rect x="550.13" y="483.06" width="17.46" height="2.09" fill="#d5cfe6"/>
<rect x="550.13" y="485.10" width="17.46" height="10.23" fill="#f9d8ce"/>
<rect x="550.13" y="495.28" width="17.46" height="2.09" fill="#ea5c42"/>
<rect x="550.13" y="497.31" width="17.46" height="2.09" fill="#f9d8ce"/>
<rect x="550.13" y="499.35" width="17.46" height="4.12" fill="#d5cfe6"/>
<rect x="550.13" y="503.42" width="17.46" height="4.12" fill="#fcfafa"/>
<rect x="550.13" y="507.49" width="17.46" height="2.09" fill="#f18b71"/>
<rect x="550.13" y="509.53" width="17.46" height="6.16" fill="#fcfafa"/>
<rect x="550.13" y="515.64" width="17.46" height="2.09" fill="#f7b29c"/>
<rect x="550.13" y="517.67" width="17.46" height="4.12" fill="#f9d8ce"/>
<rect x="550.13" y="521.74" width="17.46" height="2.09" fill="#6c68b2"/>
<rect x="550.13" y="523.78" width="17.46" height="4.12" fill="#d5cfe6"/>
<rect x="550.13" y="527.85" width="17.46" height="4.12" fill="#f9d8ce"/>
<rect x="550.13" y="531.92" width="17.46" height="2.09" fill="#f18b71"/>
<rect x="550.13" y="533.96" width="17.46" height="2.09" fill="#f7b29c"/>
<rect x="550.13" y="536.00" width="17.46" height="2.09" fill="#fcfafa"/>
<rect x="550.13" y="538.03" width="17.46" height="2.09" fill="#f9d8ce"/>
<rect x="550.13" y="540.07" width="17.46" height="4.12" fill="#f18b71"/>
<rect x="550.13" y="544.14" width="17.46" height="2.09" fill="#f9d8ce"/>
<rect x="550.13" y="546.18" width="17.46" height="2.09" fill="#fcfafa"/>
<rect x="550.13" y="548.21" width="17.46" height="2.09" fill="#f9d8ce"/>
<rect x="550.13" y="550.25" width="17.46" height="2.09" fill="#a197cb"/>
<rect x="550.13" y="552.28" width="17.46" height="6.16" fill="#f9d8ce"/>
<rect x="550.13" y="558.39" width="17.46" height="2.09" fill="#f7b29c"/>
<rect x="550.13" y="560.43" width="17.46" height="6.16" fill="#f18b71"/>
<rect x="550.13" y="566.54" width="17.46" height="4.12" fill="#ea5c42"/>
<rect x="550.13" y="570.61" width="17.46" height="8.19" fill="#f9d8ce"/>
<rect x="550.13" y="578.75" width="17.46" height="4.12" fill="#fcfafa"/>
<rect x="550.13" y="582.82" width="17.46" height="2.09" fill="#d5cfe6"/>
<rect x="550.13" y="584.86" width="17.46" height="2.09" fill="#f9d8ce"/>
<rect x="550.13" y="586.90" width="17.46" height="2.09" fill="#d5cfe6"/>
<rect x="550.13" y="588.93" width="17.46" height="6.16" fill="#f9d8ce"/>
<rect x="550.13" y="595.04" width="17.46" height="2.09" fill="#f7b29c"/>
<rect x="550.13" y="597.08" width="17.46" height="2.09" fill="#f18b71"/>
<rect x="550.13" y="599.11" width="17.46" height="2.09" fill="#f7b29c"/>
<rect x="550.13" y="601.15" width="17.46" height="4.12" fill="#f9d8ce"/>
<rect x="550.13" y="605.22" width="17.46" height="4.12" fill="#d5cfe6"/>
<rect x="550.13" y="609.29" width="17.46" height="4.12" fill="#f18b71"/>
<rect x="550.13" y="613.36" width="17.46" height="2.09" fill="#f9d8ce"/>
<rect x="567.54" y="208.20" width="17.46" height="8.19" fill="#f7b29c"/>
<rect x="567.54" y="216.34" width="17.46" height="2.09" fill="#ea5c42"/>
<rect x="567.54" y="218.38" width="17.46" height="4.12" fill="#fcfafa"/>
<rect x="567.54" y="222.45" width="17.46" height="2.09" fill="#f9d8ce"/>
<rect x="567.54" y="224.49" width="17.46" height="2.09" fill="#f18b71"/>
<rect x="567.54" y="226.52" width="17.46" height="2.09" fill="#f9d8ce"/>
<rect x="567.54" y="228.56" width="17.46" height="2.09" fill="#fcfafa"/>
<rect x="567.54" y="230.60" width="17.46" height="2.09" fill="#f9d8ce"/>
<rect x="567.54" y="232.63" width="17.46" height="2.09" fill="#d5cfe6"/>
<rect x="567.54" y="234.67" width="17.46" height="2.09" fill="#f9d8ce"/>
<rect x="567.54" y="236.70" width="17.46" height="4.12" fill="#fcfafa"/>
<rect x="567.54" y="240.78" width="17.46" height="6.16" fill="#f9d8ce"/>
<rect x="567.54" y="246.88" width="17.46" height="2.09" fill="#d5cfe6"/>
<rect x="567.54" y="248.92" width="17.46" height="2.09" fill="#f9d8ce"/>
<rect x="567.54" y="250.96" width="17.46" height="2.09" fill="#f7b29c"/>
<rect x="567.54" y="252.99" width="17.46" height="2.09" fill="#fcfafa"/>
<rect x="567.54" y="255.03" width="17.46" height="2.09" fill="#f18b71"/>
<rect x="567.54" y="257.06" width="17.46" height="2.09" fill="#f9d8ce"/>
<rect x="567.54" y="259.10" width="17.46" height="2.09" fill="#f7b29c"/>
<rect x="567.54" y="261.14" width="17.46" height="2.09" fill="#ea5c42"/>
<rect x="567.54" y="263.17" width="17.46" height="2.09" fill="#fcfafa"/>
<rect x="567.54" y="265.21" width="17.46" height="4.12" fill="#f9d8ce"/>
<rect x="567.54" y="269.28" width="17.46" height="2.09" fill="#fcfafa"/>
<rect x="567.54" y="271.32" width="17.46" height="2.09" fill="#f9d8ce"/>
<rect x="567.54" y="273.35" width="17.46" height="2.09" fill="#fcfafa"/>
<rect x="567.54" y="275.39" width="17.46" height="4.12" fill="#d5cfe6"/>
<rect x="567.54" y="279.46" width="17.46" height="2.09" fill="#f7b29c"/>
<rect x="567.54" y="281.50" width="17.46" height="2.09" fill="#f18b71"/>
<rect x="567.54" y="283.53" width="17.46" height="2.09" fill="#f9d8ce"/>
<rect x="567.54" y="285.57" width="17.46" height="2.09" fill="#f7b29c"/>
<rect x="567.54" y="287.60" width="17.46" height="2.09" fill="#d5cfe6"/>
<rect x="567.54" y="289.64" width="17.46" height="2.09" fill="#f7b29c"/>
<rect x="567.54" y="291.68" width="17.46" height="6.16" fill="#fcfafa"/>
<rect x="567.54" y="297.78" width="17.46" height="6.16" fill="#f9d8ce"/>
<rect x="567.54" y="303.89" width="17.46" height="2.09" fill="#d5cfe6"/>
<rect x="567.54" y="305.93" width="17.46" height="2.09" fill="#f9d8ce"/>
<rect x="567.54" y="307.96" width="17.46" height="8.19" fill="#f7b29c"/>
<rect x="567.54" y="316.11" width="17.46" height="2.09" fill="#f9d8ce"/>
<rect x="567.54" y="318.14" width="17.46" height="2.09" fill="#d5cfe6"/>
<rect x="567.54" y="320.18" width="17.46" height="2.09" fill="#fcfafa"/>
<rect x="567.54" y="322.22" width="17.46" height="4.12" fill="#ea5c42"/>
<rect x="567.54" y="326.29" width="17.46" height="2.09" fill="#f9d8ce"/>
<rect x="567.54" y="328.32" width="17.46" height="2.09" fill="#d5cfe6"/>
<rect x="567.54" y="330.36" width="17.46" height="4.12" fill="#f9d8ce"/>
<rect x="567.54" y="334.43" width="17.46" height="4.12" fill="#ea5c42"/>
<rect x="567.54" y="338.50" width="17.46" height="2.09" fill="#a197cb"/>
<rect x="567.54" y="340.54" width="17.46" height="2.09" fill="#f9d8ce"/>
<rect x="567.54" y="342.58" width="17.46" height="2.09" fill="#f7b29c"/>
<rect x="567.54" y="344.61" width="17.46" height="4.12" fill="#d5cfe6"/>
<rect x="567.54" y="348.68" width="17.46" height="2.09" fill="#f9d8ce"/>
<rect x="567.54" y="350.72" width="17.46" height="2.09" fill="#f7b29c"/>
<rect x="567.54" y="352.76" width="17.46" height="2.09" fill="#f9d8ce"/>
<rect x="567.54" y="354.79" width="17.46" height="2.09" fill="#ea5c42"/>
<rect x="567.54" y="356.83" width="17.46" height="4.12" fill="#f9d8ce"/>
<rect x="567.54" y="360.90" width="17.46" height="2.09" fill="#a197cb"/>
<rect x="567.54" y="362.94" width="17.46" height="4.12" fill="#fcfafa"/>
<rect x="567.54" y="367.01" width="17.46" height="6.16" fill="#d5cfe6"/>
<rect x="567.54" y="373.12" width="17.46" height="2.09" fill="#ea5c42"/>
<rect x="567.54" y="375.15" width="17.46" height="2.09" fill="#fcfafa"/>
<rect x="567.54" y="377.19" width="17.46" height="4.12" fill="#d5cfe6"/>
<rect x="567.54" y="381.26" width="17.46" height="2.09" fill="#fcfafa"/>
<rect x="567.54" y="383.30" width="17.46" height="2.09" fill="#f9d8ce"/>
<rect x="567.54" y="385.33" width="17.46" height="2.09" fill="#d5cfe6"/>
<rect x="567.54" y="387.37" width="17.46" height="2.09" fill="#f7b29c"/>
<rect x="567.54" y="389.40" width="17.46" height="2.09" fill="#f9d8ce"/>
<rect x="567.54" y="391.44" width="17.46" height="2.09" fill="#fcfafa"/>
<rect x="567.54" y="393.48" width="17.46" height="2.09" fill="#a197cb"/>
<rect x="567.54" y="395.51" width="17.46" height="2.09" fill="#d5cfe6"/>
<rect x="567.54" y="397.55" width="17.46" height="4.12" fill="#b8b8b8"/>
<rect x="567.54" y="401.62" width="17.46" height="4.12" fill="#fcfafa"/>
<rect x="567.54" y="405.69" width="17.46" height="2.09" fill="#d5cfe6"/>
<rect x="567.54" y="407.73" width="17.46" height="2.09" fill="#a197cb"/>
<rect x="567.54" y="409.76" width="17.46" height="2.09" fill="#d5cfe6"/>
<rect x="567.54" y="411.80" width="17.46" height="2.09" fill="#f9d8ce"/>
<rect x="567.54" y="413.84" width="17.46" height="2.09" fill="#fcfafa"/>
<rect x="567.54" y="415.87" width="17.46" height="2.09" fill="#f9d8ce"/>
<rect x="567.54" y="417.91" width="17.46" height="2.09" fill="#d5cfe6"/>
<rect x="567.54" y="419.94" width="17.46" height="2.09" fill="#f9d8ce"/>
<rect x="567.54" y="421.98" width="17.46" height="4.12" fill="#ea5c42"/>
<rect x="567.54" y="426.05" width="17.46" height="2.09" fill="#f9d8ce"/>
<rect x="567.54" y="428.09" width="17.46" height="2.09" fill="#f7b29c"/>
<rect x="567.54" y="430.12" width="17.46" height="2.09" fill="#a197cb"/>
<rect x="567.54" y="432.16" width="17.46" height="2.09" fill="#f9d8ce"/>
<rect x="567.54" y="434.20" width="17.46" height="2.09" fill="#fcfafa"/>
<rect x="567.54" y="436.23" width="17.46" height="2.09" fill="#f7b29c"/>
<rect x="567.54" y="438.27" width="17.46" height="2.09" fill="#fcfafa"/>
<rect x="567.54" y="440.30" width="17.46" height="6.16" fill="#f7b29c"/>
<rect x="567.54" y="446.41" width="17.46" height="2.09" fill="#f9d8ce"/>
<rect x="567.54" y="448.45" width="17.46" height="4.12" fill="#f7b29c"/>
<rect x="567.54" y="452.52" width="17.46" height="8.19" fill="#f9d8ce"/>
<rect x="567.54" y="460.66" width="17.46" height="2.09" fill="#ea5c42"/>
<rect x="567.54" y="462.70" width="17.46" height="2.09" fill="#f18b71"/>
<rect x="567.54" y="464.74" width="17.46" height="4.12" fill="#f9d8ce"/>
<rect x="567.54" y="468.81" width="17.46" height="2.09" fill="#f7b29c"/>
<rect x="567.54" y="470.84" width="17.46" height="4.12" fill="#fcfafa"/>
<rect x="567.54" y="474.92" width="17.46" height="2.09" fill="#f9d8ce"/>
<rect x="567.54" y="476.95" width="17.46" height="2.09" fill="#f7b29c"/>
<rect x="567.54" y="478.99" width="17.46" height="2.09" fill="#fcfafa"/>
<rect x="567.54" y="481.02" width="17.46" height="4.12" fill="#f9d8ce"/>
<rect x="567.54" y="485.10" width="17.46" height="2.09" fill="#fcfafa"/>
<rect x="567.54" y="487.13" width="17.46" height="4.12" fill="#f9d8ce"/>
<rect x="567.54" y="491.20" width="17.46" height="2.09" fill="#f7b29c"/>
<rect x="567.54" y="493.24" width="17.46" height="4.12" fill="#f9d8ce"/>
<rect x="567.54" y="497.31" width="17.46" height="2.09" fill="#d5cfe6"/>
<rect x="567.54" y="499.35" width="17.46" height="2.09" fill="#fcfafa"/>
<rect x="567.54" y="501.38" width="17.46" height="2.09" fill="#d5cfe6"/>
<rect x="567.54" y="503.42" width="17.46" height="4.12" fill="#f9d8ce"/>
<rect x="567.54" y="507.49" width="17.46" height="2.09" fill="#f7b29c"/>
<rect x="567.54" y="509.53" width="17.46" height="6.16" fill="#fcfafa"/>
<rect x="567.54" y="515.64" width="17.46" height="2.09" fill="#ea5c42"/>
<rect x="567.54" y="517.67" width="17.46" height="2.09" fill="#d5cfe6"/>
<rect x="567.54" y="519.71" width="17.46" height="2.09" fill="#f7b29c"/>
<rect x="567.54" y="521.74" width="17.46" height="2.09" fill="#f9d8ce"/>
<rect x="567.54" y="523.78" width="17.46" height="2.09" fill="#f7b29c"/>
<rect x="567.54" y="525.82" width="17.46" height="2.09" fill="#f9d8ce"/>
<rect x="567.54" y="527.85" width="17.46" height="2.09" fill="#f7b29c"/>
<rect x="567.54" y="529.89" width="17.46" height="4.12" fill="#d5cfe6"/>
<rect x="567.54" y="533.96" width="17.46" height="2.09" fill="#f9d8ce"/>
<rect x="567.54" y="536.00" width="17.46" height="2.09" fill="#d5cfe6"/>
<rect x="567.54" y="538.03" width="17.46" height="4.12" fill="#f9d8ce"/>
<rect x="567.54" y="542.10" width="17.46" height="2.09" fill="#fcfafa"/>
<rect x="567.54" y="544.14" width="17.46" height="4.12" fill="#f9d8ce"/>
<rect x="567.54" y="548.21" width="17.46" height="2.09" fill="#d5cfe6"/>
<rect x="567.54" y="550.25" width="17.46" height="2.09" fill="#f9d8ce"/>
<rect x="567.54" y="552.28" width="17.46" height="2.09" fill="#fcfafa"/>
<rect x="567.54" y="554.32" width="17.46" height="6.16" fill="#d5cfe6"/>
<rect x="567.54" y="560.43" width="17.46" height="2.09" fill="#a197cb"/>
<rect x="567.54" y="562.46" width="17.46" height="6.16" fill="#f9d8ce"/>
<rect x="567.54" y="568.57" width="17.46" height="2.09" fill="#f7b29c"/>
<rect x="567.54" y="570.61" width="17.46" height="4.12" fill="#f9d8ce"/>
<rect x="567.54" y="574.68" width="17.46" height="4.12" fill="#fcfafa"/>
<rect x="567.54" y="578.75" width="17.46" height="2.09" fill="#d5cfe6"/>
<rect x="567.54" y="580.79" width="17.46" height="4.12" fill="#f7b29c"/>
<rect x="567.54" y="584.86" width="17.46" height="2.09" fill="#f18b71"/>
<rect x="567.54" y="586.90" width="17.46" height="2.09" fill="#f7b29c"/>
<rect x="567.54" y="588.93" width="17.46" height="2.09" fill="#f9d8ce"/>
<rect x="567.54" y="590.97" width="17.46" height="2.09" fill="#ea5c42"/>
<rect x="567.54" y="593.00" width="17.46" height="2.09" fill="#f18b71"/>
<rect x="567.54" y="595.04" width="17.46" height="2.09" fill="#fcfafa"/>
<rect x="567.54" y="597.08" width="17.46" height="2.09" fill="#d5cfe6"/>
<rect x="567.54" y="599.11" width="17.46" height="2.09" fill="#ea5c42"/>
<rect x="567.54" y="601.15" width="17.46" height="2.09" fill="#f9d8ce"/>
<rect x="567.54" y="603.18" width="17.46" height="4.12" fill="#ea5c42"/>
<rect x="567.54" y="607.26" width="17.46" height="2.09" fill="#f18b71"/>
<rect x="567.54" y="609.29" width="17.46" height="2.09" fill="#d5cfe6"/>
<rect x="567.54" y="611.33" width="17.46" height="4.12" fill="#f9d8ce"/>
<rect x="584.96" y="208.20" width="17.46" height="2.09" fill="#a197cb"/>
<rect x="584.96" y="210.24" width="17.46" height="2.09" fill="#d5cfe6"/>
<rect x="584.96" y="212.27" width="17.46" height="4.12" fill="#fcfafa"/>
<rect x="584.96" y="216.34" width="17.46" height="2.09" fill="#f9d8ce"/>
<rect x="584.96" y="218.38" width="17.46" height="2.09" fill="#fcfafa"/>
<rect x="584.96" y="220.42" width="17.46" height="2.09" fill="#d5cfe6"/>
<rect x="584.96" y="222.45" width="17.46" height="2.09" fill="#f9d8ce"/>
<rect x="584.96" y="224.49" width="17.46" height="2.09" fill="#a197cb"/>
<rect x="584.96" y="226.52" width="17.46" height="4.12" fill="#fcfafa"/>
<rect x="584.96" y="230.60" width="17.46" height="6.16" fill="#a197cb"/>
<rect x="584.96" y="236.70" width="17.46" height="4.12" fill="#4b4fa6"/>
<rect x="584.96" y="240.78" width="17.46" height="2.09" fill="#6c68b2"/>
<rect x="584.96" y="242.81" width="17.46" height="2.09" fill="#b8b8b8"/>
<rect x="584.96" y="244.85" width="17.46" height="4.12" fill="#a197cb"/>
<rect x="584.96" y="248.92" width="17.46" height="2.09" fill="#fcfafa"/>
<rect x="584.96" y="250.96" width="17.46" height="4.12" fill="#a197cb"/>
<rect x="584.96" y="255.03" width="17.46" height="2.09" fill="#d5cfe6"/>
<rect x="584.96" y="257.06" width="17.46" height="2.09" fill="#a197cb"/>
<rect x="584.96" y="259.10" width="17.46" height="2.09" fill="#d5cfe6"/>
<rect x="584.96" y="261.14" width="17.46" height="2.09" fill="#f18b71"/>
<rect x="584.96" y="263.17" width="17.46" height="2.09" fill="#f7b29c"/>
<rect x="584.96" y="265.21" width="17.46" height="2.09" fill="#f9d8ce"/>
<rect x="584.96" y="267.24" width="17.46" height="2.09" fill="#d5cfe6"/>
<rect x="584.96" y="269.28" width="17.46" height="2.09" fill="#a197cb"/>
<rect x="584.96" y="271.32" width="17.46" height="2.09" fill="#d5cfe6"/>
<rect x="584.96" y="273.35" width="17.46" height="2.09" fill="#f9d8ce"/>
<rect x="584.96" y="275.39" width="17.46" height="4.12" fill="#a197cb"/>
<rect x="584.96" y="279.46" width="17.46" height="2.09" fill="#fcfafa"/>
<rect x="584.96" y="281.50" width="17.46" height="2.09" fill="#f9d8ce"/>
<rect x="584.96" y="283.53" width="17.46" height="4.12" fill="#f7b29c"/>
<rect x="584.96" y="287.60" width="17.46" height="2.09" fill="#f9d8ce"/>
<rect x="584.96" y="289.64" width="17.46" height="2.09" fill="#f7b29c"/>
<rect x="584.96" y="291.68" width="17.46" height="2.09" fill="#f9d8ce"/>
<rect x="584.96" y="293.71" width="17.46" height="4.12" fill="#fcfafa"/>
<rect x="584.96" y="297.78" width="17.46" height="2.09" fill="#a197cb"/>
<rect x="584.96" y="299.82" width="17.46" height="2.09" fill="#6c68b2"/>
<rect x="584.96" y="301.86" width="17.46" height="2.09" fill="#f9d8ce"/>
<rect x="584.96" y="303.89" width="17.46" height="2.09" fill="#d5cfe6"/>
<rect x="584.96" y="305.93" width="17.46" height="4.12" fill="#f9d8ce"/>
<rect x="584.96" y="310.00" width="17.46" height="4.12" fill="#a197cb"/>
<rect x="584.96" y="314.07" width="17.46" height="2.09" fill="#d5cfe6"/>
<rect x="584.96" y="316.11" width="17.46" height="2.09" fill="#6c68b2"/>
<rect x="584.96" y="318.14" width="17.46" height="4.12" fill="#d5cfe6"/>
<rect x="584.96" y="322.22" width="17.46" height="2.09" fill="#fcfafa"/>
<rect x="584.96" y="324.25" width="17.46" height="6.16" fill="#d5cfe6"/>
<rect x="584.96" y="330.36" width="17.46" height="2.09" fill="#a197cb"/>
<rect x="584.96" y="332.40" width="17.46" height="2.09" fill="#f9d8ce"/>
<rect x="584.96" y="334.43" width="17.46" height="2.09" fill="#d5cfe6"/>
<rect x="584.96" y="336.47" width="17.46" height="2.09" fill="#f9d8ce"/>
<rect x="584.96" y="338.50" width="17.46" height="2.09" fill="#d5cfe6"/>
<rect x="584.96" y="340.54" width="17.46" height="2.09" fill="#f9d8ce"/>
<rect x="584.96" y="342.58" width="17.46" height="2.09" fill="#ea5c42"/>
<rect x="584.96" y="344.61" width="17.46" height="4.12" fill="#f9d8ce"/>
<rect x="584.96" y="348.68" width="17.46" height="2.09" fill="#ea5c42"/>
<rect x="584.96" y="350.72" width="17.46" height="2.09" fill="#f9d8ce"/>
<rect x="584.96" y="352.76" width="17.46" height="2.09" fill="#d5cfe6"/>
<rect x="584.96" y="354.79" width="17.46" height="2.09" fill="#f9d8ce"/>
<rect x="584.96" y="356.83" width="17.46" height="2.09" fill="#ea5c42"/>
<rect x="584.96" y="358.86" width="17.46" height="2.09" fill="#fcfafa"/>
<rect x="584.96" y="360.90" width="17.46" height="2.09" fill="#6c68b2"/>
<rect x="584.96" y="362.94" width="17.46" height="2.09" fill="#d5cfe6"/>
<rect x="584.96" y="364.97" width="17.46" height="4.12" fill="#fcfafa"/>
<rect x="584.96" y="369.04" width="17.46" height="2.09" fill="#d5cfe6"/>
<rect x="584.96" y="371.08" width="17.46" height="2.09" fill="#a197cb"/>
<rect x="584.96" y="373.12" width="17.46" height="4.12" fill="#d5cfe6"/>
<rect x="584.96" y="377.19" width="17.46" height="2.09" fill="#f9d8ce"/>
<rect x="584.96" y="379.22" width="17.46" height="2.09" fill="#fcfafa"/>
<rect x="584.96" y="381.26" width="17.46" height="2.09" fill="#ea5c42"/>
<rect x="584.96" y="383.30" width="17.46" height="4.12" fill="#f9d8ce"/>
<rect x="584.96" y="387.37" width="17.46" height="2.09" fill="#d5cfe6"/>
<rect x="584.96" y="389.40" width="17.46" height="2.09" fill="#f7b29c"/>
<rect x="584.96" y="391.44" width="17.46" height="4.12" fill="#fcfafa"/>
<rect x="584.96" y="395.51" width="17.46" height="6.16" fill="#d5cfe6"/>
<rect x="584.96" y="401.62" width="17.46" height="2.09" fill="#f9d8ce"/>
<rect x="584.96" y="403.66" width="17.46" height="4.12" fill="#f18b71"/>
<rect x="584.96" y="407.73" width="17.46" height="2.09" fill="#f9d8ce"/>
<rect x="584.96" y="409.76" width="17.46" height="2.09" fill="#f18b71"/>
<rect x="584.96" y="411.80" width="17.46" height="2.09" fill="#f9d8ce"/>
<rect x="584.96" y="413.84" width="17.46" height="2.09" fill="#f18b71"/>
<rect x="584.96" y="415.87" width="17.46" height="2.09" fill="#fcfafa"/>
<rect x="584.96" y="417.91" width="17.46" height="2.09" fill="#d5cfe6"/>
<rect x="584.96" y="419.94" width="17.46" height="2.09" fill="#a197cb"/>
<rect x="584.96" y="421.98" width="17.46" height="2.09" fill="#6c68b2"/>
<rect x="584.96" y="424.02" width="17.46" height="2.09" fill="#a197cb"/>
<rect x="584.96" y="426.05" width="17.46" height="2.09" fill="#f9d8ce"/>
<rect x="584.96" y="428.09" width="17.46" height="2.09" fill="#fcfafa"/>
<rect x="584.96" y="430.12" width="17.46" height="2.09" fill="#a197cb"/>
<rect x="584.96" y="432.16" width="17.46" height="2.09" fill="#fcfafa"/>
<rect x="584.96" y="434.20" width="17.46" height="2.09" fill="#f18b71"/>
<rect x="584.96" y="436.23" width="17.46" height="4.12" fill="#d5cfe6"/>
<rect x="584.96" y="440.30" width="17.46" height="2.09" fill="#fcfafa"/>
<rect x="584.96" y="442.34" width="17.46" height="4.12" fill="#d5cfe6"/>
<rect x="584.96" y="446.41" width="17.46" height="2.09" fill="#f7b29c"/>
<rect x="584.96" y="448.45" width="17.46" height="2.09" fill="#fcfafa"/>
<rect x="584.96" y="450.48" width="17.46" height="8.19" fill="#d5cfe6"/>
<rect x="584.96" y="458.63" width="17.46" height="2.09" fill="#f9d8ce"/>
<rect x="584.96" y="460.66" width="17.46" height="2.09" fill="#fcfafa"/>
<rect x="584.96" y="462.70" width="17.46" height="2.09" fill="#d5cfe6"/>
<rect x="584.96" y="464.74" width="17.46" height="2.09" fill="#fcfafa"/>
<rect x="584.96" y="466.77" width="17.46" height="2.09" fill="#f18b71"/>
<rect x="584.96" y="468.81" width="17.46" height="4.12" fill="#f7b29c"/>
<rect x="584.96" y="472.88" width="17.46" height="2.09" fill="#f18b71"/>
<rect x="584.96" y="474.92" width="17.46" height="2.09" fill="#fcfafa"/>
<rect x="584.96" y="476.95" width="17.46" height="2.09" fill="#d5cfe6"/>
<rect x="584.96" y="478.99" width="17.46" height="2.09" fill="#f9d8ce"/>
<rect x="584.96" y="481.02" width="17.46" height="2.09" fill="#fcfafa"/>
<rect x="584.96" y="483.06" width="17.46" height="2.09" fill="#f9d8ce"/>
<rect x="584.96" y="485.10" width="17.46" height="4.12" fill="#d5cfe6"/>
<rect x="584.96" y="489.17" width="17.46" height="2.09" fill="#f9d8ce"/>
<rect x="584.96" y="491.20" width="17.46" height="4.12" fill="#d5cfe6"/>
<rect x="584.96" y="495.28" width="17.46" height="2.09" fill="#a197cb"/>
<rect x="584.96" y="497.31" width="17.46" height="2.09" fill="#d5cfe6"/>
<rect x="584.96" y="499.35" width="17.46" height="2.09" fill="#fcfafa"/>
<rect x="584.96" y="501.38" width="17.46" height="4.12" fill="#d5cfe6"/>
<rect x="584.96" y="505.46" width="17.46" height="4.12" fill="#fcfafa"/>
<rect x="584.96" y="509.53" width="17.46" height="6.16" fill="#a197cb"/>
<rect x="584.96" y="515.64" width="17.46" height="2.09" fill="#d5cfe6"/>
<rect x="584.96" y="517.67" width="17.46" height="4.12" fill="#a197cb"/>
<rect x="584.96" y="521.74" width="17.46" height="2.09" fill="#d5cfe6"/>
<rect x="584.96" y="523.78" width="17.46" height="2.09" fill="#fcfafa"/>
<rect x="584.96" y="525.82" width="17.46" height="4.12" fill="#d5cfe6"/>
<rect x="584.96" y="529.89" width="17.46" height="2.09" fill="#f9d8ce"/>
<rect x="584.96" y="531.92" width="17.46" height="2.09" fill="#d5cfe6"/>
<rect x="584.96" y="533.96" width="17.46" height="2.09" fill="#fcfafa"/>
<rect x="584.96" y="536.00" width="17.46" height="2.09" fill="#f9d8ce"/>
<rect x="584.96" y="538.03" width="17.46" height="4.12" fill="#d5cfe6"/>
<rect x="584.96" y="542.10" width="17.46" height="2.09" fill="#fcfafa"/>
<rect x="584.96" y="544.14" width="17.46" height="2.09" fill="#a197cb"/>
<rect x="584.96" y="546.18" width="17.46" height="2.09" fill="#fcfafa"/>
<rect x="584.96" y="548.21" width="17.46" height="2.09" fill="#f9d8ce"/>
<rect x="584.96" y="550.25" width="17.46" height="2.09" fill="#ea5c42"/>
<rect x="584.96" y="552.28" width="17.46" height="2.09" fill="#f9d8ce"/>
<rect x="584.96" y="554.32" width="17.46" height="2.09" fill="#fcfafa"/>
<rect x="584.96" y="556.36" width="17.46" height="2.09" fill="#f9d8ce"/>
<rect x="584.96" y="558.39" width="17.46" height="2.09" fill="#ea5c42"/>
<rect x="584.96" y="560.43" width="17.46" height="6.16" fill="#d5cfe6"/>
<rect x="584.96" y="566.54" width="17.46" height="4.12" fill="#f7b29c"/>
<rect x="584.96" y="570.61" width="17.46" height="4.12" fill="#fcfafa"/>
<rect x="584.96" y="574.68" width="17.46" height="8.19" fill="#f9d8ce"/>
<rect x="584.96" y="582.82" width="17.46" height="4.12" fill="#f7b29c"/>
<rect x="584.96" y="586.90" width="17.46" height="2.09" fill="#fcfafa"/>
<rect x="584.96" y="588.93" width="17.46" height="4.12" fill="#d5cfe6"/>
<rect x="584.96" y="593.00" width="17.46" height="2.09" fill="#f9d8ce"/>
<rect x="584.96" y="595.04" width="17.46" height="2.09" fill="#f7b29c"/>
<rect x="584.96" y="597.08" width="17.46" height="2.09" fill="#d5cfe6"/>
<rect x="584.96" y="599.11" width="17.46" height="2.09" fill="#f9d8ce"/>
<rect x="584.96" y="601.15" width="17.46" height="2.09" fill="#d5cfe6"/>
<rect x="584.96" y="603.18" width="17.46" height="2.09" fill="#f9d8ce"/>
<rect x="584.96" y="605.22" width="17.46" height="2.09" fill="#fcfafa"/>
<rect x="584.96" y="607.26" width="17.46" height="4.12" fill="#f7b29c"/>
<rect x="584.96" y="611.33" width="17.46" height="2.09" fill="#ea5c42"/>
<rect x="584.96" y="613.36" width="17.46" height="2.09" fill="#f9d8ce"/>
<rect x="602.37" y="208.20" width="17.46" height="2.09" fill="#f9d8ce"/>
<rect x="602.37" y="210.24" width="17.46" height="2.09" fill="#fcfafa"/>
<rect x="602.37" y="212.27" width="17.46" height="2.09" fill="#6c68b2"/>
<rect x="602.37" y="214.31" width="17.46" height="2.09" fill="#a197cb"/>
<rect x="602.37" y="216.34" width="17.46" height="2.09" fill="#f9d8ce"/>
<rect x="602.37" y="218.38" width="17.46" height="2.09" fill="#a197cb"/>
<rect x="602.37" y="220.42" width="17.46" height="2.09" fill="#fcfafa"/>
<rect x="602.37" y="222.45" width="17.46" height="4.12" fill="#a197cb"/>
<rect x="602.37" y="226.52" width="17.46" height="2.09" fill="#d5cfe6"/>
<rect x="602.37" y="228.56" width="17.46" height="2.09" fill="#4b4fa6"/>
<rect x="602.37" y="230.60" width="17.46" height="4.12" fill="#a197cb"/>
<rect x="602.37" y="234.67" width="17.46" height="2.09" fill="#d5cfe6"/>
<rect x="602.37" y="236.70" width="17.46" height="8.19" fill="#a197cb"/>
<rect x="602.37" y="244.85" width="17.46" height="2.09" fill="#4b4fa6"/>
<rect x="602.37" y="246.88" width="17.46" height="4.12" fill="#6c68b2"/>
<rect x="602.37" y="250.96" width="17.46" height="2.09" fill="#a197cb"/>
<rect x="602.37" y="252.99" width="17.46" height="2.09" fill="#f9d8ce"/>
<rect x="602.37" y="255.03" width="17.46" height="4.12" fill="#a197cb"/>
<rect x="602.37" y="259.10" width="17.46" height="2.09" fill="#f7b29c"/>
<rect x="602.37" y="261.14" width="17.46" height="2.09" fill="#4b4fa6"/>
<rect x="602.37" y="263.17" width="17.46" height="2.09" fill="#6c68b2"/>
<rect x="602.37" y="265.21" width="17.46" height="4.12" fill="#a197cb"/>
<rect x="602.37" y="269.28" width="17.46" height="6.16" fill="#d5cfe6"/>
<rect x="602.37" y="275.39" width="17.46" height="2.09" fill="#fcfafa"/>
<rect x="602.37" y="277.42" width="17.46" height="2.09" fill="#d5cfe6"/>
<rect x="602.37" y="279.46" width="17.46" height="4.12" fill="#f9d8ce"/>
<rect x="602.37" y="283.53" width="17.46" height="2.09" fill="#fcfafa"/>
<rect x="602.37" y="285.57" width="17.46" height="2.09" fill="#f9d8ce"/>
<rect x="602.37" y="287.60" width="17.46" height="4.12" fill="#fcfafa"/>
<rect x="602.37" y="291.68" width="17.46" height="2.09" fill="#a197cb"/>
<rect x="602.37" y="293.71" width="17.46" height="4.12" fill="#d5cfe6"/>
<rect x="602.37" y="297.78" width="17.46" height="2.09" fill="#fcfafa"/>
<rect x="602.37" y="299.82" width="17.46" height="2.09" fill="#f9d8ce"/>
<rect x="602.37" y="301.86" width="17.46" height="6.16" fill="#a197cb"/>
<rect x="602.37" y="307.96" width="17.46" height="8.19" fill="#f9d8ce"/>
<rect x="602.37" y="316.11" width="17.46" height="2.09" fill="#d5cfe6"/>
<rect x="602.37" y="318.14" width="17.46" height="2.09" fill="#fcfafa"/>
<rect x="602.37" y="320.18" width="17.46" height="2.09" fill="#a197cb"/>
<rect x="602.37" y="322.22" width="17.46" height="4.12" fill="#d5cfe6"/>
<rect x="602.37" y="326.29" width="17.46" height="2.09" fill="#f9d8ce"/>
<rect x="602.37" y="328.32" width="17.46" height="2.09" fill="#a197cb"/>
<rect x="602.37" y="330.36" width="17.46" height="2.09" fill="#d5cfe6"/>
<rect x="602.37" y="332.40" width="17.46" height="2.09" fill="#f9d8ce"/>
<rect x="602.37" y="334.43" width="17.46" height="2.09" fill="#a197cb"/>
<rect x="602.37" y="336.47" width="17.46" height="2.09" fill="#f9d8ce"/>
<rect x="602.37" y="338.50" width="17.46" height="4.12" fill="#fcfafa"/>
<rect x="602.37" y="342.58" width="17.46" height="2.09" fill="#a197cb"/>
<rect x="602.37" y="344.61" width="17.46" height="2.09" fill="#fcfafa"/>
<rect x="602.37" y="346.65" width="17.46" height="2.09" fill="#f9d8ce"/>
<rect x="602.37" y="348.68" width="17.46" height="2.09" fill="#d5cfe6"/>
<rect x="602.37" y="350.72" width="17.46" height="2.09" fill="#4b4fa6"/>
<rect x="602.37" y="352.76" width="17.46" height="2.09" fill="#f7b29c"/>
<rect x="602.37" y="354.79" width="17.46" height="2.09" fill="#d5cfe6"/>
<rect x="602.37" y="356.83" width="17.46" height="2.09" fill="#a197cb"/>
<rect x="602.37" y="358.86" width="17.46" height="4.12" fill="#f9d8ce"/>
<rect x="602.37" y="362.94" width="17.46" height="2.09" fill="#d5cfe6"/>
<rect x="602.37" y="364.97" width="17.46" height="2.09" fill="#f18b71"/>
<rect x="602.37" y="367.01" width="17.46" height="2.09" fill="#d6201e"/>
<rect x="602.37" y="369.04" width="17.46" height="2.09" fill="#f9d8ce"/>
<rect x="602.37" y="371.08" width="17.46" height="2.09" fill="#f7b29c"/>
<rect x="602.37" y="373.12" width="17.46" height="2.09" fill="#a197cb"/>
<rect x="602.37" y="375.15" width="17.46" height="2.09" fill="#6c68b2"/>
<rect x="602.37" y="377.19" width="17.46" height="2.09" fill="#4b4fa6"/>
<rect x="602.37" y="379.22" width="17.46" height="4.12" fill="#6c68b2"/>
<rect x="602.37" y="383.30" width="17.46" height="2.09" fill="#4b4fa6"/>
<rect x="602.37" y="385.33" width="17.46" height="2.09" fill="#6c68b2"/>
<rect x="602.37" y="387.37" width="17.46" height="2.09" fill="#a197cb"/>
<rect x="602.37" y="389.40" width="17.46" height="2.09" fill="#6c68b2"/>
<rect x="602.37" y="391.44" width="17.46" height="2.09" fill="#fcfafa"/>
<rect x="602.37" y="393.48" width="17.46" height="2.09" fill="#f7b29c"/>
<rect x="602.37" y="395.51" width="17.46" height="2.09" fill="#d5cfe6"/>
<rect x="602.37" y="397.55" width="17.46" height="2.09" fill="#f7b29c"/>
<rect x="602.37" y="399.58" width="17.46" height="2.09" fill="#6c68b2"/>
<rect x="602.37" y="401.62" width="17.46" height="2.09" fill="#a197cb"/>
<rect x="602.37" y="403.66" width="17.46" height="2.09" fill="#fcfafa"/>
<rect x="602.37" y="405.69" width="17.46" height="2.09" fill="#f18b71"/>
<rect x="602.37" y="407.73" width="17.46" height="2.09" fill="#fcfafa"/>
<rect x="602.37" y="409.76" width="17.46" height="2.09" fill="#d5cfe6"/>
<rect x="602.37" y="411.80" width="17.46" height="4.12" fill="#6c68b2"/>
<rect x="602.37" y="415.87" width="17.46" height="2.09" fill="#a197cb"/>
<rect x="602.37" y="417.91" width="17.46" height="2.09" fill="#b8b8b8"/>
<rect x="602.37" y="419.94" width="17.46" height="4.12" fill="#6c68b2"/>
<rect x="602.37" y="424.02" width="17.46" height="2.09" fill="#f18b71"/>
<rect x="602.37" y="426.05" width="17.46" height="4.12" fill="#6c68b2"/>
<rect x="602.37" y="430.12" width="17.46" height="2.09" fill="#b8b8b8"/>
<rect x="602.37" y="432.16" width="17.46" height="2.09" fill="#6c68b2"/>
<rect x="602.37" y="434.20" width="17.46" height="2.09" fill="#a197cb"/>
<rect x="602.37" y="436.23" width="17.46" height="2.09" fill="#f9d8ce"/>
<rect x="602.37" y="438.27" width="17.46" height="2.09" fill="#a197cb"/>
<rect x="602.37" y="440.30" width="17.46" height="4.12" fill="#6c68b2"/>
<rect x="602.37" y="444.38" width="17.46" height="14.30" fill="#a197cb"/>
<rect x="602.37" y="458.63" width="17.46" height="4.12" fill="#d5cfe6"/>
<rect x="602.37" y="462.70" width="17.46" height="4.12" fill="#a197cb"/>
<rect x="602.37" y="466.77" width="17.46" height="12.27" fill="#6c68b2"/>
<rect x="602.37" y="478.99" width="17.46" height="2.09" fill="#b8b8b8"/>
<rect x="602.37" y="481.02" width="17.46" height="4.12" fill="#4b4fa6"/>
<rect x="602.37" y="485.10" width="17.46" height="2.09" fill="#6c68b2"/>
<rect x="602.37" y="487.13" width="17.46" height="2.09" fill="#a197cb"/>
<rect x="602.37" y="489.17" width="17.46" height="2.09" fill="#6c68b2"/>
<rect x="602.37" y="491.20" width="17.46" height="4.12" fill="#a197cb"/>
<rect x="602.37" y="495.28" width="17.46" height="2.09" fill="#fcfafa"/>
<rect x="602.37" y="497.31" width="17.46" height="10.23" fill="#6c68b2"/>
<rect x="602.37" y="507.49" width="17.46" height="6.16" fill="#a197cb"/>
<rect x="602.37" y="513.60" width="17.46" height="2.09" fill="#6c68b2"/>
<rect x="602.37" y="515.64" width="17.46" height="2.09" fill="#4b4fa6"/>
<rect x="602.37" y="517.67" width="17.46" height="4.12" fill="#d5cfe6"/>
<rect x="602.37" y="521.74" width="17.46" height="2.09" fill="#fcfafa"/>
<rect x="602.37" y="523.78" width="17.46" height="2.09" fill="#4b4fa6"/>
<rect x="602.37" y="525.82" width="17.46" height="2.09" fill="#6c68b2"/>
<rect x="602.37" y="527.85" width="17.46" height="4.12" fill="#d5cfe6"/>
<rect x="602.37" y="531.92" width="17.46" height="2.09" fill="#a197cb"/>
<rect x="602.37" y="533.96" width="17.46" height="2.09" fill="#6c68b2"/>
<rect x="602.37" y="536.00" width="17.46" height="2.09" fill="#a197cb"/>
<rect x="602.37" y="538.03" width="17.46" height="2.09" fill="#6c68b2"/>
<rect x="602.37" y="540.07" width="17.46" height="2.09" fill="#d5cfe6"/>
<rect x="602.37" y="542.10" width="17.46" height="2.09" fill="#a197cb"/>
<rect x="602.37" y="544.14" width="17.46" height="4.12" fill="#d5cfe6"/>
<rect x="602.37" y="548.21" width="17.46" height="2.09" fill="#6c68b2"/>
<rect x="602.37" y="550.25" width="17.46" height="4.12" fill="#a197cb"/>
<rect x="602.37" y="554.32" width="17.46" height="2.09" fill="#d5cfe6"/>
<rect x="602.37" y="556.36" width="17.46" height="4.12" fill="#a197cb"/>
<rect x="602.37" y="560.43" width="17.46" height="2.09" fill="#f9d8ce"/>
<rect x="602.37" y="562.46" width="17.46" height="4.12" fill="#6c68b2"/>
<rect x="602.37" y="566.54" width="17.46" height="4.12" fill="#a197cb"/>
<rect x="602.37" y="570.61" width="17.46" height="4.12" fill="#6c68b2"/>
<rect x="602.37" y="574.68" width="17.46" height="2.09" fill="#d5cfe6"/>
<rect x="602.37" y="576.72" width="17.46" height="2.09" fill="#6c68b2"/>
<rect x="602.37" y="578.75" width="17.46" height="2.09" fill="#f18b71"/>
<rect x="602.37" y="580.79" width="17.46" height="2.09" fill="#d5cfe6"/>
<rect x="602.37" y="582.82" width="17.46" height="2.09" fill="#fcfafa"/>
<rect x="602.37" y="584.86" width="17.46" height="4.12" fill="#a197cb"/>
<rect x="602.37" y="588.93" width="17.46" height="2.09" fill="#d5cfe6"/>
<rect x="602.37" y="590.97" width="17.46" height="4.12" fill="#6c68b2"/>
<rect x="602.37" y="595.04" width="17.46" height="2.09" fill="#a197cb"/>
<rect x="602.37" y="597.08" width="17.46" height="2.09" fill="#f9d8ce"/>
<rect x="602.37" y="599.11" width="17.46" height="2.09" fill="#6c68b2"/>
<rect x="602.37" y="601.15" width="17.46" height="2.09" fill="#d5cfe6"/>
<rect x="602.37" y="603.18" width="17.46" height="2.09" fill="#f9d8ce"/>
<rect x="602.37" y="605.22" width="17.46" height="2.09" fill="#fcfafa"/>
<rect x="602.37" y="607.26" width="17.46" height="6.16" fill="#6c68b2"/>
<rect x="602.37" y="613.36" width="17.46" height="2.09" fill="#a197cb"/>
<rect x="619.78" y="208.20" width="17.46" height="8.19" fill="#d5cfe6"/>
<rect x="619.78" y="216.34" width="17.46" height="2.09" fill="#fcfafa"/>
<rect x="619.78" y="218.38" width="17.46" height="4.12" fill="#4b4fa6"/>
<rect x="619.78" y="222.45" width="17.46" height="4.12" fill="#6c68b2"/>
<rect x="619.78" y="226.52" width="17.46" height="2.09" fill="#a197cb"/>
<rect x="619.78" y="228.56" width="17.46" height="2.09" fill="#d5cfe6"/>
<rect x="619.78" y="230.60" width="17.46" height="2.09" fill="#fcfafa"/>
<rect x="619.78" y="232.63" width="17.46" height="4.12" fill="#a197cb"/>
<rect x="619.78" y="236.70" width="17.46" height="4.12" fill="#fcfafa"/>
<rect x="619.78" y="240.78" width="17.46" height="2.09" fill="#d5cfe6"/>
<rect x="619.78" y="242.81" width="17.46" height="2.09" fill="#f9d8ce"/>
<rect x="619.78" y="244.85" width="17.46" height="2.09" fill="#d5cfe6"/>
<rect x="619.78" y="246.88" width="17.46" height="6.16" fill="#a197cb"/>
<rect x="619.78" y="252.99" width="17.46" height="2.09" fill="#d5cfe6"/>
<rect x="619.78" y="255.03" width="17.46" height="8.19" fill="#a197cb"/>
<rect x="619.78" y="263.17" width="17.46" height="6.16" fill="#d5cfe6"/>
<rect x="619.78" y="269.28" width="17.46" height="6.16" fill="#6c68b2"/>
<rect x="619.78" y="275.39" width="17.46" height="8.19" fill="#a197cb"/>
<rect x="619.78" y="283.53" width="17.46" height="2.09" fill="#4b4fa6"/>
<rect x="619.78" y="285.57" width="17.46" height="2.09" fill="#fcfafa"/>
<rect x="619.78" y="287.60" width="17.46" height="2.09" fill="#d5cfe6"/>
<rect x="619.78" y="289.64" width="17.46" height="2.09" fill="#a197cb"/>
<rect x="619.78" y="291.68" width="17.46" height="2.09" fill="#d5cfe6"/>
<rect x="619.78" y="293.71" width="17.46" height="4.12" fill="#6c68b2"/>
<rect x="619.78" y="297.78" width="17.46" height="2.09" fill="#a197cb"/>
<rect x="619.78" y="299.82" width="17.46" height="2.09" fill="#fcfafa"/>
<rect x="619.78" y="301.86" width="17.46" height="2.09" fill="#6c68b2"/>
<rect x="619.78" y="303.89" width="17.46" height="2.09" fill="#a197cb"/>
<rect x="619.78" y="305.93" width="17.46" height="6.16" fill="#4b4fa6"/>
<rect x="619.78" y="312.04" width="17.46" height="6.16" fill="#a197cb"/>
<rect x="619.78" y="318.14" width="17.46" height="2.09" fill="#d5cfe6"/>
<rect x="619.78" y="320.18" width="17.46" height="2.09" fill="#f9d8ce"/>
<rect x="619.78" y="322.22" width="17.46" height="2.09" fill="#fcfafa"/>
<rect x="619.78" y="324.25" width="17.46" height="2.09" fill="#f18b71"/>
<rect x="619.78" y="326.29" width="17.46" height="2.09" fill="#f7b29c"/>
<rect x="619.78" y="328.32" width="17.46" height="2.09" fill="#fcfafa"/>
<rect x="619.78" y="330.36" width="17.46" height="2.09" fill="#f9d8ce"/>
<rect x="619.78" y="332.40" width="17.46" height="2.09" fill="#fcfafa"/>
<rect x="619.78" y="334.43" width="17.46" height="2.09" fill="#f9d8ce"/>
<rect x="619.78" y="336.47" width="17.46" height="2.09" fill="#d5cfe6"/>
<rect x="619.78" y="338.50" width="17.46" height="2.09" fill="#6c68b2"/>
<rect x="619.78" y="340.54" width="17.46" height="2.09" fill="#fcfafa"/>
<rect x="619.78" y="342.58" width="17.46" height="2.09" fill="#d5cfe6"/>
<rect x="619.78" y="344.61" width="17.46" height="2.09" fill="#f7b29c"/>
<rect x="619.78" y="346.65" width="17.46" height="2.09" fill="#a197cb"/>
<rect x="619.78" y="348.68" width="17.46" height="2.09" fill="#6c68b2"/>
<rect x="619.78" y="350.72" width="17.46" height="4.12" fill="#f9d8ce"/>
<rect x="619.78" y="354.79" width="17.46" height="2.09" fill="#a197cb"/>
<rect x="619.78" y="356.83" width="17.46" height="2.09" fill="#fcfafa"/>
<rect x="619.78" y="358.86" width="17.46" height="2.09" fill="#4b4fa6"/>
<rect x="619.78" y="360.90" width="17.46" height="2.09" fill="#a197cb"/>
<rect x="619.78" y="362.94" width="17.46" height="2.09" fill="#4b4fa6"/>
<rect x="619.78" y="364.97" width="17.46" height="2.09" fill="#f9d8ce"/>
<rect x="619.78" y="367.01" width="17.46" height="4.12" fill="#f7b29c"/>
<rect x="619.78" y="371.08" width="17.46" height="2.09" fill="#f9d8ce"/>
<rect x="619.78" y="373.12" width="17.46" height="2.09" fill="#a197cb"/>
<rect x="619.78" y="375.15" width="17.46" height="2.09" fill="#d5cfe6"/>
<rect x="619.78" y="377.19" width="17.46" height="4.12" fill="#f9d8ce"/>
<rect x="619.78" y="381.26" width="17.46" height="2.09" fill="#d5cfe6"/>
<rect x="619.78" y="383.30" width="17.46" height="12.27" fill="#a197cb"/>
<rect x="619.78" y="395.51" width="17.46" height="2.09" fill="#4b4fa6"/>
<rect x="619.78" y="397.55" width="17.46" height="2.09" fill="#f7b29c"/>
<rect x="619.78" y="399.58" width="17.46" height="4.12" fill="#d5cfe6"/>
<rect x="619.78" y="403.66" width="17.46" height="2.09" fill="#f18b71"/>
<rect x="619.78" y="405.69" width="17.46" height="4.12" fill="#d5cfe6"/>
<rect x="619.78" y="409.76" width="17.46" height="2.09" fill="#f7b29c"/>
<rect x="619.78" y="411.80" width="17.46" height="2.09" fill="#a197cb"/>
<rect x="619.78" y="413.84" width="17.46" height="2.09" fill="#d5cfe6"/>
<rect x="619.78" y="415.87" width="17.46" height="4.12" fill="#a197cb"/>
<rect x="619.78" y="419.94" width="17.46" height="4.12" fill="#d5cfe6"/>
<rect x="619.78" y="424.02" width="17.46" height="2.09" fill="#f7b29c"/>
<rect x="619.78" y="426.05" width="17.46" height="2.09" fill="#a197cb"/>
<rect x="619.78" y="428.09" width="17.46" height="2.09" fill="#6c68b2"/>
<rect x="619.78" y="430.12" width="17.46" height="2.09" fill="#b8b8b8"/>
<rect x="619.78" y="432.16" width="17.46" height="2.09" fill="#a197cb"/>
<rect x="619.78" y="434.20" width="17.46" height="2.09" fill="#6c68b2"/>
<rect x="619.78" y="436.23" width="17.46" height="2.09" fill="#f9d8ce"/>
<rect x="619.78" y="438.27" width="17.46" height="4.12" fill="#a197cb"/>
<rect x="619.78" y="442.34" width="17.46" height="2.09" fill="#6c68b2"/>
<rect x="619.78" y="444.38" width="17.46" height="2.09" fill="#a197cb"/>
<rect x="619.78" y="446.41" width="17.46" height="2.09" fill="#d5cfe6"/>
<rect x="619.78" y="448.45" width="17.46" height="4.12" fill="#6c68b2"/>
<rect x="619.78" y="452.52" width="17.46" height="2.09" fill="#a197cb"/>
<rect x="619.78" y="454.56" width="17.46" height="4.12" fill="#6c68b2"/>
<rect x="619.78" y="458.63" width="17.46" height="4.12" fill="#a197cb"/>
<rect x="619.78" y="462.70" width="17.46" height="2.09" fill="#d5cfe6"/>
<rect x="619.78" y="464.74" width="17.46" height="2.09" fill="#a197cb"/>
<rect x="619.78" y="466.77" width="17.46" height="2.09" fill="#d5cfe6"/>
<rect x="619.78" y="468.81" width="17.46" height="2.09" fill="#a197cb"/>
<rect x="619.78" y="470.84" width="17.46" height="2.09" fill="#6c68b2"/>
<rect x="619.78" y="472.88" width="17.46" height="8.19" fill="#a197cb"/>
<rect x="619.78" y="481.02" width="17.46" height="2.09" fill="#f9d8ce"/>
<rect x="619.78" y="483.06" width="17.46" height="2.09" fill="#d5cfe6"/>
<rect x="619.78" y="485.10" width="17.46" height="2.09" fill="#a197cb"/>
<rect x="619.78" y="487.13" width="17.46" height="2.09" fill="#d5cfe6"/>
<rect x="619.78" y="489.17" width="17.46" height="4.12" fill="#a197cb"/>
<rect x="619.78" y="493.24" width="17.46" height="2.09" fill="#6c68b2"/>
<rect x="619.78" y="495.28" width="17.46" height="2.09" fill="#a197cb"/>
<rect x="619.78" y="497.31" width="17.46" height="12.27" fill="#6c68b2"/>
<rect x="619.78" y="509.53" width="17.46" height="2.09" fill="#a197cb"/>
<rect x="619.78" y="511.56" width="17.46" height="2.09" fill="#6c68b2"/>
<rect x="619.78" y="513.60" width="17.46" height="2.09" fill="#a197cb"/>
<rect x="619.78" y="515.64" width="17.46" height="2.09" fill="#d5cfe6"/>
<rect x="619.78" y="517.67" width="17.46" height="4.12" fill="#4b4fa6"/>
<rect x="619.78" y="521.74" width="17.46" height="2.09" fill="#ea5c42"/>
<rect x="619.78" y="523.78" width="17.46" height="2.09" fill="#d5cfe6"/>
<rect x="619.78" y="525.82" width="17.46" height="2.09" fill="#a197cb"/>
<rect x="619.78" y="527.85" width="17.46" height="4.12" fill="#d5cfe6"/>
<rect x="619.78" y="531.92" width="17.46" height="2.09" fill="#f9d8ce"/>
<rect x="619.78" y="533.96" width="17.46" height="4.12" fill="#a197cb"/>
<rect x="619.78" y="538.03" width="17.46" height="2.09" fill="#6c68b2"/>
<rect x="619.78" y="540.07" width="17.46" height="4.12" fill="#a197cb"/>
<rect x="619.78" y="544.14" width="17.46" height="2.09" fill="#6c68b2"/>
<rect x="619.78" y="546.18" width="17.46" height="2.09" fill="#a197cb"/>
<rect x="619.78" y="548.21" width="17.46" height="2.09" fill="#d5cfe6"/>
<rect x="619.78" y="550.25" width="17.46" height="2.09" fill="#f7b29c"/>
<rect x="619.78" y="552.28" width="17.46" height="4.12" fill="#d5cfe6"/>
<rect x="619.78" y="556.36" width="17.46" height="6.16" fill="#a197cb"/>
<rect x="619.78" y="562.46" width="17.46" height="2.09" fill="#6c68b2"/>
<rect x="619.78" y="564.50" width="17.46" height="2.09" fill="#fcfafa"/>
<rect x="619.78" y="566.54" width="17.46" height="2.09" fill="#a197cb"/>
<rect x="619.78" y="568.57" width="17.46" height="2.09" fill="#6c68b2"/>
<rect x="619.78" y="570.61" width="17.46" height="4.12" fill="#a197cb"/>
<rect x="619.78" y="574.68" width="17.46" height="4.12" fill="#4b4fa6"/>
<rect x="619.78" y="578.75" width="17.46" height="2.09" fill="#fcfafa"/>
<rect x="619.78" y="580.79" width="17.46" height="8.19" fill="#6c68b2"/>
<rect x="619.78" y="588.93" width="17.46" height="12.27" fill="#b8b8b8"/>
<rect x="619.78" y="601.15" width="17.46" height="2.09" fill="#6c68b2"/>
<rect x="619.78" y="603.18" width="17.46" height="2.09" fill="#4b4fa6"/>
<rect x="619.78" y="605.22" width="17.46" height="2.09" fill="#6c68b2"/>
<rect x="619.78" y="607.26" width="17.46" height="2.09" fill="#a197cb"/>
<rect x="619.78" y="609.29" width="17.46" height="6.16" fill="#6c68b2"/>
<rect x="637.19" y="208.20" width="17.46" height="2.09" fill="#a197cb"/>
<rect x="637.19" y="210.24" width="17.46" height="2.09" fill="#4b4fa6"/>
<rect x="637.19" y="212.27" width="17.46" height="4.12" fill="#6c68b2"/>
<rect x="637.19" y="216.34" width="17.46" height="4.12" fill="#d5cfe6"/>
<rect x="637.19" y="220.42" width="17.46" height="2.09" fill="#f7b29c"/>
<rect x="637.19" y="222.45" width="17.46" height="4.12" fill="#d5cfe6"/>
<rect x="637.19" y="226.52" width="17.46" height="2.09" fill="#fcfafa"/>
<rect x="637.19" y="228.56" width="17.46" height="2.09" fill="#d5cfe6"/>
<rect x="637.19" y="230.60" width="17.46" height="2.09" fill="#a197cb"/>
<rect x="637.19" y="232.63" width="17.46" height="2.09" fill="#d5cfe6"/>
<rect x="637.19" y="234.67" width="17.46" height="2.09" fill="#a197cb"/>
<rect x="637.19" y="236.70" width="17.46" height="6.16" fill="#d5cfe6"/>
<rect x="637.19" y="242.81" width="17.46" height="2.09" fill="#6c68b2"/>
<rect x="637.19" y="244.85" width="17.46" height="2.09" fill="#f9d8ce"/>
<rect x="637.19" y="246.88" width="17.46" height="2.09" fill="#f7b29c"/>
<rect x="637.19" y="248.92" width="17.46" height="2.09" fill="#a197cb"/>
<rect x="637.19" y="250.96" width="17.46" height="2.09" fill="#fcfafa"/>
<rect x="637.19" y="252.99" width="17.46" height="2.09" fill="#d5cfe6"/>
<rect x="637.19" y="255.03" width="17.46" height="4.12" fill="#f9d8ce"/>
<rect x="637.19" y="259.10" width="17.46" height="2.09" fill="#4b4fa6"/>
<rect x="637.19" y="261.14" width="17.46" height="4.12" fill="#fcfafa"/>
<rect x="637.19" y="265.21" width="17.46" height="2.09" fill="#6c68b2"/>
<rect x="637.19" y="267.24" width="17.46" height="2.09" fill="#fcfafa"/>
<rect x="637.19" y="269.28" width="17.46" height="2.09" fill="#a197cb"/>
<rect x="637.19" y="271.32" width="17.46" height="2.09" fill="#fcfafa"/>
<rect x="637.19" y="273.35" width="17.46" height="6.16" fill="#a197cb"/>
<rect x="637.19" y="279.46" width="17.46" height="6.16" fill="#6c68b2"/>
<rect x="637.19" y="285.57" width="17.46" height="2.09" fill="#fcfafa"/>
<rect x="637.19" y="287.60" width="17.46" height="2.09" fill="#a197cb"/>
<rect x="637.19" y="289.64" width="17.46" height="2.09" fill="#6c68b2"/>
<rect x="637.19" y="291.68" width="17.46" height="4.12" fill="#a197cb"/>
<rect x="637.19" y="295.75" width="17.46" height="2.09" fill="#d6201e"/>
<rect x="637.19" y="297.78" width="17.46" height="4.12" fill="#f7b29c"/>
<rect x="637.19" y="301.86" width="17.46" height="2.09" fill="#d5cfe6"/>
<rect x="637.19" y="303.89" width="17.46" height="2.09" fill="#f7b29c"/>
<rect x="637.19" y="305.93" width="17.46" height="2.09" fill="#f9d8ce"/>
<rect x="637.19" y="307.96" width="17.46" height="2.09" fill="#f7b29c"/>
<rect x="637.19" y="310.00" width="17.46" height="2.09" fill="#f9d8ce"/>
<rect x="637.19" y="312.04" width="17.46" height="2.09" fill="#fcfafa"/>
<rect x="637.19" y="314.07" width="17.46" height="2.09" fill="#ea5c42"/>
<rect x="637.19" y="316.11" width="17.46" height="4.12" fill="#d5cfe6"/>
<rect x="637.19" y="320.18" width="17.46" height="4.12" fill="#fcfafa"/>
<rect x="637.19" y="324.25" width="17.46" height="2.09" fill="#6c68b2"/>
<rect x="637.19" y="326.29" width="17.46" height="2.09" fill="#ea5c42"/>
<rect x="637.19" y="328.32" width="17.46" height="2.09" fill="#d5cfe6"/>
<rect x="637.19" y="330.36" width="17.46" height="2.09" fill="#f18b71"/>
<rect x="637.19" y="332.40" width="17.46" height="2.09" fill="#a197cb"/>
<rect x="637.19" y="334.43" width="17.46" height="4.12" fill="#f18b71"/>
<rect x="637.19" y="338.50" width="17.46" height="2.09" fill="#f9d8ce"/>
<rect x="637.19" y="340.54" width="17.46" height="2.09" fill="#f7b29c"/>
<rect x="637.19" y="342.58" width="17.46" height="2.09" fill="#d5cfe6"/>
<rect x="637.19" y="344.61" width="17.46" height="2.09" fill="#fcfafa"/>
<rect x="637.19" y="346.65" width="17.46" height="2.09" fill="#d6201e"/>
<rect x="637.19" y="348.68" width="17.46" height="4.12" fill="#d5cfe6"/>
<rect x="637.19" y="352.76" width="17.46" height="2.09" fill="#f7b29c"/>
<rect x="637.19" y="354.79" width="17.46" height="2.09" fill="#f9d8ce"/>
<rect x="637.19" y="356.83" width="17.46" height="2.09" fill="#f18b71"/>
<rect x="637.19" y="358.86" width="17.46" height="2.09" fill="#4b4fa6"/>
<rect x="637.19" y="360.90" width="17.46" height="2.09" fill="#d6201e"/>
<rect x="637.19" y="362.94" width="17.46" height="4.12" fill="#f18b71"/>
<rect x="637.19" y="367.01" width="17.46" height="2.09" fill="#d5cfe6"/>
<rect x="637.19" y="369.04" width="17.46" height="2.09" fill="#fcfafa"/>
<rect x="637.19" y="371.08" width="17.46" height="2.09" fill="#f18b71"/>
<rect x="637.19" y="373.12" width="17.46" height="2.09" fill="#f7b29c"/>
<rect x="637.19" y="375.15" width="17.46" height="2.09" fill="#a197cb"/>
<rect x="637.19" y="377.19" width="17.46" height="4.12" fill="#f9d8ce"/>
<rect x="637.19" y="381.26" width="17.46" height="2.09" fill="#fcfafa"/>
<rect x="637.19" y="383.30" width="17.46" height="2.09" fill="#f9d8ce"/>
<rect x="637.19" y="385.33" width="17.46" height="2.09" fill="#d5cfe6"/>
<rect x="637.19" y="387.37" width="17.46" height="2.09" fill="#a197cb"/>
<rect x="637.19" y="389.40" width="17.46" height="4.12" fill="#d5cfe6"/>
<rect x="637.19" y="393.48" width="17.46" height="2.09" fill="#f7b29c"/>
<rect x="637.19" y="395.51" width="17.46" height="2.09" fill="#fcfafa"/>
<rect x="637.19" y="397.55" width="17.46" height="2.09" fill="#6c68b2"/>
<rect x="637.19" y="399.58" width="17.46" height="2.09" fill="#fcfafa"/>
<rect x="637.19" y="401.62" width="17.46" height="2.09" fill="#4b4fa6"/>
<rect x="637.19" y="403.66" width="17.46" height="4.12" fill="#b8b8b8"/>
<rect x="637.19" y="407.73" width="17.46" height="2.09" fill="#6c68b2"/>
<rect x="637.19" y="409.76" width="17.46" height="2.09" fill="#f9d8ce"/>
<rect x="637.19" y="411.80" width="17.46" height="2.09" fill="#a197cb"/>
<rect x="637.19" y="413.84" width="17.46" height="4.12" fill="#6c68b2"/>
<rect x="637.19" y="417.91" width="17.46" height="4.12" fill="#a197cb"/>
<rect x="637.19" y="421.98" width="17.46" height="2.09" fill="#fcfafa"/>
<rect x="637.19" y="424.02" width="17.46" height="6.16" fill="#a197cb"/>
<rect x="637.19" y="430.12" width="17.46" height="2.09" fill="#b8b8b8"/>
<rect x="637.19" y="432.16" width="17.46" height="4.12" fill="#6c68b2"/>
<rect x="637.19" y="436.23" width="17.46" height="2.09" fill="#4b4fa6"/>
<rect x="637.19" y="438.27" width="17.46" height="2.09" fill="#a197cb"/>
<rect x="637.19" y="440.30" width="17.46" height="2.09" fill="#6c68b2"/>
<rect x="637.19" y="442.34" width="17.46" height="4.12" fill="#a197cb"/>
<rect x="637.19" y="446.41" width="17.46" height="2.09" fill="#6c68b2"/>
<rect x="637.19" y="448.45" width="17.46" height="6.16" fill="#a197cb"/>
<rect x="637.19" y="454.56" width="17.46" height="2.09" fill="#d5cfe6"/>
<rect x="637.19" y="456.59" width="17.46" height="2.09" fill="#a197cb"/>
<rect x="637.19" y="458.63" width="17.46" height="4.12" fill="#6c68b2"/>
<rect x="637.19" y="462.70" width="17.46" height="4.12" fill="#a197cb"/>
<rect x="637.19" y="466.77" width="17.46" height="2.09" fill="#6c68b2"/>
<rect x="637.19" y="468.81" width="17.46" height="2.09" fill="#a197cb"/>
<rect x="637.19" y="470.84" width="17.46" height="4.12" fill="#d5cfe6"/>
<rect x="637.19" y="474.92" width="17.46" height="2.09" fill="#fcfafa"/>
<rect x="637.19" y="476.95" width="17.46" height="2.09" fill="#a197cb"/>
<rect x="637.19" y="478.99" width="17.46" height="2.09" fill="#6c68b2"/>
<rect x="637.19" y="481.02" width="17.46" height="2.09" fill="#a197cb"/>
<rect x="637.19" y="483.06" width="17.46" height="2.09" fill="#d5cfe6"/>
<rect x="637.19" y="485.10" width="17.46" height="4.12" fill="#a197cb"/>
<rect x="637.19" y="489.17" width="17.46" height="2.09" fill="#6c68b2"/>
<rect x="637.19" y="491.20" width="17.46" height="4.12" fill="#a197cb"/>
<rect x="637.19" y="495.28" width="17.46" height="2.09" fill="#d5cfe6"/>
<rect x="637.19" y="497.31" width="17.46" height="2.09" fill="#fcfafa"/>
<rect x="637.19" y="499.35" width="17.46" height="2.09" fill="#f7b29c"/>
<rect x="637.19" y="501.38" width="17.46" height="2.09" fill="#f9d8ce"/>
<rect x="637.19" y="503.42" width="17.46" height="2.09" fill="#fcfafa"/>
<rect x="637.19" y="505.46" width="17.46" height="2.09" fill="#d5cfe6"/>
<rect x="637.19" y="507.49" width="17.46" height="2.09" fill="#a197cb"/>
<rect x="637.19" y="509.53" width="17.46" height="2.09" fill="#d5cfe6"/>
<rect x="637.19" y="511.56" width="17.46" height="2.09" fill="#a197cb"/>
<rect x="637.19" y="513.60" width="17.46" height="2.09" fill="#fcfafa"/>
<rect x="637.19" y="515.64" width="17.46" height="2.09" fill="#f7b29c"/>
<rect x="637.19" y="517.67" width="17.46" height="2.09" fill="#f9d8ce"/>
<rect x="637.19" y="519.71" width="17.46" height="4.12" fill="#fcfafa"/>
<rect x="637.19" y="523.78" width="17.46" height="2.09" fill="#f9d8ce"/>
<rect x="637.19" y="525.82" width="17.46" height="2.09" fill="#fcfafa"/>
<rect x="637.19" y="527.85" width="17.46" height="2.09" fill="#6c68b2"/>
<rect x="637.19" y="529.89" width="17.46" height="2.09" fill="#4b4fa6"/>
<rect x="637.19" y="531.92" width="17.46" height="2.09" fill="#6c68b2"/>
<rect x="637.19" y="533.96" width="17.46" height="6.16" fill="#b8b8b8"/>
<rect x="637.19" y="540.07" width="17.46" height="4.12" fill="#6c68b2"/>
<rect x="637.19" y="544.14" width="17.46" height="2.09" fill="#b8b8b8"/>
<rect x="637.19" y="546.18" width="17.46" height="8.19" fill="#6c68b2"/>
<rect x="637.19" y="554.32" width="17.46" height="2.09" fill="#a197cb"/>
<rect x="637.19" y="556.36" width="17.46" height="2.09" fill="#6c68b2"/>
<rect x="637.19" y="558.39" width="17.46" height="4.12" fill="#a197cb"/>
<rect x="637.19" y="562.46" width="17.46" height="2.09" fill="#fcfafa"/>
<rect x="637.19" y="564.50" width="17.46" height="2.09" fill="#d5cfe6"/>
<rect x="637.19" y="566.54" width="17.46" height="2.09" fill="#f9d8ce"/>
<rect x="637.19" y="568.57" width="17.46" height="4.12" fill="#d5cfe6"/>
<rect x="637.19" y="572.64" width="17.46" height="2.09" fill="#a197cb"/>
<rect x="637.19" y="574.68" width="17.46" height="2.09" fill="#d5cfe6"/>
<rect x="637.19" y="576.72" width="17.46" height="2.09" fill="#f9d8ce"/>
<rect x="637.19" y="578.75" width="17.46" height="2.09" fill="#ea5c42"/>
<rect x="637.19" y="580.79" width="17.46" height="2.09" fill="#fcfafa"/>
<rect x="637.19" y="582.82" width="17.46" height="4.12" fill="#a197cb"/>
<rect x="637.19" y="586.90" width="17.46" height="2.09" fill="#6c68b2"/>
<rect x="637.19" y="588.93" width="17.46" height="2.09" fill="#4b4fa6"/>
<rect x="637.19" y="590.97" width="17.46" height="2.09" fill="#d5cfe6"/>
<rect x="637.19" y="593.00" width="17.46" height="2.09" fill="#6c68b2"/>
<rect x="637.19" y="595.04" width="17.46" height="4.12" fill="#4b4fa6"/>
<rect x="637.19" y="599.11" width="17.46" height="2.09" fill="#f9d8ce"/>
<rect x="637.19" y="601.15" width="17.46" height="4.12" fill="#a197cb"/>
<rect x="637.19" y="605.22" width="17.46" height="2.09" fill="#6c68b2"/>
<rect x="637.19" y="607.26" width="17.46" height="2.09" fill="#fcfafa"/>
<rect x="637.19" y="609.29" width="17.46" height="4.12" fill="#f9d8ce"/>
<rect x="637.19" y="613.36" width="17.46" height="2.09" fill="#d5cfe6"/>
<rect x="467.00" y="208.20" width="8.00" height="407.20" fill="#3e4ca6"/>
<rect x="467.00" y="218.00" width="8.00" height="2.00" fill="#6c68b2"/>
<rect x="467.00" y="222.20" width="8.00" height="1.80" fill="#a197cb"/>
<rect x="467.00" y="228.00" width="8.00" height="8.00" fill="#6c68b2"/>
<rect x="467.00" y="238.40" width="8.00" height="9.90" fill="#384aa6"/>
<rect x="467.00" y="248.50" width="8.00" height="2.00" fill="#a197cb"/>
<rect x="467.00" y="260.70" width="8.00" height="2.10" fill="#a197cb"/>
<rect x="467.00" y="273.30" width="8.00" height="1.70" fill="#d6201e"/>
<rect x="467.00" y="284.00" width="8.00" height="1.40" fill="#a197cb"/>
<rect x="467.00" y="291.80" width="8.00" height="2.10" fill="#f7b29c"/>
<rect x="467.00" y="301.80" width="8.00" height="2.30" fill="#f18b71"/>
<rect x="467.00" y="316.00" width="8.00" height="1.80" fill="#a197cb"/>
<rect x="467.00" y="325.00" width="8.00" height="2.00" fill="#6c68b2"/>
<rect x="467.00" y="333.00" width="8.00" height="2.00" fill="#6c68b2"/>
<rect x="467.00" y="358.90" width="8.00" height="1.80" fill="#a197cb"/>
<rect x="467.00" y="365.20" width="8.00" height="1.90" fill="#d5cfe6"/>
<rect x="467.00" y="367.10" width="8.00" height="8.20" fill="#6c68b2"/>
<rect x="467.00" y="375.30" width="8.00" height="1.80" fill="#a197cb"/>
<rect x="467.00" y="383.00" width="8.00" height="2.30" fill="#d5cfe6"/>
<rect x="467.00" y="392.00" width="8.00" height="3.00" fill="#6c68b2"/>
<rect x="467.00" y="415.90" width="8.00" height="2.10" fill="#ea5c42"/>
<rect x="467.00" y="421.90" width="8.00" height="2.20" fill="#f9d8ce"/>
<rect x="467.00" y="424.10" width="8.00" height="1.90" fill="#d5cfe6"/>
<rect x="467.00" y="426.00" width="8.00" height="4.00" fill="#a197cb"/>
<rect x="467.00" y="432.30" width="8.00" height="4.10" fill="#6c68b2"/>
<rect x="467.00" y="438.30" width="8.00" height="5.40" fill="#d5cfe6"/>
<rect x="467.00" y="443.70" width="8.00" height="2.30" fill="#6c68b2"/>
<rect x="467.00" y="446.00" width="8.00" height="1.80" fill="#a197cb"/>
<rect x="467.00" y="447.80" width="8.00" height="2.80" fill="#d5cfe6"/>
<rect x="467.00" y="457.90" width="8.00" height="2.70" fill="#d6201e"/>
<rect x="467.00" y="468.30" width="8.00" height="2.30" fill="#f9d8ce"/>
<rect x="467.00" y="470.60" width="8.00" height="7.40" fill="#6c68b2"/>
<rect x="467.00" y="483.00" width="8.00" height="1.80" fill="#a197cb"/>
<rect x="467.00" y="496.00" width="8.00" height="2.00" fill="#6c68b2"/>
<rect x="467.00" y="505.30" width="8.00" height="2.10" fill="#f7b29c"/>
<rect x="467.00" y="507.40" width="8.00" height="1.60" fill="#6c68b2"/>
<rect x="467.00" y="509.00" width="8.00" height="2.00" fill="#a197cb"/>
<rect x="467.00" y="520.00" width="8.00" height="2.00" fill="#6c68b2"/>
<rect x="467.00" y="549.60" width="8.00" height="2.30" fill="#a197cb"/>
<rect x="467.00" y="558.00" width="8.00" height="2.00" fill="#6c68b2"/>
<rect x="467.00" y="566.50" width="8.00" height="2.30" fill="#a197cb"/>
<rect x="467.00" y="576.10" width="8.00" height="2.30" fill="#a197cb"/>
<rect x="467.00" y="578.40" width="8.00" height="6.80" fill="#6c68b2"/>
<rect x="467.00" y="585.20" width="8.00" height="1.60" fill="#d5cfe6"/>
<rect x="467.00" y="586.80" width="8.00" height="2.00" fill="#d6201e"/>
<rect x="467.00" y="594.80" width="8.00" height="2.20" fill="#a197cb"/>
<rect x="467.00" y="600.00" width="8.00" height="2.00" fill="#6c68b2"/>
<rect x="467.00" y="608.00" width="8.00" height="2.00" fill="#6c68b2"/>
<rect x="467.00" y="613.40" width="8.00" height="2.00" fill="#a197cb"/>
<rect x="477.50" y="208.20" width="7.80" height="6.20" fill="#f4a324"/>
<rect x="477.50" y="217.90" width="7.80" height="6.10" fill="#f4a324"/>
<rect x="477.50" y="226.80" width="7.80" height="7.90" fill="#f4a324"/>
<rect x="477.50" y="236.80" width="7.80" height="4.00" fill="#f4a324"/>
<rect x="477.50" y="242.70" width="7.80" height="2.30" fill="#f4a324"/>
<rect x="477.50" y="247.00" width="7.80" height="10.00" fill="#f4a324"/>
<rect x="477.50" y="258.90" width="7.80" height="12.30" fill="#f4a324"/>
<rect x="477.50" y="275.30" width="7.80" height="10.40" fill="#f4a324"/>
<rect x="477.50" y="287.90" width="7.80" height="3.90" fill="#f4a324"/>
<rect x="477.50" y="298.20" width="7.80" height="5.70" fill="#f4a324"/>
<rect x="477.50" y="305.90" width="7.80" height="3.90" fill="#f4a324"/>
<rect x="477.50" y="312.10" width="7.80" height="7.80" fill="#f4a324"/>
<rect x="477.50" y="322.10" width="7.80" height="3.90" fill="#f4a324"/>
<rect x="477.50" y="328.40" width="7.80" height="7.60" fill="#f4a324"/>
<rect x="477.50" y="338.70" width="7.80" height="1.40" fill="#f4a324"/>
<rect x="477.50" y="342.40" width="7.80" height="2.30" fill="#f4a324"/>
<rect x="477.50" y="346.60" width="7.80" height="4.10" fill="#f4a324"/>
<rect x="477.50" y="352.90" width="7.80" height="3.90" fill="#f4a324"/>
<rect x="477.50" y="360.70" width="7.80" height="4.10" fill="#f4a324"/>
<rect x="477.50" y="366.80" width="7.80" height="2.10" fill="#f4a324"/>
<rect x="477.50" y="371.00" width="7.80" height="14.00" fill="#f4a324"/>
<rect x="477.50" y="387.60" width="7.80" height="1.60" fill="#f4a324"/>
<rect x="477.50" y="391.70" width="7.80" height="1.60" fill="#f4a324"/>
<rect x="477.50" y="395.60" width="7.80" height="3.80" fill="#f4a324"/>
<rect x="477.50" y="401.70" width="7.80" height="1.80" fill="#f4a324"/>
<rect x="477.50" y="405.80" width="7.80" height="2.00" fill="#f4a324"/>
<rect x="477.50" y="409.90" width="7.80" height="5.80" fill="#f4a324"/>
<rect x="477.50" y="419.80" width="7.80" height="9.80" fill="#f4a324"/>
<rect x="477.50" y="431.90" width="7.80" height="14.10" fill="#f4a324"/>
<rect x="477.50" y="448.10" width="7.80" height="4.30" fill="#f4a324"/>
<rect x="477.50" y="454.20" width="7.80" height="24.50" fill="#f4a324"/>
<rect x="477.50" y="483.00" width="7.80" height="26.00" fill="#f4a324"/>
<rect x="477.50" y="511.50" width="7.80" height="1.60" fill="#f4a324"/>
<rect x="477.50" y="515.60" width="7.80" height="9.80" fill="#f4a324"/>
<rect x="477.50" y="529.70" width="7.80" height="10.10" fill="#f4a324"/>
<rect x="477.50" y="543.60" width="7.80" height="14.30" fill="#f4a324"/>
<rect x="477.50" y="560.10" width="7.80" height="2.10" fill="#f4a324"/>
<rect x="477.50" y="564.20" width="7.80" height="2.00" fill="#f4a324"/>
<rect x="477.50" y="568.60" width="7.80" height="3.40" fill="#f4a324"/>
<rect x="477.50" y="574.70" width="7.80" height="1.60" fill="#f4a324"/>
<rect x="477.50" y="578.40" width="7.80" height="8.20" fill="#f4a324"/>
<rect x="477.50" y="588.80" width="7.80" height="6.00" fill="#f4a324"/>
<rect x="477.50" y="597.00" width="7.80" height="7.80" fill="#f4a324"/>
<rect x="477.50" y="606.90" width="7.80" height="2.00" fill="#f4a324"/>
<rect x="477.50" y="613.00" width="7.80" height="2.30" fill="#f4a324"/>
<rect x="487.80" y="208.20" width="7.40" height="77.50" fill="#000000"/>
<rect x="487.80" y="287.90" width="7.40" height="38.10" fill="#000000"/>
<rect x="487.80" y="328.40" width="7.40" height="40.50" fill="#000000"/>
<rect x="487.80" y="371.00" width="7.40" height="16.40" fill="#000000"/>
<rect x="487.80" y="389.20" width="7.40" height="2.50" fill="#000000"/>
<rect x="487.80" y="393.30" width="7.40" height="6.10" fill="#000000"/>
<rect x="487.80" y="401.70" width="7.40" height="50.70" fill="#000000"/>
<rect x="487.80" y="454.20" width="7.40" height="24.50" fill="#000000"/>
<rect x="487.80" y="481.00" width="7.40" height="7.80" fill="#000000"/>
<rect x="487.80" y="491.00" width="7.40" height="34.20" fill="#000000"/>
<rect x="487.80" y="528.00" width="7.40" height="25.70" fill="#000000"/>
<rect x="487.80" y="556.20" width="7.40" height="58.60" fill="#000000"/>
<line x1="316.4" y1="190.3" x2="342.9" y2="190.3" stroke="#6e6e6e" stroke-width="0.8"/>
<line x1="316.4" y1="190.3" x2="316.4" y2="199" stroke="#6e6e6e" stroke-width="0.8"/>
<line x1="334.3" y1="191.1" x2="351.5" y2="191.1" stroke="#6e6e6e" stroke-width="0.8"/>
<line x1="334.3" y1="191.1" x2="334.3" y2="199" stroke="#6e6e6e" stroke-width="0.8"/>
<line x1="351.5" y1="191.1" x2="351.5" y2="199" stroke="#6e6e6e" stroke-width="0.8"/>
<line x1="342.9" y1="190.3" x2="342.9" y2="191.1" stroke="#6e6e6e" stroke-width="0.8"/>
<line x1="368.3" y1="190.2" x2="386.6" y2="190.2" stroke="#6e6e6e" stroke-width="0.8"/>
<line x1="368.3" y1="190.2" x2="368.3" y2="199" stroke="#6e6e6e" stroke-width="0.8"/>
<line x1="386.6" y1="190.2" x2="386.6" y2="199" stroke="#6e6e6e" stroke-width="0.8"/>
<line x1="329.6" y1="188.3" x2="377.4" y2="188.3" stroke="#6e6e6e" stroke-width="0.8"/>
<line x1="329.6" y1="188.3" x2="329.6" y2="190.3" stroke="#6e6e6e" stroke-width="0.8"/>
<line x1="377.4" y1="188.3" x2="377.4" y2="190.2" stroke="#6e6e6e" stroke-width="0.8"/>
<line x1="353.5" y1="187.3" x2="403.5" y2="187.3" stroke="#6e6e6e" stroke-width="0.8"/>
<line x1="353.5" y1="187.3" x2="353.5" y2="188.3" stroke="#6e6e6e" stroke-width="0.8"/>
<line x1="403.5" y1="187.3" x2="403.5" y2="199" stroke="#6e6e6e" stroke-width="0.8"/>
<line x1="378.5" y1="184.4" x2="442.8" y2="184.4" stroke="#6e6e6e" stroke-width="0.8"/>
<line x1="378.5" y1="184.4" x2="378.5" y2="187.3" stroke="#6e6e6e" stroke-width="0.8"/>
<line x1="421.3" y1="188.5" x2="438.5" y2="188.5" stroke="#6e6e6e" stroke-width="0.8"/>
<line x1="421.3" y1="188.5" x2="421.3" y2="199" stroke="#6e6e6e" stroke-width="0.8"/>
<line x1="438.5" y1="188.5" x2="438.5" y2="199" stroke="#6e6e6e" stroke-width="0.8"/>
<line x1="429.9" y1="187.0" x2="455.6" y2="187.0" stroke="#6e6e6e" stroke-width="0.8"/>
<line x1="429.9" y1="187.0" x2="429.9" y2="188.5" stroke="#6e6e6e" stroke-width="0.8"/>
<line x1="455.6" y1="187.0" x2="455.6" y2="199" stroke="#6e6e6e" stroke-width="0.8"/>
<line x1="442.8" y1="184.4" x2="442.8" y2="187.0" stroke="#6e6e6e" stroke-width="0.8"/>
<path d="M306.0 209.5 H293.2 V211.5 H306.0" stroke="#6e6e6e" stroke-width="0.8" fill="none"/>
<path d="M306.0 213.5 H294.1 V215.5 H306.0" stroke="#6e6e6e" stroke-width="0.8" fill="none"/>
<path d="M294.1 214.5 H289.8 V217.5 H306.0" stroke="#6e6e6e" stroke-width="0.8" fill="none"/>
<path d="M293.2 210.5 H289.0 V216.0 H289.8" stroke="#6e6e6e" stroke-width="0.8" fill="none"/>
<path d="M306.0 221.5 H296.8 V223.5 H306.0" stroke="#6e6e6e" stroke-width="0.8" fill="none"/>
<path d="M306.0 219.5 H289.7 V222.5 H296.8" stroke="#6e6e6e" stroke-width="0.8" fill="none"/>
<path d="M306.0 227.5 H294.2 V229.5 H306.0" stroke="#6e6e6e" stroke-width="0.8" fill="none"/>
<path d="M306.0 225.5 H291.8 V228.5 H294.2" stroke="#6e6e6e" stroke-width="0.8" fill="none"/>
<path d="M291.8 227.0 H289.1 V231.5 H306.0" stroke="#6e6e6e" stroke-width="0.8" fill="none"/>
<path d="M289.7 221.0 H283.3 V229.2 H289.1" stroke="#6e6e6e" stroke-width="0.8" fill="none"/>
<path d="M289.0 213.2 H279.7 V225.1 H283.3" stroke="#6e6e6e" stroke-width="0.8" fill="none"/>
<path d="M306.0 241.5 H296.3 V243.5 H306.0" stroke="#6e6e6e" stroke-width="0.8" fill="none"/>
<path d="M306.0 239.5 H292.5 V242.5 H296.3" stroke="#6e6e6e" stroke-width="0.8" fill="none"/>
<path d="M306.0 237.5 H291.2 V241.0 H292.5" stroke="#6e6e6e" stroke-width="0.8" fill="none"/>
<path d="M306.0 235.5 H287.3 V239.2 H291.2" stroke="#6e6e6e" stroke-width="0.8" fill="none"/>
<path d="M306.0 245.5 H295.0 V247.5 H306.0" stroke="#6e6e6e" stroke-width="0.8" fill="none"/>
<path d="M287.3 237.4 H282.8 V246.5 H295.0" stroke="#6e6e6e" stroke-width="0.8" fill="none"/>
<path d="M282.8 241.9 H282.0 V249.5 H306.0" stroke="#6e6e6e" stroke-width="0.8" fill="none"/>
<path d="M306.0 233.5 H281.2 V245.7 H282.0" stroke="#6e6e6e" stroke-width="0.8" fill="none"/>
<path d="M279.7 219.2 H276.4 V239.6 H281.2" stroke="#6e6e6e" stroke-width="0.8" fill="none"/>
<path d="M306.0 251.5 H293.9 V254.5 H306.0" stroke="#6e6e6e" stroke-width="0.8" fill="none"/>
<path d="M293.9 253.0 H291.7 V256.5 H306.0" stroke="#6e6e6e" stroke-width="0.8" fill="none"/>
<path d="M306.0 260.5 H293.4 V262.5 H306.0" stroke="#6e6e6e" stroke-width="0.8" fill="none"/>
<path d="M293.4 261.5 H291.2 V264.5 H306.0" stroke="#6e6e6e" stroke-width="0.8" fill="none"/>
<path d="M306.0 266.5 H297.1 V268.5 H306.0" stroke="#6e6e6e" stroke-width="0.8" fill="none"/>
<path d="M291.2 263.0 H286.8 V267.5 H297.1" stroke="#6e6e6e" stroke-width="0.8" fill="none"/>
<path d="M306.0 258.5 H286.0 V265.2 H286.8" stroke="#6e6e6e" stroke-width="0.8" fill="none"/>
<path d="M306.0 272.5 H295.3 V274.5 H306.0" stroke="#6e6e6e" stroke-width="0.8" fill="none"/>
<path d="M295.3 273.5 H288.9 V276.5 H306.0" stroke="#6e6e6e" stroke-width="0.8" fill="none"/>
<path d="M306.0 270.5 H287.1 V275.0 H288.9" stroke="#6e6e6e" stroke-width="0.8" fill="none"/>
<path d="M286.0 261.9 H284.3 V272.8 H287.1" stroke="#6e6e6e" stroke-width="0.8" fill="none"/>
<path d="M291.7 254.8 H281.3 V267.3 H284.3" stroke="#6e6e6e" stroke-width="0.8" fill="none"/>
<path d="M306.0 280.5 H295.3 V282.5 H306.0" stroke="#6e6e6e" stroke-width="0.8" fill="none"/>
<path d="M295.3 281.5 H290.2 V284.5 H306.0" stroke="#6e6e6e" stroke-width="0.8" fill="none"/>
<path d="M306.0 278.5 H289.3 V283.0 H290.2" stroke="#6e6e6e" stroke-width="0.8" fill="none"/>
<path d="M281.3 261.0 H277.6 V280.8 H289.3" stroke="#6e6e6e" stroke-width="0.8" fill="none"/>
<path d="M276.4 229.4 H273.7 V270.9 H277.6" stroke="#6e6e6e" stroke-width="0.8" fill="none"/>
<path d="M306.0 288.5 H295.7 V290.5 H306.0" stroke="#6e6e6e" stroke-width="0.8" fill="none"/>
<path d="M306.0 286.5 H293.7 V289.5 H295.7" stroke="#6e6e6e" stroke-width="0.8" fill="none"/>
<path d="M306.0 292.5 H293.4 V294.5 H306.0" stroke="#6e6e6e" stroke-width="0.8" fill="none"/>
<path d="M293.4 293.5 H292.6 V296.5 H306.0" stroke="#6e6e6e" stroke-width="0.8" fill="none"/>
<path d="M293.7 288.0 H287.0 V295.0 H292.6" stroke="#6e6e6e" stroke-width="0.8" fill="none"/>
<path d="M306.0 304.5 H294.9 V306.5 H306.0" stroke="#6e6e6e" stroke-width="0.8" fill="none"/>
<path d="M306.0 302.5 H291.3 V305.5 H294.9" stroke="#6e6e6e" stroke-width="0.8" fill="none"/>
<path d="M306.0 300.5 H288.0 V304.0 H291.3" stroke="#6e6e6e" stroke-width="0.8" fill="none"/>
<path d="M306.0 298.5 H287.2 V302.2 H288.0" stroke="#6e6e6e" stroke-width="0.8" fill="none"/>
<path d="M287.0 291.5 H281.1 V300.4 H287.2" stroke="#6e6e6e" stroke-width="0.8" fill="none"/>
<path d="M273.7 250.1 H268.0 V295.9 H281.1" stroke="#6e6e6e" stroke-width="0.8" fill="none"/>
<path d="M306.0 311.5 H295.1 V313.5 H306.0" stroke="#6e6e6e" stroke-width="0.8" fill="none"/>
<path d="M295.1 312.5 H292.7 V315.5 H306.0" stroke="#6e6e6e" stroke-width="0.8" fill="none"/>
<path d="M306.0 308.5 H290.0 V314.0 H292.7" stroke="#6e6e6e" stroke-width="0.8" fill="none"/>
<path d="M306.0 317.5 H292.4 V319.5 H306.0" stroke="#6e6e6e" stroke-width="0.8" fill="none"/>
<path d="M290.0 311.2 H284.2 V318.5 H292.4" stroke="#6e6e6e" stroke-width="0.8" fill="none"/>
<path d="M284.2 314.9 H283.4 V321.5 H306.0" stroke="#6e6e6e" stroke-width="0.8" fill="none"/>
<path d="M306.0 323.5 H292.8 V325.5 H306.0" stroke="#6e6e6e" stroke-width="0.8" fill="none"/>
<path d="M283.4 318.2 H282.6 V324.5 H292.8" stroke="#6e6e6e" stroke-width="0.8" fill="none"/>
<path d="M306.0 327.5 H297.0 V329.5 H306.0" stroke="#6e6e6e" stroke-width="0.8" fill="none"/>
<path d="M306.0 331.5 H296.2 V333.5 H306.0" stroke="#6e6e6e" stroke-width="0.8" fill="none"/>
<path d="M306.0 337.5 H293.4 V339.5 H306.0" stroke="#6e6e6e" stroke-width="0.8" fill="none"/>
<path d="M306.0 335.5 H292.1 V338.5 H293.4" stroke="#6e6e6e" stroke-width="0.8" fill="none"/>
<path d="M306.0 341.5 H295.7 V343.5 H306.0" stroke="#6e6e6e" stroke-width="0.8" fill="none"/>
<path d="M292.1 337.0 H289.2 V342.5 H295.7" stroke="#6e6e6e" stroke-width="0.8" fill="none"/>
<path d="M296.2 332.5 H286.6 V339.8 H289.2" stroke="#6e6e6e" stroke-width="0.8" fill="none"/>
<path d="M297.0 328.5 H282.2 V336.1 H286.6" stroke="#6e6e6e" stroke-width="0.8" fill="none"/>
<path d="M306.0 345.5 H297.1 V347.5 H306.0" stroke="#6e6e6e" stroke-width="0.8" fill="none"/>
<path d="M306.0 349.5 H294.1 V351.5 H306.0" stroke="#6e6e6e" stroke-width="0.8" fill="none"/>
<path d="M294.1 350.5 H293.1 V353.5 H306.0" stroke="#6e6e6e" stroke-width="0.8" fill="none"/>
<path d="M306.0 355.5 H294.3 V357.5 H306.0" stroke="#6e6e6e" stroke-width="0.8" fill="none"/>
<path d="M293.1 352.0 H285.4 V356.5 H294.3" stroke="#6e6e6e" stroke-width="0.8" fill="none"/>
<path d="M297.1 346.5 H284.6 V354.2 H285.4" stroke="#6e6e6e" stroke-width="0.8" fill="none"/>
<path d="M282.2 332.3 H278.9 V350.4 H284.6" stroke="#6e6e6e" stroke-width="0.8" fill="none"/>
<path d="M282.6 321.3 H274.5 V341.3 H278.9" stroke="#6e6e6e" stroke-width="0.8" fill="none"/>
<path d="M268.0 273.0 H267.2 V331.3 H274.5" stroke="#6e6e6e" stroke-width="0.8" fill="none"/>
<path d="M306.0 359.5 H296.4 V361.5 H306.0" stroke="#6e6e6e" stroke-width="0.8" fill="none"/>
<path d="M306.0 365.5 H293.8 V368.5 H306.0" stroke="#6e6e6e" stroke-width="0.8" fill="none"/>
<path d="M306.0 363.5 H291.8 V367.0 H293.8" stroke="#6e6e6e" stroke-width="0.8" fill="none"/>
<path d="M296.4 360.5 H287.2 V365.2 H291.8" stroke="#6e6e6e" stroke-width="0.8" fill="none"/>
<path d="M306.0 376.5 H296.7 V378.5 H306.0" stroke="#6e6e6e" stroke-width="0.8" fill="none"/>
<path d="M306.0 374.5 H291.2 V377.5 H296.7" stroke="#6e6e6e" stroke-width="0.8" fill="none"/>
<path d="M306.0 372.5 H290.1 V376.0 H291.2" stroke="#6e6e6e" stroke-width="0.8" fill="none"/>
<path d="M290.1 374.2 H285.9 V380.5 H306.0" stroke="#6e6e6e" stroke-width="0.8" fill="none"/>
<path d="M306.0 370.5 H285.1 V377.4 H285.9" stroke="#6e6e6e" stroke-width="0.8" fill="none"/>
<path d="M287.2 362.9 H281.5 V373.9 H285.1" stroke="#6e6e6e" stroke-width="0.8" fill="none"/>
<path d="M306.0 382.5 H292.6 V384.5 H306.0" stroke="#6e6e6e" stroke-width="0.8" fill="none"/>
<path d="M306.0 388.5 H296.6 V390.5 H306.0" stroke="#6e6e6e" stroke-width="0.8" fill="none"/>
<path d="M306.0 386.5 H291.3 V389.5 H296.6" stroke="#6e6e6e" stroke-width="0.8" fill="none"/>
<path d="M292.6 383.5 H286.3 V388.0 H291.3" stroke="#6e6e6e" stroke-width="0.8" fill="none"/>
<path d="M306.0 394.5 H295.8 V396.5 H306.0" stroke="#6e6e6e" stroke-width="0.8" fill="none"/>
<path d="M306.0 392.5 H289.1 V395.5 H295.8" stroke="#6e6e6e" stroke-width="0.8" fill="none"/>
<path d="M289.1 394.0 H288.3 V398.5 H306.0" stroke="#6e6e6e" stroke-width="0.8" fill="none"/>
<path d="M286.3 385.8 H285.0 V396.2 H288.3" stroke="#6e6e6e" stroke-width="0.8" fill="none"/>
<path d="M306.0 400.5 H295.2 V402.5 H306.0" stroke="#6e6e6e" stroke-width="0.8" fill="none"/>
<path d="M295.2 401.5 H292.5 V404.5 H306.0" stroke="#6e6e6e" stroke-width="0.8" fill="none"/>
<path d="M285.0 391.0 H282.7 V403.0 H292.5" stroke="#6e6e6e" stroke-width="0.8" fill="none"/>
<path d="M281.5 368.4 H276.8 V397.0 H282.7" stroke="#6e6e6e" stroke-width="0.8" fill="none"/>
<path d="M267.2 302.2 H265.7 V382.7 H276.8" stroke="#6e6e6e" stroke-width="0.8" fill="none"/>
<path d="M306.0 406.5 H292.8 V408.5 H306.0" stroke="#6e6e6e" stroke-width="0.8" fill="none"/>
<path d="M306.0 410.5 H293.9 V412.5 H306.0" stroke="#6e6e6e" stroke-width="0.8" fill="none"/>
<path d="M306.0 414.5 H293.8 V416.5 H306.0" stroke="#6e6e6e" stroke-width="0.8" fill="none"/>
<path d="M293.9 411.5 H288.5 V415.5 H293.8" stroke="#6e6e6e" stroke-width="0.8" fill="none"/>
<path d="M292.8 407.5 H287.5 V413.5 H288.5" stroke="#6e6e6e" stroke-width="0.8" fill="none"/>
<path d="M306.0 420.5 H292.6 V422.5 H306.0" stroke="#6e6e6e" stroke-width="0.8" fill="none"/>
<path d="M306.0 418.5 H291.4 V421.5 H292.6" stroke="#6e6e6e" stroke-width="0.8" fill="none"/>
<path d="M287.5 410.5 H283.3 V420.0 H291.4" stroke="#6e6e6e" stroke-width="0.8" fill="none"/>
<path d="M306.0 425.5 H297.1 V427.5 H306.0" stroke="#6e6e6e" stroke-width="0.8" fill="none"/>
<path d="M306.0 429.5 H296.9 V431.5 H306.0" stroke="#6e6e6e" stroke-width="0.8" fill="none"/>
<path d="M296.9 430.5 H292.2 V433.5 H306.0" stroke="#6e6e6e" stroke-width="0.8" fill="none"/>
<path d="M306.0 437.5 H296.8 V439.5 H306.0" stroke="#6e6e6e" stroke-width="0.8" fill="none"/>
<path d="M306.0 435.5 H291.0 V438.5 H296.8" stroke="#6e6e6e" stroke-width="0.8" fill="none"/>
<path d="M306.0 443.5 H293.3 V445.5 H306.0" stroke="#6e6e6e" stroke-width="0.8" fill="none"/>
<path d="M306.0 447.5 H295.5 V449.5 H306.0" stroke="#6e6e6e" stroke-width="0.8" fill="none"/>
<path d="M295.5 448.5 H290.3 V451.5 H306.0" stroke="#6e6e6e" stroke-width="0.8" fill="none"/>
<path d="M293.3 444.5 H285.1 V450.0 H290.3" stroke="#6e6e6e" stroke-width="0.8" fill="none"/>
<path d="M306.0 441.5 H283.8 V447.2 H285.1" stroke="#6e6e6e" stroke-width="0.8" fill="none"/>
<path d="M291.0 437.0 H283.0 V444.4 H283.8" stroke="#6e6e6e" stroke-width="0.8" fill="none"/>
<path d="M292.2 432.0 H279.0 V440.7 H283.0" stroke="#6e6e6e" stroke-width="0.8" fill="none"/>
<path d="M297.1 426.5 H277.5 V436.3 H279.0" stroke="#6e6e6e" stroke-width="0.8" fill="none"/>
<path d="M306.0 453.5 H294.1 V455.5 H306.0" stroke="#6e6e6e" stroke-width="0.8" fill="none"/>
<path d="M306.0 459.5 H294.2 V461.5 H306.0" stroke="#6e6e6e" stroke-width="0.8" fill="none"/>
<path d="M306.0 457.5 H293.3 V460.5 H294.2" stroke="#6e6e6e" stroke-width="0.8" fill="none"/>
<path d="M293.3 459.0 H288.2 V463.5 H306.0" stroke="#6e6e6e" stroke-width="0.8" fill="none"/>
<path d="M306.0 465.5 H292.8 V467.5 H306.0" stroke="#6e6e6e" stroke-width="0.8" fill="none"/>
<path d="M292.8 466.5 H290.1 V469.5 H306.0" stroke="#6e6e6e" stroke-width="0.8" fill="none"/>
<path d="M288.2 461.2 H285.1 V468.0 H290.1" stroke="#6e6e6e" stroke-width="0.8" fill="none"/>
<path d="M306.0 471.5 H293.5 V473.5 H306.0" stroke="#6e6e6e" stroke-width="0.8" fill="none"/>
<path d="M285.1 464.6 H282.2 V472.5 H293.5" stroke="#6e6e6e" stroke-width="0.8" fill="none"/>
<path d="M294.1 454.5 H281.4 V468.6 H282.2" stroke="#6e6e6e" stroke-width="0.8" fill="none"/>
<path d="M306.0 475.5 H293.0 V477.5 H306.0" stroke="#6e6e6e" stroke-width="0.8" fill="none"/>
<path d="M281.4 461.5 H280.6 V476.5 H293.0" stroke="#6e6e6e" stroke-width="0.8" fill="none"/>
<path d="M277.5 431.4 H273.4 V469.0 H280.6" stroke="#6e6e6e" stroke-width="0.8" fill="none"/>
<path d="M283.3 415.2 H272.6 V450.2 H273.4" stroke="#6e6e6e" stroke-width="0.8" fill="none"/>
<path d="M306.0 480.5 H296.1 V482.5 H306.0" stroke="#6e6e6e" stroke-width="0.8" fill="none"/>
<path d="M306.0 486.5 H295.9 V488.5 H306.0" stroke="#6e6e6e" stroke-width="0.8" fill="none"/>
<path d="M295.9 487.5 H293.7 V490.5 H306.0" stroke="#6e6e6e" stroke-width="0.8" fill="none"/>
<path d="M293.7 489.0 H289.9 V492.5 H306.0" stroke="#6e6e6e" stroke-width="0.8" fill="none"/>
<path d="M289.9 490.8 H286.2 V494.5 H306.0" stroke="#6e6e6e" stroke-width="0.8" fill="none"/>
<path d="M306.0 484.5 H285.4 V492.6 H286.2" stroke="#6e6e6e" stroke-width="0.8" fill="none"/>
<path d="M306.0 496.5 H296.4 V498.5 H306.0" stroke="#6e6e6e" stroke-width="0.8" fill="none"/>
<path d="M285.4 488.6 H281.5 V497.5 H296.4" stroke="#6e6e6e" stroke-width="0.8" fill="none"/>
<path d="M296.1 481.5 H280.7 V493.0 H281.5" stroke="#6e6e6e" stroke-width="0.8" fill="none"/>
<path d="M306.0 500.5 H292.8 V502.5 H306.0" stroke="#6e6e6e" stroke-width="0.8" fill="none"/>
<path d="M306.0 504.5 H295.6 V506.5 H306.0" stroke="#6e6e6e" stroke-width="0.8" fill="none"/>
<path d="M292.8 501.5 H288.1 V505.5 H295.6" stroke="#6e6e6e" stroke-width="0.8" fill="none"/>
<path d="M288.1 503.5 H287.3 V508.5 H306.0" stroke="#6e6e6e" stroke-width="0.8" fill="none"/>
<path d="M280.7 487.3 H279.2 V506.0 H287.3" stroke="#6e6e6e" stroke-width="0.8" fill="none"/>
<path d="M306.0 512.5 H296.2 V514.5 H306.0" stroke="#6e6e6e" stroke-width="0.8" fill="none"/>
<path d="M296.2 513.5 H293.1 V516.5 H306.0" stroke="#6e6e6e" stroke-width="0.8" fill="none"/>
<path d="M306.0 510.5 H289.6 V515.0 H293.1" stroke="#6e6e6e" stroke-width="0.8" fill="none"/>
<path d="M289.6 512.8 H285.1 V518.5 H306.0" stroke="#6e6e6e" stroke-width="0.8" fill="none"/>
<path d="M306.0 526.5 H296.7 V528.5 H306.0" stroke="#6e6e6e" stroke-width="0.8" fill="none"/>
<path d="M306.0 524.5 H291.4 V527.5 H296.7" stroke="#6e6e6e" stroke-width="0.8" fill="none"/>
<path d="M306.0 530.5 H292.6 V532.5 H306.0" stroke="#6e6e6e" stroke-width="0.8" fill="none"/>
<path d="M291.4 526.0 H285.5 V531.5 H292.6" stroke="#6e6e6e" stroke-width="0.8" fill="none"/>
<path d="M306.0 522.5 H284.7 V528.8 H285.5" stroke="#6e6e6e" stroke-width="0.8" fill="none"/>
<path d="M284.7 525.6 H283.9 V534.5 H306.0" stroke="#6e6e6e" stroke-width="0.8" fill="none"/>
<path d="M306.0 520.5 H282.6 V530.1 H283.9" stroke="#6e6e6e" stroke-width="0.8" fill="none"/>
<path d="M285.1 515.6 H278.8 V525.3 H282.6" stroke="#6e6e6e" stroke-width="0.8" fill="none"/>
<path d="M306.0 543.5 H293.8 V545.5 H306.0" stroke="#6e6e6e" stroke-width="0.8" fill="none"/>
<path d="M306.0 541.5 H292.3 V544.5 H293.8" stroke="#6e6e6e" stroke-width="0.8" fill="none"/>
<path d="M306.0 547.5 H295.7 V549.5 H306.0" stroke="#6e6e6e" stroke-width="0.8" fill="none"/>
<path d="M295.7 548.5 H289.8 V551.5 H306.0" stroke="#6e6e6e" stroke-width="0.8" fill="none"/>
<path d="M292.3 543.0 H288.1 V550.0 H289.8" stroke="#6e6e6e" stroke-width="0.8" fill="none"/>
<path d="M306.0 539.5 H286.3 V546.5 H288.1" stroke="#6e6e6e" stroke-width="0.8" fill="none"/>
<path d="M306.0 537.5 H283.7 V543.0 H286.3" stroke="#6e6e6e" stroke-width="0.8" fill="none"/>
<path d="M306.0 553.5 H293.4 V555.5 H306.0" stroke="#6e6e6e" stroke-width="0.8" fill="none"/>
<path d="M306.0 559.5 H293.3 V561.5 H306.0" stroke="#6e6e6e" stroke-width="0.8" fill="none"/>
<path d="M306.0 557.5 H289.8 V560.5 H293.3" stroke="#6e6e6e" stroke-width="0.8" fill="none"/>
<path d="M306.0 565.5 H296.7 V567.5 H306.0" stroke="#6e6e6e" stroke-width="0.8" fill="none"/>
<path d="M306.0 569.5 H294.5 V571.5 H306.0" stroke="#6e6e6e" stroke-width="0.8" fill="none"/>
<path d="M296.7 566.5 H288.2 V570.5 H294.5" stroke="#6e6e6e" stroke-width="0.8" fill="none"/>
<path d="M306.0 563.5 H287.4 V568.5 H288.2" stroke="#6e6e6e" stroke-width="0.8" fill="none"/>
<path d="M289.8 559.0 H285.6 V566.0 H287.4" stroke="#6e6e6e" stroke-width="0.8" fill="none"/>
<path d="M293.4 554.5 H283.3 V562.5 H285.6" stroke="#6e6e6e" stroke-width="0.8" fill="none"/>
<path d="M283.7 540.2 H275.9 V558.5 H283.3" stroke="#6e6e6e" stroke-width="0.8" fill="none"/>
<path d="M306.0 575.5 H293.7 V577.5 H306.0" stroke="#6e6e6e" stroke-width="0.8" fill="none"/>
<path d="M306.0 573.5 H290.0 V576.5 H293.7" stroke="#6e6e6e" stroke-width="0.8" fill="none"/>
<path d="M306.0 579.5 H294.5 V581.5 H306.0" stroke="#6e6e6e" stroke-width="0.8" fill="none"/>
<path d="M290.0 575.0 H289.2 V580.5 H294.5" stroke="#6e6e6e" stroke-width="0.8" fill="none"/>
<path d="M275.9 549.4 H275.1 V577.8 H289.2" stroke="#6e6e6e" stroke-width="0.8" fill="none"/>
<path d="M278.8 520.5 H271.2 V563.6 H275.1" stroke="#6e6e6e" stroke-width="0.8" fill="none"/>
<path d="M279.2 496.6 H270.0 V542.0 H271.2" stroke="#6e6e6e" stroke-width="0.8" fill="none"/>
<path d="M306.0 583.5 H293.0 V585.5 H306.0" stroke="#6e6e6e" stroke-width="0.8" fill="none"/>
<path d="M306.0 587.5 H293.7 V589.5 H306.0" stroke="#6e6e6e" stroke-width="0.8" fill="none"/>
<path d="M293.0 584.5 H290.3 V588.5 H293.7" stroke="#6e6e6e" stroke-width="0.8" fill="none"/>
<path d="M306.0 591.5 H296.6 V594.5 H306.0" stroke="#6e6e6e" stroke-width="0.8" fill="none"/>
<path d="M296.6 593.0 H291.5 V596.5 H306.0" stroke="#6e6e6e" stroke-width="0.8" fill="none"/>
<path d="M291.5 594.8 H288.3 V598.5 H306.0" stroke="#6e6e6e" stroke-width="0.8" fill="none"/>
<path d="M306.0 602.5 H295.3 V604.5 H306.0" stroke="#6e6e6e" stroke-width="0.8" fill="none"/>
<path d="M306.0 600.5 H290.9 V603.5 H295.3" stroke="#6e6e6e" stroke-width="0.8" fill="none"/>
<path d="M288.3 596.6 H282.6 V602.0 H290.9" stroke="#6e6e6e" stroke-width="0.8" fill="none"/>
<path d="M290.3 586.5 H279.6 V599.3 H282.6" stroke="#6e6e6e" stroke-width="0.8" fill="none"/>
<path d="M306.0 606.5 H295.6 V608.5 H306.0" stroke="#6e6e6e" stroke-width="0.8" fill="none"/>
<path d="M295.6 607.5 H288.8 V610.5 H306.0" stroke="#6e6e6e" stroke-width="0.8" fill="none"/>
<path d="M306.0 612.5 H296.7 V614.5 H306.0" stroke="#6e6e6e" stroke-width="0.8" fill="none"/>
<path d="M288.8 609.0 H285.3 V613.5 H296.7" stroke="#6e6e6e" stroke-width="0.8" fill="none"/>
<path d="M279.6 592.9 H276.9 V611.2 H285.3" stroke="#6e6e6e" stroke-width="0.8" fill="none"/>
<path d="M270.0 519.3 H266.2 V602.1 H276.9" stroke="#6e6e6e" stroke-width="0.8" fill="none"/>
<path d="M272.6 432.7 H265.4 V560.7 H266.2" stroke="#6e6e6e" stroke-width="0.8" fill="none"/>
<path d="M265.7 342.4 H261.0 V496.7 H265.4" stroke="#6e6e6e" stroke-width="0.8" fill="none"/>
<text x="319.6" y="623.4" font-size="8.8" text-anchor="end" fill="#3c3c3c" transform="rotate(-60 319.6 623.4)">E14_3</text>
<text x="337.1" y="623.4" font-size="8.8" text-anchor="end" fill="#3c3c3c" transform="rotate(-60 337.1 623.4)">E14_2</text>
<text x="354.5" y="623.4" font-size="8.8" text-anchor="end" fill="#3c3c3c" transform="rotate(-60 354.5 623.4)">E14_1</text>
<text x="372.0" y="623.4" font-size="8.8" text-anchor="end" fill="#3c3c3c" transform="rotate(-60 372.0 623.4)">E16_3</text>
<text x="389.4" y="623.4" font-size="8.8" text-anchor="end" fill="#3c3c3c" transform="rotate(-60 389.4 623.4)">E16_1</text>
<text x="406.8" y="623.4" font-size="8.8" text-anchor="end" fill="#3c3c3c" transform="rotate(-60 406.8 623.4)">E16_2</text>
<text x="424.3" y="623.4" font-size="8.8" text-anchor="end" fill="#3c3c3c" transform="rotate(-60 424.3 623.4)">P0_3</text>
<text x="441.7" y="623.4" font-size="8.8" text-anchor="end" fill="#3c3c3c" transform="rotate(-60 441.7 623.4)">P0_2</text>
<text x="459.2" y="623.4" font-size="8.8" text-anchor="end" fill="#3c3c3c" transform="rotate(-60 459.2 623.4)">P0_1</text>
<text x="509.9" y="623.4" font-size="8.8" text-anchor="end" fill="#3c3c3c" transform="rotate(-60 509.9 623.4)">E14_3</text>
<text x="527.3" y="623.4" font-size="8.8" text-anchor="end" fill="#3c3c3c" transform="rotate(-60 527.3 623.4)">E14_2</text>
<text x="544.7" y="623.4" font-size="8.8" text-anchor="end" fill="#3c3c3c" transform="rotate(-60 544.7 623.4)">E14_1</text>
<text x="562.1" y="623.4" font-size="8.8" text-anchor="end" fill="#3c3c3c" transform="rotate(-60 562.1 623.4)">E16_3</text>
<text x="579.5" y="623.4" font-size="8.8" text-anchor="end" fill="#3c3c3c" transform="rotate(-60 579.5 623.4)">E16_1</text>
<text x="597.0" y="623.4" font-size="8.8" text-anchor="end" fill="#3c3c3c" transform="rotate(-60 597.0 623.4)">E16_2</text>
<text x="614.4" y="623.4" font-size="8.8" text-anchor="end" fill="#3c3c3c" transform="rotate(-60 614.4 623.4)">P0_3</text>
<text x="631.8" y="623.4" font-size="8.8" text-anchor="end" fill="#3c3c3c" transform="rotate(-60 631.8 623.4)">P0_2</text>
<text x="649.2" y="623.4" font-size="8.8" text-anchor="end" fill="#3c3c3c" transform="rotate(-60 649.2 623.4)">P0_1</text>
<text x="474.3" y="623.4" font-size="8.8" text-anchor="end" fill="#3c3c3c" transform="rotate(-60 474.3 623.4)">Mean Expression</text>
<text x="485.3" y="623.4" font-size="8.8" text-anchor="end" fill="#3c3c3c" transform="rotate(-60 485.3 623.4)">CIRCexplorer</text>
<text x="496.3" y="623.4" font-size="8.8" text-anchor="end" fill="#3c3c3c" transform="rotate(-60 496.3 623.4)">circBase</text>
<text x="331.7" y="173.6" font-size="10.5" text-anchor="start" fill="#3c3c3c" style="">circRNA expression, z-score</text>
<text x="522.0" y="173.6" font-size="10.5" text-anchor="start" fill="#3c3c3c" style="">circRNA ratio, z-score</text>
<text x="291.6" y="684.2" font-size="10.5" text-anchor="start" fill="#3c3c3c" style="">Groups</text>
<rect x="294.40" y="693.60" width="8.60" height="7.80" fill="#14967a"/>
<text x="304.4" y="701.0" font-size="9.2" text-anchor="start" fill="#3c3c3c" style="">E14</text>
<rect x="294.40" y="703.60" width="8.60" height="7.80" fill="#d8601f"/>
<text x="304.4" y="711.0" font-size="9.2" text-anchor="start" fill="#3c3c3c" style="">E16</text>
<rect x="294.40" y="713.60" width="8.60" height="7.80" fill="#7570b3"/>
<text x="304.4" y="721.0" font-size="9.2" text-anchor="start" fill="#3c3c3c" style="">P0</text>
<text x="347.6" y="684.2" font-size="10.5" text-anchor="start" fill="#3c3c3c" style="">Expression</text>
<defs><linearGradient id="g350" x1="0" y1="0" x2="0" y2="1"><stop offset="0" stop-color="#dc2320"/><stop offset="0.08" stop-color="#e8503a"/><stop offset="0.3" stop-color="#f4a18a"/><stop offset="0.5" stop-color="#fcfafa"/><stop offset="0.72" stop-color="#a89dcc"/><stop offset="0.92" stop-color="#5a55a3"/><stop offset="1" stop-color="#3b4ca8"/></linearGradient></defs>
<rect x="350.2" y="693.0" width="10.6" height="48.9" fill="url(#g350)"/>
<line x1="350.2" y1="696" x2="352.59999999999997" y2="696" stroke="#fff" stroke-width="0.8" opacity="0.9"/>
<line x1="358.40000000000003" y1="696" x2="360.8" y2="696" stroke="#fff" stroke-width="0.8" opacity="0.9"/>
<text x="362.2" y="699.7" font-size="9.8" text-anchor="start" fill="#3c3c3c" style="">2</text>
<line x1="350.2" y1="706.6" x2="352.59999999999997" y2="706.6" stroke="#fff" stroke-width="0.8" opacity="0.9"/>
<line x1="358.40000000000003" y1="706.6" x2="360.8" y2="706.6" stroke="#fff" stroke-width="0.8" opacity="0.9"/>
<text x="362.2" y="710.3000000000001" font-size="9.8" text-anchor="start" fill="#3c3c3c" style="">1</text>
<line x1="350.2" y1="716.8" x2="352.59999999999997" y2="716.8" stroke="#fff" stroke-width="0.8" opacity="0.9"/>
<line x1="358.40000000000003" y1="716.8" x2="360.8" y2="716.8" stroke="#fff" stroke-width="0.8" opacity="0.9"/>
<text x="362.2" y="720.5" font-size="9.8" text-anchor="start" fill="#3c3c3c" style="">0</text>
<line x1="350.2" y1="727.6" x2="352.59999999999997" y2="727.6" stroke="#fff" stroke-width="0.8" opacity="0.9"/>
<line x1="358.40000000000003" y1="727.6" x2="360.8" y2="727.6" stroke="#fff" stroke-width="0.8" opacity="0.9"/>
<text x="362.2" y="731.3000000000001" font-size="9.8" text-anchor="start" fill="#3c3c3c" style="">-1</text>
<line x1="350.2" y1="738.4" x2="352.59999999999997" y2="738.4" stroke="#fff" stroke-width="0.8" opacity="0.9"/>
<line x1="358.40000000000003" y1="738.4" x2="360.8" y2="738.4" stroke="#fff" stroke-width="0.8" opacity="0.9"/>
<text x="362.2" y="742.1" font-size="9.8" text-anchor="start" fill="#3c3c3c" style="">-2</text>
<text x="454.6" y="684.2" font-size="10.5" text-anchor="start" fill="#3c3c3c" style="">Mean Expression</text>
<defs><linearGradient id="g456" x1="0" y1="0" x2="0" y2="1"><stop offset="0" stop-color="#d92323"/><stop offset="0.25" stop-color="#eb6a55"/><stop offset="0.5" stop-color="#f3eef2"/><stop offset="0.75" stop-color="#8c84c0"/><stop offset="1" stop-color="#3b4ca8"/></linearGradient></defs>
<rect x="456.0" y="693.0" width="10.6" height="48.6" fill="url(#g456)"/>
<line x1="456.0" y1="696" x2="458.4" y2="696" stroke="#fff" stroke-width="0.8" opacity="0.9"/>
<line x1="464.20000000000005" y1="696" x2="466.6" y2="696" stroke="#fff" stroke-width="0.8" opacity="0.9"/>
<text x="468.0" y="699.7" font-size="9.8" text-anchor="start" fill="#3c3c3c" style="">400</text>
<line x1="456.0" y1="706.4" x2="458.4" y2="706.4" stroke="#fff" stroke-width="0.8" opacity="0.9"/>
<line x1="464.20000000000005" y1="706.4" x2="466.6" y2="706.4" stroke="#fff" stroke-width="0.8" opacity="0.9"/>
<text x="468.0" y="710.1" font-size="9.8" text-anchor="start" fill="#3c3c3c" style="">300</text>
<line x1="456.0" y1="717" x2="458.4" y2="717" stroke="#fff" stroke-width="0.8" opacity="0.9"/>
<line x1="464.20000000000005" y1="717" x2="466.6" y2="717" stroke="#fff" stroke-width="0.8" opacity="0.9"/>
<text x="468.0" y="720.7" font-size="9.8" text-anchor="start" fill="#3c3c3c" style="">200</text>
<line x1="456.0" y1="727.4" x2="458.4" y2="727.4" stroke="#fff" stroke-width="0.8" opacity="0.9"/>
<line x1="464.20000000000005" y1="727.4" x2="466.6" y2="727.4" stroke="#fff" stroke-width="0.8" opacity="0.9"/>
<text x="468.0" y="731.1" font-size="9.8" text-anchor="start" fill="#3c3c3c" style="">100</text>
<line x1="456.0" y1="738.2" x2="458.4" y2="738.2" stroke="#fff" stroke-width="0.8" opacity="0.9"/>
<line x1="464.20000000000005" y1="738.2" x2="466.6" y2="738.2" stroke="#fff" stroke-width="0.8" opacity="0.9"/>
<text x="468.0" y="741.9000000000001" font-size="9.8" text-anchor="start" fill="#3c3c3c" style="">0</text>
<text x="549.4" y="684.3" font-size="10.5" text-anchor="start" fill="#3c3c3c" style="">CIRCexplorer</text>
<rect x="555.5" y="688.9" width="7" height="7" fill="#fff" stroke="#222" stroke-width="1"/>
<text x="565.3" y="696.3" font-size="9.2" text-anchor="start" fill="#3c3c3c" style="">0</text>
<rect x="555.00" y="698.70" width="7.90" height="7.40" fill="#f4a324"/>
<text x="565.3" y="706" font-size="9.2" text-anchor="start" fill="#3c3c3c" style="">1</text>
<text x="551.3" y="718" font-size="10.5" text-anchor="start" fill="#3c3c3c" style="">circBase</text>
<rect x="555.5" y="722.6" width="7" height="7" fill="#fff" stroke="#222" stroke-width="1"/>
<text x="565.3" y="729.8" font-size="9.2" text-anchor="start" fill="#3c3c3c" style="">0</text>
<rect x="555.00" y="732.50" width="7.90" height="7.30" fill="#000"/>
<text x="565.3" y="739.8" font-size="9.2" text-anchor="start" fill="#3c3c3c" style="">1</text>
<text x="621.7" y="684.3" font-size="10.5" text-anchor="start" fill="#3c3c3c" style="">CircRNA ratio</text>
<defs><linearGradient id="g624" x1="0" y1="0" x2="0" y2="1"><stop offset="0" stop-color="#dc2320"/><stop offset="0.08" stop-color="#e8503a"/><stop offset="0.3" stop-color="#f4a18a"/><stop offset="0.5" stop-color="#fcfafa"/><stop offset="0.72" stop-color="#a89dcc"/><stop offset="0.92" stop-color="#5a55a3"/><stop offset="1" stop-color="#3b4ca8"/></linearGradient></defs>
<rect x="624.0" y="691.0" width="9.7" height="49.2" fill="url(#g624)"/>
<line x1="624.0" y1="696.3" x2="626.4" y2="696.3" stroke="#fff" stroke-width="0.8" opacity="0.9"/>
<line x1="631.3000000000001" y1="696.3" x2="633.7" y2="696.3" stroke="#fff" stroke-width="0.8" opacity="0.9"/>
<text x="635.2" y="700.0" font-size="9.8" text-anchor="start" fill="#3c3c3c" style="">2</text>
<line x1="624.0" y1="706.4" x2="626.4" y2="706.4" stroke="#fff" stroke-width="0.8" opacity="0.9"/>
<line x1="631.3000000000001" y1="706.4" x2="633.7" y2="706.4" stroke="#fff" stroke-width="0.8" opacity="0.9"/>
<text x="635.2" y="710.1" font-size="9.8" text-anchor="start" fill="#3c3c3c" style="">1</text>
<line x1="624.0" y1="716.3" x2="626.4" y2="716.3" stroke="#fff" stroke-width="0.8" opacity="0.9"/>
<line x1="631.3000000000001" y1="716.3" x2="633.7" y2="716.3" stroke="#fff" stroke-width="0.8" opacity="0.9"/>
<text x="635.2" y="720.0" font-size="9.8" text-anchor="start" fill="#3c3c3c" style="">0</text>
<line x1="624.0" y1="726.4" x2="626.4" y2="726.4" stroke="#fff" stroke-width="0.8" opacity="0.9"/>
<line x1="631.3000000000001" y1="726.4" x2="633.7" y2="726.4" stroke="#fff" stroke-width="0.8" opacity="0.9"/>
<text x="635.2" y="730.1" font-size="9.8" text-anchor="start" fill="#3c3c3c" style="">-1</text>
<line x1="624.0" y1="736.8" x2="626.4" y2="736.8" stroke="#fff" stroke-width="0.8" opacity="0.9"/>
<line x1="631.3000000000001" y1="736.8" x2="633.7" y2="736.8" stroke="#fff" stroke-width="0.8" opacity="0.9"/>
<text x="635.2" y="740.5" font-size="9.8" text-anchor="start" fill="#3c3c3c" style="">-2</text>
</svg>
</body></html>
